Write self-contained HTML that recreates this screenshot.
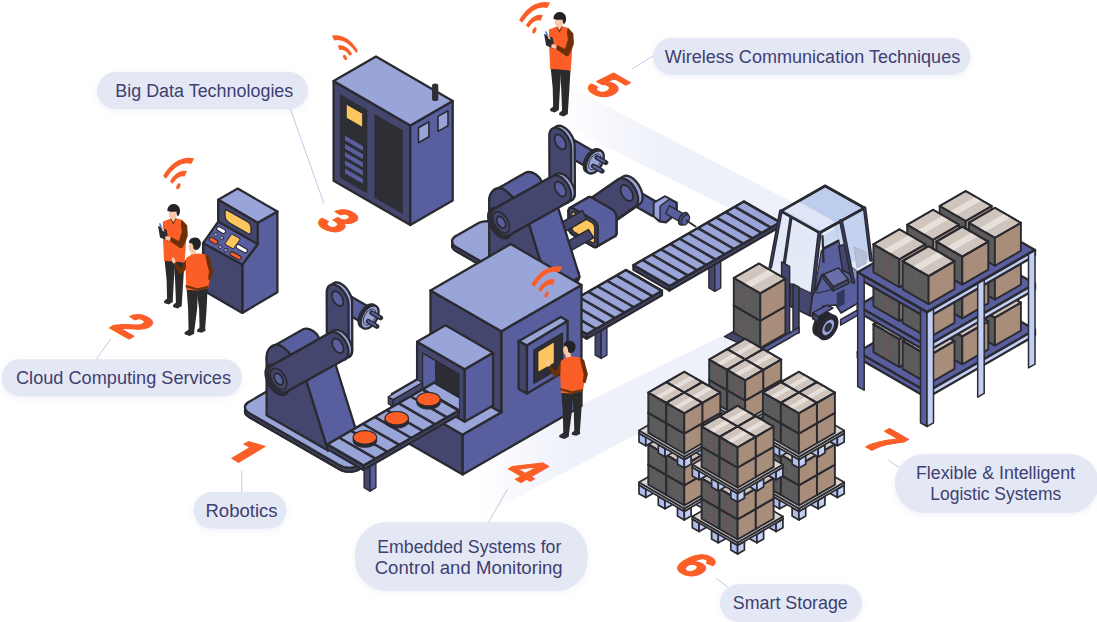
<!DOCTYPE html>
<html><head><meta charset="utf-8"><title>Industry 4.0</title>
<style>html,body{margin:0;padding:0;background:#fff;overflow:hidden}svg{display:block}</style></head>
<body><svg width="1097" height="622" viewBox="0 0 1097 622">
<defs><filter id="sh" x="-10%" y="-30%" width="120%" height="170%"><feDropShadow dx="0" dy="2" stdDeviation="3" flood-color="#8c96c8" flood-opacity="0.12"/></filter></defs>
<rect width="1097" height="622" fill="#fff"/>
<defs><linearGradient id="g1" gradientUnits="userSpaceOnUse" x1="556" y1="0" x2="660" y2="0"><stop offset="0" stop-color="#eff1fa" stop-opacity="0"/><stop offset="1" stop-color="#eff1fa" stop-opacity="1"/></linearGradient><linearGradient id="g2" gradientUnits="userSpaceOnUse" x1="475" y1="0" x2="570" y2="0"><stop offset="0" stop-color="#eff1fa" stop-opacity="0"/><stop offset="1" stop-color="#eff1fa" stop-opacity="1"/></linearGradient></defs>
<polygon points="556,80 556,121.5 790,238.5 800,206.2" fill="url(#g1)"/>
<polygon points="470,459 745,324.8 745,377.5 470,521.9" fill="url(#g2)"/>
<polygon points="230.9,458.2 248.9,447.4 242.8,444.1 248.6,440.9 266.3,446.3 238.5,462.9" fill="#fc5e27"/>
<text transform="matrix(0.866 0.500 -0.866 0.500 133.9 325.1)" x="0" y="16.5" text-anchor="middle" font-family="Liberation Sans, sans-serif" font-weight="bold" font-size="46" fill="#fc5e27" stroke="#fc5e27" stroke-width="1.6" stroke-linejoin="round">2</text>
<text transform="matrix(0.866 0.500 -0.866 0.500 339 220.5)" x="0" y="16.5" text-anchor="middle" font-family="Liberation Sans, sans-serif" font-weight="bold" font-size="46" fill="#fc5e27" stroke="#fc5e27" stroke-width="1.6" stroke-linejoin="round">3</text>
<text transform="matrix(0.866 0.500 -0.866 0.500 528.2 469.8)" x="0" y="16.5" text-anchor="middle" font-family="Liberation Sans, sans-serif" font-weight="bold" font-size="46" fill="#fc5e27" stroke="#fc5e27" stroke-width="1.6" stroke-linejoin="round">4</text>
<text transform="matrix(0.866 0.500 -0.866 0.500 608.5 85.4)" x="0" y="16.5" text-anchor="middle" font-family="Liberation Sans, sans-serif" font-weight="bold" font-size="46" fill="#fc5e27" stroke="#fc5e27" stroke-width="1.6" stroke-linejoin="round">5</text>
<text transform="matrix(0.866 0.500 -0.866 0.500 696.7 564.7)" x="0" y="16.5" text-anchor="middle" font-family="Liberation Sans, sans-serif" font-weight="bold" font-size="46" fill="#fc5e27" stroke="#fc5e27" stroke-width="1.6" stroke-linejoin="round">6</text>
<text transform="matrix(0.866 0.500 -0.866 0.500 885.9 441.6)" x="0" y="16.5" text-anchor="middle" font-family="Liberation Sans, sans-serif" font-weight="bold" font-size="46" fill="#fc5e27" stroke="#fc5e27" stroke-width="1.6" stroke-linejoin="round">7</text>
<polygon points="410.3,225 333.6,180.7 333.6,81.1 410.3,125.4" fill="#45466d" stroke="#2a2a31" stroke-width="2.3" stroke-linejoin="round" />
<polygon points="410.3,225 452.7,200.5 452.7,100.9 410.3,125.4" fill="#595e9f" stroke="#2a2a31" stroke-width="2.3" stroke-linejoin="round" />
<polygon points="410.3,125.4 333.6,81.1 376,56.6 452.7,100.9" fill="#99a5d9" stroke="#2a2a31" stroke-width="2.3" stroke-linejoin="round" />
<polygon points="340.2,94.5 367,110 367,193 340.2,177.5" fill="#2e2e35" stroke="#2a2a31" stroke-width="1" stroke-linejoin="round" stroke-dasharray="1 1"/>
<polygon points="374.8,114.5 402.5,130.5 402.5,213.5 374.8,197.5" fill="#2e2e35" stroke="#2a2a31" stroke-width="1" stroke-linejoin="round" stroke-dasharray="1 1"/>
<polygon points="346.2,104 362.7,113.5 362.7,127.5 346.2,118" fill="#fcc55d" stroke="#2a2a31" stroke-width="1" stroke-linejoin="round" />
<polygon points="344.5,135 363.5,146 363.5,151.6 344.5,140.6" fill="#595e9f" stroke="#2a2a31" stroke-width="0.8" stroke-linejoin="round" />
<polygon points="344.5,143.2 363.5,154.2 363.5,159.8 344.5,148.8" fill="#595e9f" stroke="#2a2a31" stroke-width="0.8" stroke-linejoin="round" />
<polygon points="344.5,151.4 363.5,162.4 363.5,168 344.5,157" fill="#595e9f" stroke="#2a2a31" stroke-width="0.8" stroke-linejoin="round" />
<polygon points="344.5,159.6 363.5,170.6 363.5,176.2 344.5,165.2" fill="#595e9f" stroke="#2a2a31" stroke-width="0.8" stroke-linejoin="round" />
<polygon points="344.5,167.8 363.5,178.8 363.5,184.4 344.5,173.4" fill="#595e9f" stroke="#2a2a31" stroke-width="0.8" stroke-linejoin="round" />
<polygon points="418.5,127.7 428.9,121.7 428.9,136.7 418.5,142.7" fill="#99a5d9" stroke="#2a2a31" stroke-width="1.6" stroke-linejoin="round" />
<polygon points="438,116.4 448,110.7 448,125.7 438,131.4" fill="#99a5d9" stroke="#2a2a31" stroke-width="1.6" stroke-linejoin="round" />
<path d="M432.7 85.5 V99 a2.5 1.5 0 0 0 5 0 V85.5 a2.5 1.5 0 0 0 -5 0Z" fill="#2e2e35" stroke="#2a2a31" stroke-width="1.2"/>
<path d="M331.9 35.6 Q347.1 33 357.9 50.7 L356.4 53 Q345.8 37.9 334.2 40.4 Z M337.8 45.6 Q345.9 43.8 352.1 53.9 L349.9 56 Q344.9 48.5 339.4 50.1 Z" fill="#fc5e27"/>
<ellipse cx="345" cy="57.5" rx="1.7" ry="2.8" fill="#fc5e27" transform="rotate(-30 345 57.5)"/>
<polygon points="257.6,222.8 277.4,211.5 277.4,292.2 242.3,312.9 242.3,264.5 257.6,244.2" fill="#595e9f" stroke="#2a2a31" stroke-width="2.3" stroke-linejoin="round" />
<polygon points="218.2,199.8 237.7,188.6 277.4,211.5 257.6,222.8" fill="#99a5d9" stroke="#2a2a31" stroke-width="2.3" stroke-linejoin="round" />
<polygon points="218.2,199.8 257.6,222.8 257.6,244.2 218.2,221.7" fill="#45466d" stroke="#2a2a31" stroke-width="2.3" stroke-linejoin="round" />
<polygon points="203.1,243.1 242.3,264.5 242.3,312.9 203.1,290.2" fill="#45466d" stroke="#2a2a31" stroke-width="2.3" stroke-linejoin="round" />
<polygon points="218.2,221.7 257.6,244.2 242.3,264.5 203.1,243.1" fill="#595e9f" stroke="#2a2a31" stroke-width="2.3" stroke-linejoin="round" />
<path d="M225 212.3 Q224.6 208.8 228 210.6 L247.5 221.8 Q251 224 251 228 L251 232 Q251 235.2 247.5 233.3 L230 223.2 Q225.3 220.5 225 216 Z" fill="#fcc55d" stroke="#2a2a31" stroke-width="1.3" stroke-linejoin="round" stroke-linecap="round" />
<line x1="218.8" y1="228.7" x2="223.5" y2="231.4" stroke="#2a2a31" stroke-width="5.2" stroke-linecap="round" />
<line x1="218.8" y1="228.7" x2="223.5" y2="231.4" stroke="#ffffff" stroke-width="3" stroke-linecap="round" />
<line x1="238.2" y1="246.6" x2="245.3" y2="250.7" stroke="#2a2a31" stroke-width="5.2" stroke-linecap="round" />
<line x1="238.2" y1="246.6" x2="245.3" y2="250.7" stroke="#ffffff" stroke-width="3" stroke-linecap="round" />
<line x1="211.3" y1="239.4" x2="216" y2="242.1" stroke="#2a2a31" stroke-width="5.2" stroke-linecap="round" />
<line x1="211.3" y1="239.4" x2="216" y2="242.1" stroke="#fc5e27" stroke-width="3" stroke-linecap="round" />
<line x1="232.1" y1="253.7" x2="239.2" y2="257.7" stroke="#2a2a31" stroke-width="5.2" stroke-linecap="round" />
<line x1="232.1" y1="253.7" x2="239.2" y2="257.7" stroke="#fc5e27" stroke-width="3" stroke-linecap="round" />
<polygon points="231.7,233.9 240.4,238.9 233.3,248.9 224.6,244" fill="#fcc55d" stroke="#2a2a31" stroke-width="1" stroke-linejoin="round" />
<ellipse cx="215.8" cy="234.5" rx="1.9" ry="1.7" fill="#99a5d9" stroke="#2a2a31" stroke-width="1" transform="rotate(0 215.8 234.5)"/>
<ellipse cx="221.7" cy="237.8" rx="1.9" ry="1.7" fill="#99a5d9" stroke="#2a2a31" stroke-width="1" transform="rotate(0 221.7 237.8)"/>
<ellipse cx="220.3" cy="246.9" rx="1.9" ry="1.7" fill="#99a5d9" stroke="#2a2a31" stroke-width="1" transform="rotate(0 220.3 246.9)"/>
<ellipse cx="225.8" cy="250.1" rx="1.9" ry="1.7" fill="#99a5d9" stroke="#2a2a31" stroke-width="1" transform="rotate(0 225.8 250.1)"/>
<path d="M163.1 175.9 Q175.6 155 194.2 158.3 L191.3 164 Q178.3 160 165.9 178.7 Z M169.9 181.2 Q177.4 168.5 186.9 171.1 L184.6 176.6 Q178.7 174.6 172.5 183.7 Z" fill="#fc5e27"/>
<ellipse cx="178.4" cy="186.3" rx="1.8" ry="3.2" fill="#fc5e27" transform="rotate(25 178.4 186.3)"/>
<polygon points="164.6,260 174.6,261 174.1,276 172.8,300 167.1,300 166.6,280" fill="#2b2b2e"/>
<polygon points="173.6,261 184.4,262 183.2,282 181.8,304 176,304 175.1,280" fill="#2b2b2e"/>
<polygon points="164.1,301 167.1,298.5 172.8,299.5 172.8,302 168.6,304.5 164.1,303" fill="#2d2c33"/>
<polygon points="173.1,305 176,302.5 181.8,303.5 181.8,306 177.6,308.5 173.1,307" fill="#2d2c33"/>
<polygon points="171.1,216 176.1,216 176.1,223 171.1,223" fill="#fbc8a7"/>
<ellipse cx="172.8" cy="214.2" rx="4" ry="5.2" fill="#fbc8a7"/>
<path d="M167.3 210.5 a6.3 6 0 0 1 12.6 -0.8 q0.6 4 -2.2 6.8 q-1.2 -2.5 -1.4 -5 q-4 0.8 -8 -0.3 q-0.8 -0.2 -1 -0.7z" fill="#232326"/>
<polygon points="162.8,221.5 170.2,218.8 173.3,223 176.8,218.6 181.8,219.8 187,225.5 186.1,242 184.6,262.8 175.6,261.5 164.1,261 163.1,240" fill="#fc5e27"/>
<polygon points="170.2,218.8 173.3,224.5 176.8,218.6 175.8,218.3 173.3,222.3 171,218.5" fill="#6d3008"/>
<polygon points="181.8,219.8 187.2,225.5 187.8,236 182.8,247.5 180.6,248.5 169,240.5 170.4,236.8 178.8,241 181.8,232 180.8,224" fill="#6d3008"/>
<polygon points="158,225.8 166.6,229.8 168.6,241 160,237.6" fill="#2b2b32"/>
<polygon points="158.8,223.5 160.4,223.2 162.4,228 161.2,228.6" fill="#3c7be0"/>
<polygon points="165.6,236 170.6,237 170,241 165.1,239.5" fill="#fbc8a7"/>
<polygon points="161.1,227 163.1,227.5 164.6,231.5 162.6,231" fill="#fbc8a7"/>
<polygon points="186.6,288.2 198.1,289.2 197.1,309.2 194.1,332.2 188.6,331.2 188.1,309.2" fill="#2b2b2e"/>
<polygon points="196.6,289.2 207.6,287.2 206.6,309.2 205.1,329.2 199.6,329.7 199.1,309.2" fill="#2b2b2e"/>
<polygon points="184.6,332.2 188.6,329.7 194.1,331.2 194.1,333.7 189.6,336 184.6,334.2" fill="#2d2c33"/>
<polygon points="197.1,329.7 199.6,327.7 205.1,328.2 205.6,330.7 201.6,332.7 197.1,331.7" fill="#2d2c33"/>
<ellipse cx="192.4" cy="247" rx="4" ry="5.2" fill="#fbc8a7"/>
<polygon points="190.6,249.2 195.6,249.2 196.6,255.7 191.1,255.7" fill="#fbc8a7"/>
<path d="M188.8 242.4 a6.2 6 0 0 1 12 -0.6 q0.6 4.8 -2.6 7.6 q-3 1.2 -4.6 -0.6 q-0.2 -3.2 -1.4 -5.4 q-1.8 -0.2 -3.4 -1z" fill="#232326"/>
<polygon points="188.1,256.7 191.1,263.2 182.1,273.7 179.1,273.7 173.6,263.7 175.8,262.2 180.6,268.2 185.6,259.7" fill="#6d3008"/>
<polygon points="172,257.4 174,257.2 175.8,262.2 173.6,263.7 171.6,260.7" fill="#fbc8a7"/>
<polygon points="186.1,258 191.6,254.4 198.6,253.4 205.1,254.2 209.2,257.2 210.6,274.2 208.2,288 197.6,290.5 186.4,289.8 185.6,273.2" fill="#fc5e27"/>
<polygon points="185.6,287.2 197.6,290.5 208.2,288 208.4,285.8 197.6,288.2 185.6,285" fill="#6d3008"/>
<polygon points="205.1,254.2 209.4,256.8 213.2,271.2 210.8,280.2 208,279.2 209,271.2 206.6,262.2" fill="#6d3008"/>
<polygon points="550.7,68 560.7,69 560.2,84 558.9,108 553.2,108 552.7,88" fill="#2b2b2e"/>
<polygon points="559.7,69 570.5,70 569.3,90 567.9,112 562.1,112 561.2,88" fill="#2b2b2e"/>
<polygon points="550.2,109 553.2,106.5 558.9,107.5 558.9,110 554.7,112.5 550.2,111" fill="#2d2c33"/>
<polygon points="559.2,113 562.1,110.5 567.9,111.5 567.9,114 563.7,116.5 559.2,115" fill="#2d2c33"/>
<polygon points="557.2,24 562.2,24 562.2,31 557.2,31" fill="#fbc8a7"/>
<ellipse cx="558.9" cy="22.2" rx="4" ry="5.2" fill="#fbc8a7"/>
<path d="M553.4 18.5 a6.3 6 0 0 1 12.6 -0.8 q0.6 4 -2.2 6.8 q-1.2 -2.5 -1.4 -5 q-4 0.8 -8 -0.3 q-0.8 -0.2 -1 -0.7z" fill="#232326"/>
<polygon points="548.9,29.5 556.3,26.8 559.4,31 562.9,26.6 567.9,27.8 573.1,33.5 572.2,50 570.7,70.8 561.7,69.5 550.2,69 549.2,48" fill="#fc5e27"/>
<polygon points="556.3,26.8 559.4,32.5 562.9,26.6 561.9,26.3 559.4,30.3 557.1,26.5" fill="#6d3008"/>
<polygon points="567.9,27.8 573.3,33.5 573.9,44 568.9,55.5 566.7,56.5 555.1,48.5 556.5,44.8 564.9,49 567.9,40 566.9,32" fill="#6d3008"/>
<polygon points="544.1,33.8 552.7,37.8 554.7,49 546.1,45.6" fill="#2b2b32"/>
<polygon points="544.9,31.5 546.5,31.2 548.5,36 547.3,36.6" fill="#3c7be0"/>
<polygon points="551.7,44 556.7,45 556.1,49 551.2,47.5" fill="#fbc8a7"/>
<polygon points="547.2,35 549.2,35.5 550.7,39.5 548.7,39" fill="#fbc8a7"/>
<path d="M519.1 20 Q531.6 -0.9 550.2 2.4 L547.3 8.1 Q534.3 4.1 521.9 22.8 Z M525.9 25.3 Q533.4 12.6 542.9 15.2 L540.6 20.7 Q534.7 18.7 528.5 27.8 Z" fill="#fc5e27"/>
<ellipse cx="534.4" cy="30.4" rx="1.8" ry="3.2" fill="#fc5e27" transform="rotate(25 534.4 30.4)"/>
<polygon points="456,240 454.4,241.2 453.1,242.5 452.3,244 452.1,245.5 452.3,247 453.1,248.5 454.4,249.8 456,251 534,296 536,297 538.3,297.7 540.9,298.1 543.5,298.3 546.1,298.1 548.7,297.7 551,297 553,296 574.7,283.5 576.3,282.3 577.6,281 578.4,279.5 578.6,278 578.4,276.5 577.6,275 576.3,273.7 574.7,272.5 496.7,227.5 494.7,226.5 492.4,225.8 489.8,225.4 487.2,225.2 484.6,225.4 482,225.8 479.7,226.5 477.7,227.5" fill="#45466d" stroke="#2a2a31" stroke-width="2.3" stroke-linejoin="round" />
<polygon points="456,236 454.4,237.2 453.1,238.5 452.3,240 452.1,241.5 452.3,243 453.1,244.5 454.4,245.8 456,247 534,292 536,293 538.3,293.7 540.9,294.1 543.5,294.3 546.1,294.1 548.7,293.7 551,293 553,292 574.7,279.5 576.3,278.3 577.6,277 578.4,275.5 578.6,274 578.4,272.5 577.6,271 576.3,269.7 574.7,268.5 574.7,272.5 576.3,273.7 577.6,275 578.4,276.5 578.6,278 578.4,279.5 577.6,281 576.3,282.3 574.7,283.5 553,296 551,297 548.7,297.7 546.1,298.1 543.5,298.3 540.9,298.1 538.3,297.7 536,297 534,296 456,251 454.4,249.8 453.1,248.5 452.3,247 452.1,245.5 452.3,244 453.1,242.5 454.4,241.2 456,240" fill="#45466d" stroke="#2a2a31" stroke-width="2.3" stroke-linejoin="round" />
<polygon points="456,236 454.4,237.2 453.1,238.5 452.3,240 452.1,241.5 452.3,243 453.1,244.5 454.4,245.8 456,247 534,292 536,293 538.3,293.7 540.9,294.1 543.5,294.3 546.1,294.1 548.7,293.7 551,293 553,292 574.7,279.5 576.3,278.3 577.6,277 578.4,275.5 578.6,274 578.4,272.5 577.6,271 576.3,269.7 574.7,268.5 496.7,223.5 494.7,222.5 492.4,221.8 489.8,221.4 487.2,221.2 484.6,221.4 482,221.8 479.7,222.5 477.7,223.5" fill="#99a5d9" stroke="#2a2a31" stroke-width="2.3" stroke-linejoin="round" />
<polygon points="639.4,192.1 660.2,204.1 652.3,215.9 631.5,203.9" fill="#595e9f" stroke="#2a2a31" stroke-width="2.3" stroke-linejoin="round" />
<polygon points="653.9,202.8 665.1,196.4 676.7,202.8 676.7,213.4 665.9,222.4 659.5,221.3 653.9,216.4" fill="#595e9f" stroke="#2a2a31" stroke-width="2.3" stroke-linejoin="round" />
<polygon points="653.9,202.8 665.1,196.4 669.5,199 660,206.2 660,221.3 653.9,216.4" fill="#99a5d9" stroke="#2a2a31" stroke-width="1.4" stroke-linejoin="round" />
<polygon points="669.4,205.7 683.9,214.1 680.1,221.9 665.6,213.5" fill="#595e9f" stroke="#2a2a31" stroke-width="1.4" stroke-linejoin="round" />
<polygon points="688.2,216 688.1,214.8 687.8,213.8 687.2,213.1 686.4,212.7 685.5,212.5 684.5,212.7 683.4,213.2 682.3,214 681.3,215 680.4,216.2 679.6,217.5 679,218.9 678.7,220.3 678.6,221.6 678.7,222.8 679,223.8 679.6,224.5 680.4,224.9 681.3,225.1 682.3,224.9 683.4,224.4 684.5,223.6 685.5,222.6 686.4,221.4 687.2,220.1 687.8,218.7 688.1,217.3" fill="#45466d" stroke="#2a2a31" stroke-width="1.4" stroke-linejoin="round" />
<polygon points="689.6,217.7 689.5,216.7 689.2,215.9 688.7,215.3 688.1,215 687.3,214.9 686.5,215 685.6,215.4 684.7,216 683.9,216.9 683.1,217.8 682.5,218.9 682,220.1 681.7,221.2 681.6,222.3 681.7,223.3 682,224.1 682.5,224.7 683.1,225 683.9,225.1 684.7,225 685.6,224.6 686.5,224 687.3,223.1 688.1,222.2 688.7,221.1 689.2,219.9 689.5,218.8" fill="#595e9f" stroke="#2a2a31" stroke-width="1.2" stroke-linejoin="round" />
<line x1="686.5" y1="220.6" x2="695.5" y2="226.6" stroke="#2a2a31" stroke-width="1.8" stroke-linecap="round" />
<polygon points="616.4,216.9 616.2,215.5 615.8,214 615.1,212.6 614.2,211.3 613.2,210.2 612,209.4 591.6,197.6 590.5,197.1 589.4,197 588.5,197.2 587.9,197.9 587.4,198.8 587.3,200.1 587.3,216.4 587.4,217.8 587.9,219.3 588.5,220.7 589.4,222 590.5,223.1 591.6,223.9 612,235.8 613.2,236.2 614.2,236.3 615.1,236.1 615.8,235.4 616.2,234.5 616.4,233.2" fill="#595e9f" stroke="#2a2a31" stroke-width="2.3" stroke-linejoin="round" />
<polygon points="597.7,227.6 597.6,226.2 616.2,215.5 616.4,216.9" fill="#595e9f" stroke="#595e9f" stroke-width="0.6"/>
<polygon points="597.6,226.2 597.2,224.8 615.8,214 616.2,215.5" fill="#595e9f" stroke="#595e9f" stroke-width="0.6"/>
<polygon points="597.2,224.8 596.5,223.3 615.1,212.6 615.8,214" fill="#595e9f" stroke="#595e9f" stroke-width="0.6"/>
<polygon points="596.5,223.3 595.6,222 614.2,211.3 615.1,212.6" fill="#595e9f" stroke="#595e9f" stroke-width="0.6"/>
<polygon points="595.6,222 594.5,220.9 613.2,210.2 614.2,211.3" fill="#595e9f" stroke="#595e9f" stroke-width="0.6"/>
<polygon points="594.5,220.9 593.4,220.1 612,209.4 613.2,210.2" fill="#595e9f" stroke="#595e9f" stroke-width="0.6"/>
<polygon points="593.4,220.1 573,208.3 591.6,197.6 612,209.4" fill="#595e9f" stroke="#595e9f" stroke-width="0.6"/>
<polygon points="573,208.3 571.9,207.8 590.5,197.1 591.6,197.6" fill="#595e9f" stroke="#595e9f" stroke-width="0.6"/>
<polygon points="571.9,207.8 570.8,207.7 589.4,197 590.5,197.1" fill="#595e9f" stroke="#595e9f" stroke-width="0.6"/>
<polygon points="570.8,207.7 569.9,208 588.5,197.2 589.4,197" fill="#595e9f" stroke="#595e9f" stroke-width="0.6"/>
<polygon points="569.9,208 569.2,208.6 587.9,197.9 588.5,197.2" fill="#595e9f" stroke="#595e9f" stroke-width="0.6"/>
<polygon points="569.2,208.6 568.8,209.6 587.4,198.8 587.9,197.9" fill="#595e9f" stroke="#595e9f" stroke-width="0.6"/>
<polygon points="568.8,209.6 568.7,210.8 587.3,200.1 587.4,198.8" fill="#595e9f" stroke="#595e9f" stroke-width="0.6"/>
<polygon points="568.7,210.8 568.7,227.2 587.3,216.4 587.3,200.1" fill="#595e9f" stroke="#595e9f" stroke-width="0.6"/>
<polygon points="568.7,227.2 568.8,228.6 587.4,217.8 587.3,216.4" fill="#595e9f" stroke="#595e9f" stroke-width="0.6"/>
<polygon points="568.8,228.6 569.2,230 587.9,219.3 587.4,217.8" fill="#595e9f" stroke="#595e9f" stroke-width="0.6"/>
<polygon points="569.2,230 569.9,231.5 588.5,220.7 587.9,219.3" fill="#595e9f" stroke="#595e9f" stroke-width="0.6"/>
<polygon points="569.9,231.5 570.8,232.8 589.4,222 588.5,220.7" fill="#595e9f" stroke="#595e9f" stroke-width="0.6"/>
<polygon points="570.8,232.8 571.9,233.9 590.5,223.1 589.4,222" fill="#595e9f" stroke="#595e9f" stroke-width="0.6"/>
<polygon points="571.9,233.9 573,234.7 591.6,223.9 590.5,223.1" fill="#595e9f" stroke="#595e9f" stroke-width="0.6"/>
<polygon points="573,234.7 593.4,246.5 612,235.8 591.6,223.9" fill="#595e9f" stroke="#595e9f" stroke-width="0.6"/>
<polygon points="593.4,246.5 594.5,247 613.2,236.2 612,235.8" fill="#595e9f" stroke="#595e9f" stroke-width="0.6"/>
<polygon points="594.5,247 595.6,247.1 614.2,236.3 613.2,236.2" fill="#595e9f" stroke="#595e9f" stroke-width="0.6"/>
<polygon points="595.6,247.1 596.5,246.8 615.1,236.1 614.2,236.3" fill="#595e9f" stroke="#595e9f" stroke-width="0.6"/>
<polygon points="596.5,246.8 597.2,246.2 615.8,235.4 615.1,236.1" fill="#595e9f" stroke="#595e9f" stroke-width="0.6"/>
<polygon points="597.2,246.2 597.6,245.2 616.2,234.5 615.8,235.4" fill="#595e9f" stroke="#595e9f" stroke-width="0.6"/>
<polygon points="597.6,245.2 597.7,244 616.4,233.2 616.2,234.5" fill="#595e9f" stroke="#595e9f" stroke-width="0.6"/>
<polygon points="597.7,244 597.7,227.6 616.4,216.9 616.4,233.2" fill="#595e9f" stroke="#595e9f" stroke-width="0.6"/>
<polygon points="568.6,210.8 568.8,209.6 569.2,208.6 569.9,208 588.5,197.2 589.4,197 590.5,197.1 591.6,197.6 612,209.3 613.2,210.2 614.2,211.3 615.1,212.6 615.8,214 616.2,215.5 616.4,216.8 616.4,233.2 616.2,234.5 615.8,235.4 615.1,236.1 596.5,246.8 595.6,247.1 594.5,247 593.4,246.5 573,234.7 571.9,233.9 570.8,232.8 569.9,231.5 569.2,230 568.8,228.6 568.6,227.2" fill="none" stroke="#2a2a31" stroke-width="2.3" stroke-linejoin="round" />
<polygon points="639.6,204.3 640.9,203 641.9,201.2 642.4,199 642.5,196.5 642.2,193.7 641.5,190.9 640.3,188 638.8,185.2 637,182.6 635,180.3 632.8,178.4 630.6,177 628.4,176.1 626.3,175.7 624.3,176 622.7,176.7 597.4,194.2 614.3,221.8" fill="#99a5d9" stroke="#2a2a31" stroke-width="2.3" stroke-linejoin="round" />
<polygon points="635.3,206.8 636.6,205.5 637.6,203.7 638.1,201.5 638.2,199 637.9,196.2 637.1,193.4 636,190.5 634.5,187.7 632.7,185.1 630.7,182.8 628.5,180.9 626.3,179.5 624,178.6 621.9,178.2 620,178.5 618.3,179.2 593,196.7 610,224.3" fill="#45466d" stroke="#2a2a31" stroke-width="2.3" stroke-linejoin="round" />
<polygon points="633,196.6 632.9,194.9 632.4,193.1 631.7,191.3 630.7,189.6 629.5,188.1 628.2,186.8 626.8,185.8 625.4,185.2 624.1,185 622.9,185.1 621.9,185.7 621.2,186.6 620.7,187.9 620.6,189.4 620.7,191.1 621.2,192.9 621.9,194.7 622.9,196.4 624.1,197.9 625.4,199.2 626.8,200.2 628.2,200.8 629.5,201 630.7,200.9 631.7,200.3 632.4,199.4 632.9,198.1" fill="#595e9f" stroke="#2a2a31" stroke-width="1.8" stroke-linejoin="round" />
<polygon points="597.7,227.6 597.6,226.2 616.2,215.5 616.4,216.9" fill="#595e9f" stroke="#595e9f" stroke-width="0.6"/>
<polygon points="597.6,226.2 597.2,224.8 615.8,214 616.2,215.5" fill="#595e9f" stroke="#595e9f" stroke-width="0.6"/>
<polygon points="597.2,224.8 596.5,223.3 615.1,212.6 615.8,214" fill="#595e9f" stroke="#595e9f" stroke-width="0.6"/>
<polygon points="596.5,223.3 595.6,222 614.2,211.3 615.1,212.6" fill="#595e9f" stroke="#595e9f" stroke-width="0.6"/>
<polygon points="595.6,222 594.5,220.9 613.2,210.2 614.2,211.3" fill="#595e9f" stroke="#595e9f" stroke-width="0.6"/>
<polygon points="594.5,220.9 593.4,220.1 612,209.4 613.2,210.2" fill="#595e9f" stroke="#595e9f" stroke-width="0.6"/>
<polygon points="593.4,220.1 573,208.3 591.6,197.6 612,209.4" fill="#595e9f" stroke="#595e9f" stroke-width="0.6"/>
<polygon points="573,208.3 571.9,207.8 590.5,197.1 591.6,197.6" fill="#595e9f" stroke="#595e9f" stroke-width="0.6"/>
<polygon points="571.9,207.8 570.8,207.7 589.4,197 590.5,197.1" fill="#595e9f" stroke="#595e9f" stroke-width="0.6"/>
<polygon points="570.8,207.7 569.9,208 588.5,197.2 589.4,197" fill="#595e9f" stroke="#595e9f" stroke-width="0.6"/>
<polygon points="569.9,208 569.2,208.6 587.9,197.9 588.5,197.2" fill="#595e9f" stroke="#595e9f" stroke-width="0.6"/>
<polygon points="569.2,208.6 568.8,209.6 587.4,198.8 587.9,197.9" fill="#595e9f" stroke="#595e9f" stroke-width="0.6"/>
<polygon points="568.8,209.6 568.7,210.8 587.3,200.1 587.4,198.8" fill="#595e9f" stroke="#595e9f" stroke-width="0.6"/>
<polygon points="568.7,210.8 568.7,227.2 587.3,216.4 587.3,200.1" fill="#595e9f" stroke="#595e9f" stroke-width="0.6"/>
<polygon points="568.7,227.2 568.8,228.6 587.4,217.8 587.3,216.4" fill="#595e9f" stroke="#595e9f" stroke-width="0.6"/>
<polygon points="568.8,228.6 569.2,230 587.9,219.3 587.4,217.8" fill="#595e9f" stroke="#595e9f" stroke-width="0.6"/>
<polygon points="569.2,230 569.9,231.5 588.5,220.7 587.9,219.3" fill="#595e9f" stroke="#595e9f" stroke-width="0.6"/>
<polygon points="569.9,231.5 570.8,232.8 589.4,222 588.5,220.7" fill="#595e9f" stroke="#595e9f" stroke-width="0.6"/>
<polygon points="570.8,232.8 571.9,233.9 590.5,223.1 589.4,222" fill="#595e9f" stroke="#595e9f" stroke-width="0.6"/>
<polygon points="571.9,233.9 573,234.7 591.6,223.9 590.5,223.1" fill="#595e9f" stroke="#595e9f" stroke-width="0.6"/>
<polygon points="573,234.7 593.4,246.5 612,235.8 591.6,223.9" fill="#595e9f" stroke="#595e9f" stroke-width="0.6"/>
<polygon points="593.4,246.5 594.5,247 613.2,236.2 612,235.8" fill="#595e9f" stroke="#595e9f" stroke-width="0.6"/>
<polygon points="594.5,247 595.6,247.1 614.2,236.3 613.2,236.2" fill="#595e9f" stroke="#595e9f" stroke-width="0.6"/>
<polygon points="595.6,247.1 596.5,246.8 615.1,236.1 614.2,236.3" fill="#595e9f" stroke="#595e9f" stroke-width="0.6"/>
<polygon points="596.5,246.8 597.2,246.2 615.8,235.4 615.1,236.1" fill="#595e9f" stroke="#595e9f" stroke-width="0.6"/>
<polygon points="597.2,246.2 597.6,245.2 616.2,234.5 615.8,235.4" fill="#595e9f" stroke="#595e9f" stroke-width="0.6"/>
<polygon points="597.6,245.2 597.7,244 616.4,233.2 616.2,234.5" fill="#595e9f" stroke="#595e9f" stroke-width="0.6"/>
<polygon points="597.7,244 597.7,227.6 616.4,216.9 616.4,233.2" fill="#595e9f" stroke="#595e9f" stroke-width="0.6"/>
<polygon points="568.6,210.8 568.8,209.6 569.2,208.6 569.9,208 588.5,197.2 589.4,197 590.5,197.1 591.6,197.6 612,209.3 613.2,210.2 614.2,211.3 615.1,212.6 615.8,214 616.2,215.5 616.4,216.8 616.4,233.2 616.2,234.5 615.8,235.4 615.1,236.1 596.5,246.8 595.6,247.1 594.5,247 593.4,246.5 573,234.7 571.9,233.9 570.8,232.8 569.9,231.5 569.2,230 568.8,228.6 568.6,227.2" fill="none" stroke="#2a2a31" stroke-width="2.3" stroke-linejoin="round" />
<polygon points="597.7,227.6 597.6,226.2 597.2,224.8 596.5,223.3 595.6,222 594.5,220.9 593.4,220.1 573,208.3 571.9,207.8 570.8,207.7 569.9,208 569.2,208.6 568.8,209.6 568.7,210.8 568.7,227.2 568.8,228.6 569.2,230 569.9,231.5 570.8,232.8 571.9,233.9 573,234.7 593.4,246.5 594.5,247 595.6,247.1 596.5,246.8 597.2,246.2 597.6,245.2 597.7,244" fill="#45466d" stroke="#2a2a31" stroke-width="2.3" stroke-linejoin="round" />
<polygon points="594.8,227.6 594.7,226.6 594.4,225.6 593.9,224.6 593.3,223.7 592.6,222.9 591.8,222.3 574.6,212.5 573.8,212.1 573.1,212 572.5,212.2 572,212.7 571.7,213.4 571.6,214.2 571.6,227.2 571.7,228.2 572,229.2 572.5,230.2 573.1,231.1 573.8,231.9 574.6,232.5 591.8,242.3 592.6,242.7 593.3,242.8 593.9,242.6 594.4,242.1 594.7,241.4 594.8,240.6" fill="#fcc55d" stroke="#2a2a31" stroke-width="1.5" stroke-linejoin="round" />
<polygon points="552.4,227.8 582.4,210.5 586.6,219.1 557.7,235.8" fill="#45466d" stroke="#2a2a31" stroke-width="1.6" stroke-linejoin="round" />
<polygon points="558.4,233.8 558.3,232.8 558.1,231.9 557.7,230.9 557.2,230 556.5,229.1 555.8,228.4 555.1,227.9 554.3,227.6 553.6,227.4 552.9,227.5 552.4,227.8 552,228.4 551.8,229 551.7,229.9 551.8,230.8 552,231.7 552.4,232.7 552.9,233.6 553.6,234.5 554.3,235.2 555.1,235.7 555.8,236 556.5,236.2 557.2,236.1 557.7,235.8 558.1,235.2 558.3,234.6" fill="#45466d" stroke="#2a2a31" stroke-width="1.6" stroke-linejoin="round" />
<polygon points="559.4,246.3 588.4,229.6 593.6,237.6 563.7,254.9" fill="#45466d" stroke="#2a2a31" stroke-width="1.6" stroke-linejoin="round" />
<polygon points="564.9,252.5 564.8,251.6 564.6,250.7 564.2,249.7 563.7,248.8 563,247.9 562.3,247.2 561.6,246.7 560.8,246.4 560.1,246.2 559.4,246.3 558.9,246.6 558.5,247.2 558.3,247.8 558.2,248.7 558.3,249.6 558.5,250.5 558.9,251.5 559.4,252.4 560.1,253.3 560.8,254 561.6,254.5 562.3,254.8 563,255 563.7,254.9 564.2,254.6 564.6,254 564.8,253.4" fill="#45466d" stroke="#2a2a31" stroke-width="1.6" stroke-linejoin="round" />
<path d="M489.2 203.5 C489.2 194.8 492.1 191.9 495 190 L524.9 173 C529.7 170.5 535.5 173.1 539.3 177.4 L558.6 209.3 L579.7 277 L550.5 293.9 L528.7 223.7 Z" fill="#595e9f" stroke="#2a2a31" stroke-width="2.3" stroke-linejoin="round" stroke-linecap="round" />
<path d="M489.2 258.5 L489.2 199.6 C489.6 191.9 495 188 499.8 188 C508.5 189 522 207.3 528.7 223.7 L550.5 293.9 Z" fill="#45466d" stroke="#2a2a31" stroke-width="2.3" stroke-linejoin="round" stroke-linecap="round" />
<polygon points="570.9,138.2 597.8,153.7 590.2,169.1 563.3,153.6" fill="#595e9f" stroke="#2a2a31" stroke-width="2.3" stroke-linejoin="round" />
<polygon points="601.8,155.5 601.5,153.3 600.9,151.5 599.8,150.2 598.4,149.3 596.7,149.1 594.8,149.4 592.8,150.3 590.8,151.7 588.9,153.6 587.1,155.8 585.7,158.3 584.6,160.9 584,163.5 583.8,165.9 584,168.1 584.6,169.9 585.7,171.2 587.1,172.1 588.9,172.3 590.8,172 592.8,171.1 594.8,169.7 596.7,167.8 598.4,165.6 599.8,163.1 600.9,160.5 601.5,157.9" fill="#45466d" stroke="#2a2a31" stroke-width="2.3" stroke-linejoin="round" />
<polygon points="603.8,156.7 603.6,154.5 603,152.7 601.9,151.4 600.5,150.5 598.7,150.3 596.8,150.6 594.8,151.5 592.8,152.9 590.9,154.8 589.2,157 587.8,159.5 586.7,162.1 586.1,164.7 585.8,167.1 586.1,169.3 586.7,171.1 587.8,172.4 589.2,173.3 590.9,173.5 592.8,173.2 594.8,172.3 596.8,170.9 598.7,169 600.5,166.8 601.9,164.3 603,161.7 603.6,159.1" fill="#99a5d9" stroke="#2a2a31" stroke-width="2.3" stroke-linejoin="round" />
<polygon points="601.1,158.3 600.9,156.8 600.5,155.5 599.7,154.6 598.7,154 597.5,153.9 596.2,154.1 594.8,154.7 593.5,155.7 592.1,157 591,158.5 590,160.2 589.2,162 588.8,163.8 588.6,165.5 588.8,167 589.2,168.3 590,169.2 591,169.8 592.1,169.9 593.5,169.7 594.8,169.1 596.2,168.1 597.5,166.8 598.7,165.3 599.7,163.6 600.5,161.8 600.9,160" fill="#99a5d9" stroke="#2a2a31" stroke-width="0.9" stroke-linejoin="round" />
<line x1="597.1" y1="157.6" x2="605.8" y2="162.6" stroke="#2a2a31" stroke-width="5" stroke-linecap="round" />
<line x1="597.4" y1="157.8" x2="604.2" y2="161.7" stroke="#595e9f" stroke-width="2.2" stroke-linecap="round" />
<line x1="593.5" y1="166.1" x2="602.1" y2="171.1" stroke="#2a2a31" stroke-width="5" stroke-linecap="round" />
<line x1="593.7" y1="166.3" x2="600.6" y2="170.2" stroke="#595e9f" stroke-width="2.2" stroke-linecap="round" />
<polygon points="574.7,146 574.5,143.5 573.9,140.7 572.9,138 571.5,135.3 569.9,132.8 568,130.5 565.9,128.6 563.8,127.2 561.7,126.2 559.6,125.7 557.7,125.8 556.1,126.5 554.7,127.6 553.7,129.2 553.1,131.2 552.9,133.6 553.1,180.8 553.3,183.3 554,186.1 555,188.8 556.4,191.5 558,194 559.9,196.3 562,198.2 564.1,199.6 566.2,200.6 568.3,201.1 570.1,201 571.8,200.3 573.1,199.2 574.1,197.6 574.7,195.6 574.9,193.2" fill="#99a5d9" stroke="#2a2a31" stroke-width="2.3" stroke-linejoin="round" />
<polygon points="571.1,148.1 570.9,145.6 570.3,142.8 569.2,140.1 567.9,137.4 566.2,134.9 564.3,132.6 562.3,130.7 560.1,129.3 558,128.3 556,127.8 554.1,127.9 552.4,128.6 551.1,129.7 550.1,131.3 549.5,133.3 549.3,135.7 549.5,182.9 549.7,185.4 550.3,188.2 551.4,190.9 552.7,193.6 554.4,196.1 556.3,198.4 558.3,200.3 560.5,201.7 562.6,202.7 564.6,203.2 566.5,203.1 568.2,202.4 569.5,201.3 570.5,199.7 571.1,197.7 571.3,195.3" fill="#45466d" stroke="#2a2a31" stroke-width="2.3" stroke-linejoin="round" />
<polygon points="565.9,145.2 565.8,143.6 565.3,142 564.7,140.4 563.8,138.8 562.7,137.4 561.5,136.2 560.2,135.3 558.9,134.7 557.7,134.5 556.6,134.7 555.7,135.2 555.1,136.1 554.6,137.2 554.5,138.6 554.6,140.2 555.1,141.8 555.7,143.4 556.6,145 557.7,146.4 558.9,147.6 560.2,148.5 561.5,149.1 562.7,149.3 563.8,149.1 564.7,148.6 565.3,147.7 565.8,146.6" fill="#595e9f" stroke="#2a2a31" stroke-width="1.8" stroke-linejoin="round" />
<polygon points="571.5,200.1 572.9,199 573.8,197.5 574.5,195.5 574.7,193.2 574.5,190.7 573.9,188.1 572.9,185.4 571.6,182.7 570,180.3 568.2,178.1 566.2,176.2 564.1,174.7 562,173.8 560,173.3 558.2,173.3 556.6,173.9 497.4,207.1 496,208.2 495,209.7 494.4,211.7 494.2,214 494.4,216.5 495,219.1 495.9,221.8 497.3,224.5 498.9,226.9 500.7,229.1 502.7,231 504.8,232.5 506.8,233.4 508.8,233.9 510.7,233.9 512.3,233.3" fill="#99a5d9" stroke="#2a2a31" stroke-width="2.3" stroke-linejoin="round" />
<polygon points="511.7,229.9 511.4,226.7 510.5,223.3 509.1,219.9 507.2,216.7 505,213.7 502.5,211.3 499.9,209.5 497.3,208.3 494.8,207.8 492.6,208.2 490.7,209.3 489.3,211 488.4,213.4 488.1,216.2 488.4,219.4 489.3,222.8 490.7,226.2 492.6,229.4 494.8,232.4 497.3,234.8 499.9,236.7 502.5,237.8 505,238.3 507.2,237.9 509.1,236.8 510.5,235.1 511.4,232.7" fill="#45466d" stroke="#2a2a31" stroke-width="2.3" stroke-linejoin="round" />
<polygon points="567.9,202.2 569.2,201.1 570.2,199.6 570.8,197.6 571.1,195.3 570.9,192.8 570.3,190.2 569.3,187.5 568,184.8 566.4,182.4 564.5,180.2 562.6,178.3 560.5,176.8 558.4,175.9 556.4,175.4 554.5,175.4 552.9,176 493.7,209.2 492.4,210.3 491.4,211.8 490.8,213.8 490.5,216.1 490.7,218.6 491.3,221.2 492.3,223.9 493.6,226.6 495.2,229 497.1,231.2 499,233.1 501.1,234.6 503.2,235.5 505.2,236 507.1,236 508.7,235.4" fill="#45466d" stroke="#2a2a31" stroke-width="2.3" stroke-linejoin="round" />
<polygon points="566.1,192.4 566,190.8 565.5,189.2 564.9,187.6 564,186 562.9,184.6 561.7,183.4 560.4,182.5 559.1,181.9 557.9,181.7 556.8,181.9 555.9,182.4 555.3,183.3 554.8,184.4 554.7,185.8 554.8,187.4 555.3,189 555.9,190.6 556.8,192.2 557.9,193.6 559.1,194.8 560.4,195.7 561.7,196.3 562.9,196.5 564,196.3 564.9,195.8 565.5,194.9 566,193.8" fill="#595e9f" stroke="#2a2a31" stroke-width="1.8" stroke-linejoin="round" />
<polygon points="509.5,227.1 509.3,224.8 508.7,222.5 507.7,220.1 506.4,217.8 504.8,215.7 503.1,214 501.2,212.7 499.3,211.9 497.6,211.6 496,211.8 494.7,212.6 493.7,213.8 493.1,215.5 492.9,217.5 493.1,219.8 493.7,222.1 494.7,224.5 496,226.8 497.6,228.9 499.3,230.6 501.2,231.9 503.1,232.7 504.8,233 506.4,232.8 507.7,232 508.7,230.8 509.3,229.1" fill="#45466d" stroke="#2a2a31" stroke-width="1.6" stroke-linejoin="round" />
<polygon points="505.7,224.9 505.6,223.7 505.3,222.4 504.7,221.1 504,219.9 503.2,218.7 502.2,217.8 501.2,217.1 500.2,216.7 499.2,216.5 498.4,216.6 497.7,217 497.1,217.7 496.8,218.6 496.7,219.7 496.8,220.9 497.1,222.2 497.7,223.5 498.4,224.7 499.2,225.9 500.2,226.8 501.2,227.5 502.2,227.9 503.2,228.1 504,228 504.7,227.6 505.3,226.9 505.6,226" fill="#595e9f" stroke="#2a2a31" stroke-width="1.8" stroke-linejoin="round" />
<polygon points="595.2,327.1 601.1,330.5 601.1,358.5 595.2,355.1" fill="#45466d" stroke="#2a2a31" stroke-width="1.4" stroke-linejoin="round" />
<polygon points="601.1,330.5 606.9,327.1 606.9,355.1 601.1,358.5" fill="#595e9f" stroke="#2a2a31" stroke-width="1.4" stroke-linejoin="round" />
<polygon points="586.7,334.3 662,290.8 662,295.3 586.7,338.8" fill="#45466d" stroke="#2a2a31" stroke-width="2.3" stroke-linejoin="round" />
<polygon points="550.6,313.5 586.7,334.3 586.7,338.8 550.6,318" fill="#45466d" stroke="#2a2a31" stroke-width="2.3" stroke-linejoin="round" />
<polygon points="550.6,313.5 626,270 662,290.8 586.7,334.3" fill="#595e9f" stroke="#2a2a31" stroke-width="2.3" stroke-linejoin="round" />
<polygon points="551.3,313.1 559.5,308.4 595.5,329.2 587.3,333.9" fill="#99a5d9" stroke="#2a2a31" stroke-width="1.4" stroke-linejoin="round" />
<polygon points="560.7,307.7 568.9,303 604.9,323.8 596.7,328.5" fill="#99a5d9" stroke="#2a2a31" stroke-width="1.4" stroke-linejoin="round" />
<polygon points="570.1,302.3 578.3,297.5 614.3,318.3 606.1,323.1" fill="#99a5d9" stroke="#2a2a31" stroke-width="1.4" stroke-linejoin="round" />
<polygon points="579.5,296.8 587.7,292.1 623.7,312.9 615.5,317.6" fill="#99a5d9" stroke="#2a2a31" stroke-width="1.4" stroke-linejoin="round" />
<polygon points="588.9,291.4 597.1,286.7 633.2,307.5 625,312.2" fill="#99a5d9" stroke="#2a2a31" stroke-width="1.4" stroke-linejoin="round" />
<polygon points="598.3,286 606.6,281.2 642.6,302 634.4,306.8" fill="#99a5d9" stroke="#2a2a31" stroke-width="1.4" stroke-linejoin="round" />
<polygon points="607.8,280.5 616,275.8 652,296.6 643.8,301.3" fill="#99a5d9" stroke="#2a2a31" stroke-width="1.4" stroke-linejoin="round" />
<polygon points="617.2,275.1 625.4,270.4 661.4,291.2 653.2,295.9" fill="#99a5d9" stroke="#2a2a31" stroke-width="1.4" stroke-linejoin="round" />
<polygon points="550.6,313.5 626,270 662,290.8 586.7,334.3" fill="none" stroke="#2a2a31" stroke-width="2.3" stroke-linejoin="round" />
<polygon points="708.9,261 714.8,264.4 714.8,291.4 708.9,288" fill="#45466d" stroke="#2a2a31" stroke-width="1.4" stroke-linejoin="round" />
<polygon points="714.8,264.4 720.7,261 720.7,288 714.8,291.4" fill="#595e9f" stroke="#2a2a31" stroke-width="1.4" stroke-linejoin="round" />
<polygon points="669.4,286.1 780,222.3 780,226.8 669.4,290.6" fill="#45466d" stroke="#2a2a31" stroke-width="2.3" stroke-linejoin="round" />
<polygon points="633.4,265.3 669.4,286.1 669.4,290.6 633.4,269.8" fill="#45466d" stroke="#2a2a31" stroke-width="2.3" stroke-linejoin="round" />
<polygon points="633.4,265.3 744,201.5 780,222.3 669.4,286.1" fill="#595e9f" stroke="#2a2a31" stroke-width="2.3" stroke-linejoin="round" />
<polygon points="634,264.9 642,260.3 678,281.1 670,285.8" fill="#99a5d9" stroke="#2a2a31" stroke-width="1.4" stroke-linejoin="round" />
<polygon points="643.2,259.6 651.2,255 687.3,275.8 679.2,280.4" fill="#99a5d9" stroke="#2a2a31" stroke-width="1.4" stroke-linejoin="round" />
<polygon points="652.4,254.3 660.4,249.7 696.5,270.5 688.5,275.1" fill="#99a5d9" stroke="#2a2a31" stroke-width="1.4" stroke-linejoin="round" />
<polygon points="661.7,249 669.7,244.4 705.7,265.2 697.7,269.8" fill="#99a5d9" stroke="#2a2a31" stroke-width="1.4" stroke-linejoin="round" />
<polygon points="670.9,243.7 678.9,239 714.9,259.8 706.9,264.5" fill="#99a5d9" stroke="#2a2a31" stroke-width="1.4" stroke-linejoin="round" />
<polygon points="680.1,238.3 688.1,233.7 724.1,254.5 716.1,259.1" fill="#99a5d9" stroke="#2a2a31" stroke-width="1.4" stroke-linejoin="round" />
<polygon points="689.3,233 697.3,228.4 733.3,249.2 725.3,253.8" fill="#99a5d9" stroke="#2a2a31" stroke-width="1.4" stroke-linejoin="round" />
<polygon points="698.5,227.7 706.5,223.1 742.5,243.9 734.5,248.5" fill="#99a5d9" stroke="#2a2a31" stroke-width="1.4" stroke-linejoin="round" />
<polygon points="707.7,222.4 715.7,217.8 751.8,238.6 743.8,243.2" fill="#99a5d9" stroke="#2a2a31" stroke-width="1.4" stroke-linejoin="round" />
<polygon points="716.9,217.1 725,212.4 761,233.2 753,237.9" fill="#99a5d9" stroke="#2a2a31" stroke-width="1.4" stroke-linejoin="round" />
<polygon points="726.2,211.7 734.2,207.1 770.2,227.9 762.2,232.5" fill="#99a5d9" stroke="#2a2a31" stroke-width="1.4" stroke-linejoin="round" />
<polygon points="735.4,206.4 743.4,201.8 779.4,222.6 771.4,227.2" fill="#99a5d9" stroke="#2a2a31" stroke-width="1.4" stroke-linejoin="round" />
<polygon points="633.4,265.3 744,201.5 780,222.3 669.4,286.1" fill="none" stroke="#2a2a31" stroke-width="2.3" stroke-linejoin="round" />
<polygon points="462.7,474.6 391.9,433.7 391.9,393.9 462.7,434.8" fill="#45466d" stroke="#2a2a31" stroke-width="2.3" stroke-linejoin="round" />
<polygon points="462.7,434.8 391.9,393.9 430.5,371.6 501.3,412.5" fill="#99a5d9" stroke="#2a2a31" stroke-width="2.3" stroke-linejoin="round" />
<polygon points="501.3,412.5 430.5,371.6 430.5,290.4 501.3,331.3" fill="#45466d" stroke="#2a2a31" stroke-width="2.3" stroke-linejoin="round" />
<polygon points="462.7,474.6 581.5,406 581.5,285 501.3,331.3 501.3,412.5 462.7,434.8" fill="#595e9f" stroke="#2a2a31" stroke-width="2.3" stroke-linejoin="round" />
<line x1="501.3" y1="412.5" x2="501.3" y2="331.3" stroke="#2a2a31" stroke-width="2.3" stroke-linecap="round" />
<polygon points="501.3,331.3 430.5,290.4 510.7,244.1 581.5,285" fill="#99a5d9" stroke="#2a2a31" stroke-width="2.3" stroke-linejoin="round" />
<polygon points="518.6,341.2 560.8,317 567.6,321 527,345.6" fill="#99a5d9" stroke="#2a2a31" stroke-width="2.3" stroke-linejoin="round" />
<polygon points="518.6,341.2 527,345.6 527,393.6 518.6,389" fill="#45466d" stroke="#2a2a31" stroke-width="2.3" stroke-linejoin="round" />
<polygon points="527,345.6 567.6,321 567.6,369.5 527,393.6" fill="#595e9f" stroke="#2a2a31" stroke-width="2.3" stroke-linejoin="round" />
<polygon points="533.8,349.9 562.5,333 562.5,366.5 533.8,383.4" fill="#2d2d33" stroke="#2a2a31" stroke-width="1.2" stroke-linejoin="round" />
<polygon points="537.8,351.4 554.4,341.4 554.4,363.2 537.8,372.6" fill="#fcc55d" stroke="#2a2a31" stroke-width="1.2" stroke-linejoin="round" />
<path d="M531.3 284.2 Q543.8 263.3 562.4 266.6 L559.5 272.3 Q546.5 268.3 534.1 287 Z M538.1 289.5 Q545.6 276.8 555.1 279.4 L552.8 284.9 Q546.9 282.9 540.7 292 Z" fill="#fc5e27"/>
<ellipse cx="546.6" cy="294.6" rx="1.8" ry="3.2" fill="#fc5e27" transform="rotate(25 546.6 294.6)"/>
<polygon points="561.3,391.3 572.8,392.3 571.8,412.3 568.8,435.3 563.3,434.3 562.8,412.3" fill="#2b2b2e"/>
<polygon points="571.3,392.3 582.3,390.3 581.3,412.3 579.8,432.3 574.3,432.8 573.8,412.3" fill="#2b2b2e"/>
<polygon points="559.3,435.3 563.3,432.8 568.8,434.3 568.8,436.8 564.3,439.1 559.3,437.3" fill="#2d2c33"/>
<polygon points="571.8,432.8 574.3,430.8 579.8,431.3 580.3,433.8 576.3,435.8 571.8,434.8" fill="#2d2c33"/>
<ellipse cx="567.1" cy="350.1" rx="4" ry="5.2" fill="#fbc8a7"/>
<polygon points="565.3,352.3 570.3,352.3 571.3,358.8 565.8,358.8" fill="#fbc8a7"/>
<path d="M563.5 345.5 a6.2 6 0 0 1 12 -0.6 q0.6 4.8 -2.6 7.6 q-3 1.2 -4.6 -0.6 q-0.2 -3.2 -1.4 -5.4 q-1.8 -0.2 -3.4 -1z" fill="#232326"/>
<polygon points="562.8,359.8 565.8,366.3 556.8,376.8 553.8,376.8 548.3,366.8 550.5,365.3 555.3,371.3 560.3,362.8" fill="#6d3008"/>
<polygon points="546.7,360.5 548.7,360.3 550.5,365.3 548.3,366.8 546.3,363.8" fill="#fbc8a7"/>
<polygon points="560.8,361.1 566.3,357.5 573.3,356.5 579.8,357.3 583.9,360.3 585.3,377.3 582.9,391.1 572.3,393.6 561.1,392.9 560.3,376.3" fill="#fc5e27"/>
<polygon points="560.3,390.3 572.3,393.6 582.9,391.1 583.1,388.9 572.3,391.3 560.3,388.1" fill="#6d3008"/>
<polygon points="579.8,357.3 584.1,359.9 587.9,374.3 585.5,383.3 582.7,382.3 583.7,374.3 581.3,365.3" fill="#6d3008"/>
<polygon points="248.9,405.9 247.3,407.1 246,408.4 245.2,409.9 245,411.4 245.2,412.9 246,414.4 247.3,415.7 248.9,416.9 339.9,469.4 341.9,470.4 344.2,471.1 346.8,471.5 349.4,471.7 352,471.5 354.5,471.1 356.9,470.4 358.9,469.4 381,456.6 382.7,455.5 383.9,454.1 384.7,452.7 384.9,451.1 384.7,449.6 383.9,448.2 382.7,446.8 381,445.6 290.1,393.1 288,392.2 285.7,391.5 283.2,391 280.5,390.9 277.9,391 275.4,391.5 273.1,392.2 271,393.1" fill="#45466d" stroke="#2a2a31" stroke-width="2.3" stroke-linejoin="round" />
<polygon points="248.9,401.9 247.3,403.1 246,404.4 245.2,405.9 245,407.4 245.2,408.9 246,410.4 247.3,411.7 248.9,412.9 339.9,465.4 341.9,466.4 344.2,467.1 346.8,467.5 349.4,467.7 352,467.5 354.5,467.1 356.9,466.4 358.9,465.4 381,452.6 382.7,451.5 383.9,450.1 384.7,448.7 384.9,447.1 384.7,445.6 383.9,444.2 382.7,442.8 381,441.6 381,445.6 382.7,446.8 383.9,448.2 384.7,449.6 384.9,451.1 384.7,452.7 383.9,454.1 382.7,455.5 381,456.6 358.9,469.4 356.9,470.4 354.5,471.1 352,471.5 349.4,471.7 346.8,471.5 344.2,471.1 341.9,470.4 339.9,469.4 248.9,416.9 247.3,415.7 246,414.4 245.2,412.9 245,411.4 245.2,409.9 246,408.4 247.3,407.1 248.9,405.9" fill="#45466d" stroke="#2a2a31" stroke-width="2.3" stroke-linejoin="round" />
<polygon points="248.9,401.9 247.3,403.1 246,404.4 245.2,405.9 245,407.4 245.2,408.9 246,410.4 247.3,411.7 248.9,412.9 339.9,465.4 341.9,466.4 344.2,467.1 346.8,467.5 349.4,467.7 352,467.5 354.5,467.1 356.9,466.4 358.9,465.4 381,452.6 382.7,451.5 383.9,450.1 384.7,448.7 384.9,447.1 384.7,445.6 383.9,444.2 382.7,442.8 381,441.6 290.1,389.1 288,388.2 285.7,387.5 283.2,387 280.5,386.9 277.9,387 275.4,387.5 273.1,388.2 271,389.1" fill="#99a5d9" stroke="#2a2a31" stroke-width="2.3" stroke-linejoin="round" />
<path d="M266.6 360.2 C266.6 351.5 269.5 348.6 272.4 346.7 L302.3 329.7 C307.1 327.2 312.9 329.8 316.7 334.1 L336 366 L357.1 433.7 L327.9 450.6 L306.1 380.4 Z" fill="#595e9f" stroke="#2a2a31" stroke-width="2.3" stroke-linejoin="round" stroke-linecap="round" />
<path d="M266.6 415.2 L266.6 356.3 C267 348.6 272.4 344.7 277.2 344.7 C285.9 345.7 299.4 364 306.1 380.4 L327.9 450.6 Z" fill="#45466d" stroke="#2a2a31" stroke-width="2.3" stroke-linejoin="round" stroke-linecap="round" />
<polygon points="348.3,294.9 373.5,309.5 364,323.7 340.7,310.3" fill="#595e9f" stroke="#2a2a31" stroke-width="2.3" stroke-linejoin="round" />
<polygon points="376.6,310.7 376.3,308.5 375.7,306.7 374.6,305.4 373.2,304.5 371.5,304.3 369.6,304.6 367.6,305.5 365.6,306.9 363.7,308.8 361.9,311 360.5,313.5 359.4,316.1 358.8,318.7 358.6,321.1 358.8,323.3 359.4,325.1 360.5,326.4 361.9,327.3 363.7,327.5 365.6,327.2 367.6,326.3 369.6,324.9 371.5,323 373.2,320.8 374.6,318.3 375.7,315.7 376.3,313.1" fill="#45466d" stroke="#2a2a31" stroke-width="2.3" stroke-linejoin="round" />
<polygon points="378.6,311.9 378.4,309.7 377.8,307.9 376.7,306.6 375.3,305.7 373.6,305.5 371.6,305.8 369.6,306.7 367.6,308.1 365.7,310 364,312.2 362.6,314.7 361.5,317.3 360.9,319.9 360.6,322.3 360.9,324.5 361.5,326.3 362.6,327.6 364,328.5 365.7,328.7 367.6,328.4 369.6,327.5 371.6,326.1 373.6,324.2 375.3,322 376.7,319.5 377.8,316.9 378.4,314.3" fill="#99a5d9" stroke="#2a2a31" stroke-width="2.3" stroke-linejoin="round" />
<polygon points="375.9,313.5 375.7,312 375.3,310.7 374.5,309.8 373.5,309.2 372.3,309.1 371,309.3 369.6,309.9 368.3,310.9 366.9,312.2 365.8,313.7 364.8,315.4 364,317.2 363.6,319 363.4,320.7 363.6,322.2 364,323.5 364.8,324.4 365.8,325 366.9,325.1 368.3,324.9 369.6,324.3 371,323.3 372.3,322 373.5,320.5 374.5,318.8 375.3,317 375.7,315.2" fill="#99a5d9" stroke="#2a2a31" stroke-width="0.9" stroke-linejoin="round" />
<line x1="371.9" y1="312.8" x2="380.6" y2="317.8" stroke="#2a2a31" stroke-width="5" stroke-linecap="round" />
<line x1="372.2" y1="312.9" x2="379" y2="316.9" stroke="#595e9f" stroke-width="2.2" stroke-linecap="round" />
<line x1="368.3" y1="321.3" x2="376.9" y2="326.3" stroke="#2a2a31" stroke-width="5" stroke-linecap="round" />
<line x1="368.5" y1="321.4" x2="375.4" y2="325.4" stroke="#595e9f" stroke-width="2.2" stroke-linecap="round" />
<polygon points="352.1,302.7 351.9,300.2 351.3,297.4 350.3,294.7 348.9,292 347.3,289.5 345.4,287.2 343.3,285.3 341.2,283.9 339.1,282.9 337,282.4 335.1,282.5 333.5,283.2 332.1,284.3 331.1,285.9 330.5,287.9 330.3,290.3 330.5,337.5 330.7,340 331.4,342.8 332.4,345.5 333.8,348.2 335.4,350.7 337.3,353 339.4,354.9 341.5,356.3 343.6,357.3 345.7,357.8 347.5,357.7 349.2,357 350.5,355.9 351.5,354.3 352.1,352.3 352.3,349.9" fill="#99a5d9" stroke="#2a2a31" stroke-width="2.3" stroke-linejoin="round" />
<polygon points="348.5,304.8 348.3,302.3 347.7,299.5 346.6,296.8 345.3,294.1 343.6,291.6 341.7,289.3 339.7,287.4 337.5,286 335.4,285 333.4,284.5 331.5,284.6 329.8,285.3 328.5,286.4 327.5,288 326.9,290 326.7,292.4 326.9,339.6 327.1,342.1 327.7,344.9 328.8,347.6 330.1,350.3 331.8,352.8 333.7,355.1 335.7,357 337.9,358.4 340,359.4 342,359.9 343.9,359.8 345.6,359.1 346.9,358 347.9,356.4 348.5,354.4 348.7,352" fill="#45466d" stroke="#2a2a31" stroke-width="2.3" stroke-linejoin="round" />
<polygon points="343.3,301.9 343.2,300.3 342.7,298.7 342.1,297.1 341.2,295.5 340.1,294.1 338.9,292.9 337.6,292 336.3,291.4 335.1,291.2 334,291.4 333.1,291.9 332.5,292.8 332,293.9 331.9,295.3 332,296.9 332.5,298.5 333.1,300.1 334,301.7 335.1,303.1 336.3,304.3 337.6,305.2 338.9,305.8 340.1,306 341.2,305.8 342.1,305.3 342.7,304.4 343.2,303.3" fill="#595e9f" stroke="#2a2a31" stroke-width="1.8" stroke-linejoin="round" />
<polygon points="348.9,356.8 350.3,355.7 351.2,354.2 351.9,352.2 352.1,349.9 351.9,347.4 351.3,344.8 350.3,342.1 349,339.4 347.4,337 345.6,334.8 343.6,332.9 341.5,331.4 339.4,330.5 337.4,330 335.6,330 334,330.6 274.8,363.8 273.4,364.9 272.4,366.4 271.8,368.4 271.6,370.7 271.8,373.2 272.4,375.8 273.3,378.5 274.7,381.2 276.3,383.6 278.1,385.8 280.1,387.7 282.2,389.2 284.2,390.1 286.2,390.6 288.1,390.6 289.7,390" fill="#99a5d9" stroke="#2a2a31" stroke-width="2.3" stroke-linejoin="round" />
<polygon points="289.1,386.6 288.8,383.4 287.9,380 286.5,376.6 284.6,373.4 282.4,370.4 279.9,368 277.3,366.1 274.7,365 272.2,364.5 270,364.9 268.1,366 266.7,367.7 265.8,370.1 265.5,372.9 265.8,376.1 266.7,379.5 268.1,382.9 270,386.1 272.2,389.1 274.7,391.5 277.3,393.4 279.9,394.5 282.4,395 284.6,394.6 286.5,393.5 287.9,391.8 288.8,389.4" fill="#45466d" stroke="#2a2a31" stroke-width="2.3" stroke-linejoin="round" />
<polygon points="345.3,358.9 346.6,357.8 347.6,356.3 348.2,354.3 348.5,352 348.3,349.5 347.7,346.9 346.7,344.2 345.4,341.5 343.8,339.1 341.9,336.9 340,335 337.9,333.5 335.8,332.6 333.8,332.1 331.9,332.1 330.3,332.7 271.1,365.9 269.8,367 268.8,368.5 268.2,370.5 267.9,372.8 268.1,375.3 268.7,377.9 269.7,380.6 271,383.3 272.6,385.7 274.5,387.9 276.4,389.8 278.5,391.3 280.6,392.2 282.6,392.7 284.5,392.7 286.1,392.1" fill="#45466d" stroke="#2a2a31" stroke-width="2.3" stroke-linejoin="round" />
<polygon points="343.5,349.1 343.4,347.5 342.9,345.9 342.3,344.3 341.4,342.7 340.3,341.3 339.1,340.1 337.8,339.2 336.5,338.6 335.3,338.4 334.2,338.6 333.3,339.1 332.7,340 332.2,341.1 332.1,342.5 332.2,344.1 332.7,345.7 333.3,347.3 334.2,348.9 335.3,350.3 336.5,351.5 337.8,352.4 339.1,353 340.3,353.2 341.4,353 342.3,352.5 342.9,351.6 343.4,350.5" fill="#595e9f" stroke="#2a2a31" stroke-width="1.8" stroke-linejoin="round" />
<polygon points="286.9,383.8 286.7,381.5 286.1,379.2 285.1,376.8 283.8,374.5 282.2,372.4 280.5,370.7 278.6,369.4 276.7,368.6 275,368.3 273.4,368.5 272.1,369.3 271.1,370.5 270.5,372.2 270.3,374.2 270.5,376.5 271.1,378.8 272.1,381.2 273.4,383.5 275,385.6 276.7,387.3 278.6,388.6 280.5,389.4 282.2,389.7 283.8,389.5 285.1,388.7 286.1,387.5 286.7,385.8" fill="#45466d" stroke="#2a2a31" stroke-width="1.6" stroke-linejoin="round" />
<polygon points="283.1,381.6 283,380.4 282.7,379.1 282.1,377.8 281.4,376.6 280.6,375.4 279.6,374.5 278.6,373.8 277.6,373.4 276.6,373.2 275.8,373.3 275.1,373.7 274.5,374.4 274.2,375.3 274.1,376.4 274.2,377.6 274.5,378.9 275.1,380.2 275.8,381.4 276.6,382.6 277.6,383.5 278.6,384.2 279.6,384.6 280.6,384.8 281.4,384.7 282.1,384.3 282.7,383.6 283,382.7" fill="#595e9f" stroke="#2a2a31" stroke-width="1.8" stroke-linejoin="round" />
<polygon points="464.7,421.8 417.1,394.3 417.1,341.7 464.7,369.2" fill="#45466d" stroke="#2a2a31" stroke-width="2.3" stroke-linejoin="round" />
<polygon points="464.7,421.8 493.1,405.4 493.1,352.8 464.7,369.2" fill="#595e9f" stroke="#2a2a31" stroke-width="2.3" stroke-linejoin="round" />
<polygon points="464.7,369.2 417.1,341.7 445.5,325.3 493.1,352.8" fill="#99a5d9" stroke="#2a2a31" stroke-width="2.3" stroke-linejoin="round" />
<polygon points="422.6,353.2 458.9,374.1 458.9,418.4 422.6,397.5" fill="#2d2d33" stroke="#2a2a31" stroke-width="1.4" stroke-linejoin="round" />
<polygon points="422.6,353.2 435.6,360.7 435.6,405 422.6,397.5" fill="#595e9f" stroke="#2a2a31" stroke-width="1.2" stroke-linejoin="round" />
<clipPath id="tun"><polygon points="422.6,353.2 458.9,374.1 458.9,420.4 422.6,399.5"/></clipPath>
<polygon points="393.1,406.6 388.3,403.8 388.3,396.8 393.1,399.6" fill="#45466d" stroke="#2a2a31" stroke-width="1.3" stroke-linejoin="round" />
<polygon points="393.1,406.6 422.5,389.6 422.5,382.6 393.1,399.6" fill="#45466d" stroke="#2a2a31" stroke-width="1.3" stroke-linejoin="round" />
<polygon points="393.1,399.6 388.3,396.8 417.7,379.8 422.5,382.6" fill="#99a5d9" stroke="#2a2a31" stroke-width="1.3" stroke-linejoin="round" />
<g clip-path="url(#tun)">
<polygon points="458.7,410.4 470.6,403.5 470.6,408 458.7,414.9" fill="#45466d" stroke="#2a2a31" stroke-width="2.3" stroke-linejoin="round" />
<polygon points="422.5,389.5 434.4,382.6 470.6,403.5 458.7,410.4" fill="#595e9f" stroke="#2a2a31" stroke-width="2.3" stroke-linejoin="round" />
<polygon points="423.1,389.1 433.8,383 470,403.9 459.3,410" fill="#99a5d9" stroke="#2a2a31" stroke-width="1.4" stroke-linejoin="round" />
<polygon points="422.5,389.5 434.4,382.6 470.6,403.5 458.7,410.4" fill="none" stroke="#2a2a31" stroke-width="2.3" stroke-linejoin="round" />
</g>
<polygon points="364.1,462.7 370,466.1 370,491.1 364.1,487.7" fill="#45466d" stroke="#2a2a31" stroke-width="1.4" stroke-linejoin="round" />
<polygon points="370,466.1 375.9,462.7 375.9,487.7 370,491.1" fill="#595e9f" stroke="#2a2a31" stroke-width="1.4" stroke-linejoin="round" />
<polygon points="363.4,465.4 458.7,410.4 458.7,414.9 363.4,469.9" fill="#45466d" stroke="#2a2a31" stroke-width="2.3" stroke-linejoin="round" />
<polygon points="327.2,444.5 363.4,465.4 363.4,469.9 327.2,449" fill="#45466d" stroke="#2a2a31" stroke-width="2.3" stroke-linejoin="round" />
<polygon points="327.2,444.5 422.5,389.5 458.7,410.4 363.4,465.4" fill="#595e9f" stroke="#2a2a31" stroke-width="2.3" stroke-linejoin="round" />
<polygon points="327.8,444.1 338.5,438 374.7,458.9 364,465" fill="#99a5d9" stroke="#2a2a31" stroke-width="1.4" stroke-linejoin="round" />
<polygon points="339.7,437.3 350.4,431.1 386.6,452 375.9,458.2" fill="#99a5d9" stroke="#2a2a31" stroke-width="1.4" stroke-linejoin="round" />
<polygon points="351.6,430.4 362.3,424.2 398.5,445.1 387.8,451.3" fill="#99a5d9" stroke="#2a2a31" stroke-width="1.4" stroke-linejoin="round" />
<polygon points="363.5,423.5 374.2,417.4 410.4,438.2 399.7,444.4" fill="#99a5d9" stroke="#2a2a31" stroke-width="1.4" stroke-linejoin="round" />
<polygon points="375.4,416.6 386.1,410.5 422.3,431.4 411.6,437.5" fill="#99a5d9" stroke="#2a2a31" stroke-width="1.4" stroke-linejoin="round" />
<polygon points="387.3,409.8 398,403.6 434.2,424.5 423.5,430.7" fill="#99a5d9" stroke="#2a2a31" stroke-width="1.4" stroke-linejoin="round" />
<polygon points="399.3,402.9 409.9,396.7 446.1,417.6 435.5,423.8" fill="#99a5d9" stroke="#2a2a31" stroke-width="1.4" stroke-linejoin="round" />
<polygon points="411.2,396 421.9,389.9 458.1,410.8 447.4,416.9" fill="#99a5d9" stroke="#2a2a31" stroke-width="1.4" stroke-linejoin="round" />
<polygon points="327.2,444.5 422.5,389.5 458.7,410.4 363.4,465.4" fill="none" stroke="#2a2a31" stroke-width="2.3" stroke-linejoin="round" />
<polygon points="373.2,445.2 374.9,444 376,442.6 376.6,441.2 376.6,439.6 376,438.2 374.9,436.8 373.2,435.6 371.2,434.7 368.8,434 366.2,433.7 363.6,433.7 361,434 358.6,434.7 356.6,435.6 354.9,436.8 353.8,438.2 353.2,439.6 353.2,441.2 353.8,442.6 354.9,444 356.6,445.2 358.6,446.1 361,446.8 363.6,447.1 366.2,447.1 368.8,446.8 371.2,446.1" fill="#2a2a31" stroke="#2a2a31" stroke-width="1.2" stroke-linejoin="round" />
<polygon points="373.2,442.2 374.9,441 376,439.6 376.6,438.2 376.6,436.6 376,435.2 374.9,433.8 373.2,432.6 371.2,431.7 368.8,431 366.2,430.7 363.6,430.7 361,431 358.6,431.7 356.6,432.6 354.9,433.8 353.8,435.2 353.2,436.6 353.2,438.2 353.8,439.6 354.9,441 356.6,442.2 358.6,443.1 361,443.8 363.6,444.1 366.2,444.1 368.8,443.8 371.2,443.1" fill="#fc5e27" stroke="#2a2a31" stroke-width="1.2" stroke-linejoin="round" />
<polygon points="405,426 406.7,424.8 407.8,423.4 408.4,422 408.4,420.4 407.8,419 406.7,417.6 405,416.4 403,415.5 400.6,414.8 398,414.5 395.4,414.5 392.8,414.8 390.4,415.5 388.4,416.4 386.7,417.6 385.6,419 385,420.4 385,422 385.6,423.4 386.7,424.8 388.4,426 390.4,426.9 392.8,427.6 395.4,427.9 398,427.9 400.6,427.6 403,426.9" fill="#2a2a31" stroke="#2a2a31" stroke-width="1.2" stroke-linejoin="round" />
<polygon points="405,423 406.7,421.8 407.8,420.4 408.4,419 408.4,417.4 407.8,416 406.7,414.6 405,413.4 403,412.5 400.6,411.8 398,411.5 395.4,411.5 392.8,411.8 390.4,412.5 388.4,413.4 386.7,414.6 385.6,416 385,417.4 385,419 385.6,420.4 386.7,421.8 388.4,423 390.4,423.9 392.8,424.6 395.4,424.9 398,424.9 400.6,424.6 403,423.9" fill="#fc5e27" stroke="#2a2a31" stroke-width="1.2" stroke-linejoin="round" />
<polygon points="436.8,407 438.5,405.8 439.6,404.4 440.2,403 440.2,401.4 439.6,400 438.5,398.6 436.8,397.4 434.8,396.5 432.4,395.8 429.8,395.5 427.2,395.5 424.6,395.8 422.2,396.5 420.2,397.4 418.5,398.6 417.4,400 416.8,401.4 416.8,403 417.4,404.4 418.5,405.8 420.2,407 422.2,407.9 424.6,408.6 427.2,408.9 429.8,408.9 432.4,408.6 434.8,407.9" fill="#2a2a31" stroke="#2a2a31" stroke-width="1.2" stroke-linejoin="round" />
<polygon points="436.8,404 438.5,402.8 439.6,401.4 440.2,400 440.2,398.4 439.6,397 438.5,395.6 436.8,394.4 434.8,393.5 432.4,392.8 429.8,392.5 427.2,392.5 424.6,392.8 422.2,393.5 420.2,394.4 418.5,395.6 417.4,397 416.8,398.4 416.8,400 417.4,401.4 418.5,402.8 420.2,404 422.2,404.9 424.6,405.6 427.2,405.9 429.8,405.9 432.4,405.6 434.8,404.9" fill="#fc5e27" stroke="#2a2a31" stroke-width="1.2" stroke-linejoin="round" />
<polygon points="825.1,185.9 864.6,208 871,260 845,262 836,236" fill="#bccdee" opacity="0.8"/>
<polygon points="780.9,211.2 825.1,185.9 836,236 800,262 770.4,267" fill="#e2e8f7" opacity="0.8"/>
<line x1="825.1" y1="185.9" x2="833" y2="226" stroke="#9aa0bb" stroke-width="2.2" stroke-linecap="round" />
<polygon points="854,247 866,252 866,263 857,268" fill="#b4b7c9" stroke="#9a9db3" stroke-width="1" stroke-linejoin="round" />
<polygon points="812.6,293.5 824,280 853,268 858,272 858,303 841,313 836,305 823,306 817,318 809.7,315.7" fill="#595e9f" stroke="#2a2a31" stroke-width="1.6" stroke-linejoin="round" />
<polygon points="821.3,250.5 838.7,241.4 852.2,281 832.9,289.5 818,293 814.5,292" fill="#595e9f" stroke="#2a2a31" stroke-width="1.2" stroke-linejoin="round" />
<polygon points="838.7,246.2 846.4,243.8 850.3,274.2 842.6,270.4" fill="#45466d" stroke="#2a2a31" stroke-width="1.5" stroke-linejoin="round" />
<polygon points="823.6,274.3 838.7,267.9 848.4,279.5 833.3,286.8" fill="#6a6ea9" stroke="#2a2a31" stroke-width="1.5" stroke-linejoin="round" />
<polygon points="823.6,274.3 833.3,286.8 833.3,291 823.6,279" fill="#45466d" stroke="#2a2a31" stroke-width="1.3" stroke-linejoin="round" />
<polygon points="833.3,286.8 848.4,279.5 848.4,283.6 833.3,291" fill="#45466d" stroke="#2a2a31" stroke-width="1.3" stroke-linejoin="round" />
<polygon points="836.8,293 844.6,289 844.6,304 836.8,308" fill="#34355a"/>
<line x1="816" y1="290" x2="822" y2="275" stroke="#2a2a31" stroke-width="2.4" stroke-linecap="round" />
<polygon points="790.4,282.9 812.6,293.5 809.7,315.7 789.5,306" fill="#45466d" stroke="#2a2a31" stroke-width="1.6" stroke-linejoin="round" />
<polygon points="780.9,211.2 825.1,185.9 864.6,208 819.5,232.9" fill="#bccdee" stroke="#2a2a31" stroke-width="2.4" stroke-linejoin="round" />
<polygon points="783.5,209.7 798.2,201.2 835.1,221.9 820.4,230.4" fill="#e2e8f7" opacity="0.9"/>
<polygon points="780.9,211.2 819.5,232.9 812.6,293.2 790.4,282.9 770.4,267" fill="#e2e8f7" opacity="0.88"/>
<polygon points="822.5,236 837,227.5 838.6,240.5 823.3,248.2" fill="#bccdee" opacity="0.7"/>
<polygon points="841,221 864.6,208 871,260 853.2,282" fill="#bccdee" opacity="0.45"/>
<polygon points="780.9,211.2 825.1,185.9 864.6,208 819.5,232.9" fill="none" stroke="#2a2a31" stroke-width="2.6" stroke-linejoin="round" />
<line x1="780.9" y1="211.2" x2="770.4" y2="267" stroke="#2a2a31" stroke-width="3.8000000000000003" stroke-linecap="round" />
<line x1="780.9" y1="211.2" x2="770.4" y2="267" stroke="#3b3c66" stroke-width="1.2000000000000002" stroke-linecap="round" />
<line x1="819.5" y1="232.9" x2="812.6" y2="293.2" stroke="#2a2a31" stroke-width="4.199999999999999" stroke-linecap="round" />
<line x1="819.5" y1="232.9" x2="812.6" y2="293.2" stroke="#3b3c66" stroke-width="1.5999999999999996" stroke-linecap="round" />
<line x1="864.6" y1="208" x2="871" y2="260" stroke="#2a2a31" stroke-width="3.6" stroke-linecap="round" />
<line x1="864.6" y1="208" x2="871" y2="260" stroke="#3b3c66" stroke-width="1.0" stroke-linecap="round" />
<line x1="841" y1="221" x2="853.2" y2="282" stroke="#2a2a31" stroke-width="4.0" stroke-linecap="round" />
<line x1="841" y1="221" x2="853.2" y2="282" stroke="#3b3c66" stroke-width="1.4000000000000004" stroke-linecap="round" />
<line x1="791" y1="217.5" x2="783" y2="272" stroke="#2a2a31" stroke-width="3.2" stroke-linecap="round" />
<line x1="791" y1="217.5" x2="783" y2="272" stroke="#3b3c66" stroke-width="0.6000000000000001" stroke-linecap="round" />
<line x1="822.5" y1="236" x2="823.5" y2="262" stroke="#2a2a31" stroke-width="2.2" stroke-linecap="round" />
<line x1="823.3" y1="248.5" x2="838.6" y2="240.5" stroke="#2a2a31" stroke-width="2" stroke-linecap="round" />
<polygon points="781.6,262 789.6,266.4 789.6,338 781.6,333.6" fill="#45466d" stroke="#2a2a31" stroke-width="1.5" stroke-linejoin="round" />
<polygon points="793,284 799,287.2 799,333 793,329.8" fill="#45466d" stroke="#2a2a31" stroke-width="1.5" stroke-linejoin="round" />
<polygon points="813,329.2 813.2,326.7 813.9,324.1 815,321.4 816.4,318.9 818.1,316.6 820.1,314.8 822.1,313.3 824.2,312.4 826.1,312.1 827.9,312.3 835.4,316.6 836.5,318 837.1,319.9 837.4,322.1 837.1,324.6 836.5,327.2 835.4,329.9 833.9,332.4 832.2,334.6 830.2,336.6 828.2,338 826.2,338.9 824.2,339.2 822.5,339 821,338.1 816.4,335.5 815,334.6 813.9,333.3 813.2,331.4" fill="#26252f" stroke="#2a2a31" stroke-width="1.4" stroke-linejoin="round" />
<polygon points="837.4,322.1 837.1,319.9 836.5,318 835.4,316.6 833.9,315.8 832.2,315.6 830.2,315.9 828.2,316.8 826.2,318.2 824.2,320.1 822.5,322.4 821,324.9 819.9,327.6 819.3,330.2 819,332.7 819.3,334.9 819.9,336.8 821,338.2 822.5,339 824.2,339.2 826.2,338.9 828.2,338 830.2,336.6 832.2,334.7 833.9,332.4 835.4,329.9 836.5,327.2 837.1,324.6" fill="#26252f" stroke="#2a2a31" stroke-width="2.3" stroke-linejoin="round" />
<polygon points="834.8,323.6 834.6,322 834.1,320.7 833.3,319.7 832.3,319.1 831.1,318.9 829.7,319.1 828.2,319.8 826.7,320.8 825.3,322.2 824.1,323.8 823.1,325.6 822.3,327.5 821.8,329.4 821.6,331.2 821.8,332.8 822.3,334.1 823.1,335.1 824.1,335.7 825.3,335.9 826.7,335.7 828.2,335 829.7,334 831.1,332.6 832.3,331 833.3,329.2 834.1,327.3 834.6,325.4" fill="#99a5d9" stroke="#2a2a31" stroke-width="1.4" stroke-linejoin="round" />
<polygon points="831.3,325.6 831.2,324.8 831,324.2 830.6,323.7 830.1,323.5 829.6,323.4 828.9,323.5 828.2,323.8 827.5,324.3 826.8,324.9 826.3,325.7 825.8,326.6 825.4,327.5 825.2,328.4 825.1,329.2 825.2,330 825.4,330.6 825.8,331.1 826.3,331.3 826.8,331.4 827.5,331.3 828.2,331 828.9,330.5 829.6,329.9 830.1,329.1 830.6,328.2 831,327.3 831.2,326.4" fill="#33333f" stroke="#2a2a31" stroke-width="1.2" stroke-linejoin="round" />
<polygon points="812.6,312.8 827.1,305.1 832.9,308 818.4,316.7" fill="#595e9f" stroke="#2a2a31" stroke-width="1.5" stroke-linejoin="round" />
<polygon points="812.6,312.8 818.4,316.7 818.4,322.5 812.6,318.6" fill="#45466d" stroke="#2a2a31" stroke-width="1.5" stroke-linejoin="round" />
<polygon points="840.6,319.6 858,309.6 858,315.2 840.6,325.2" fill="#595e9f" stroke="#2a2a31" stroke-width="1.4" stroke-linejoin="round" />
<polygon points="724.5,336.6 733.5,331.4 789.6,338 762,353.6" fill="#45466d" stroke="#2a2a31" stroke-width="1.4" stroke-linejoin="round" />
<polygon points="762,353.6 799,332.4 799,327.4 762,348.6" fill="#595e9f" stroke="#2a2a31" stroke-width="1.4" stroke-linejoin="round" />
<polygon points="760.3,348.1 733.8,332.8 733.8,305.4 760.3,320.7" fill="#5b5b5c" stroke="#2a2a31" stroke-width="1.9" stroke-linejoin="round" />
<polygon points="760.3,348.1 785.4,333.6 785.4,306.2 760.3,320.7" fill="#a78d7a" stroke="#2a2a31" stroke-width="1.9" stroke-linejoin="round" />
<polygon points="760.3,320.7 733.8,305.4 758.9,290.9 785.4,306.2" fill="#cfc5bd" stroke="#2a2a31" stroke-width="1.9" stroke-linejoin="round" />
<polygon points="751.1,314.4 744.7,310.7 768.1,297.2 774.5,300.9" fill="#e6dfda"/>
<polygon points="760.3,320.7 733.8,305.4 758.9,290.9 785.4,306.2" fill="none" stroke="#2a2a31" stroke-width="1.9" stroke-linejoin="round" />
<line x1="747" y1="338.5" x2="747" y2="315.1" stroke="#c9404a" stroke-width="0.9" stroke-linecap="round" stroke-dasharray="0.8 3.4" opacity="0.8"/>
<polygon points="760.3,320.7 733.8,305.4 733.8,278 760.3,293.3" fill="#5b5b5c" stroke="#2a2a31" stroke-width="1.9" stroke-linejoin="round" />
<polygon points="760.3,320.7 785.4,306.2 785.4,278.8 760.3,293.3" fill="#a78d7a" stroke="#2a2a31" stroke-width="1.9" stroke-linejoin="round" />
<polygon points="760.3,293.3 733.8,278 758.9,263.5 785.4,278.8" fill="#cfc5bd" stroke="#2a2a31" stroke-width="1.9" stroke-linejoin="round" />
<polygon points="751.1,287 744.7,283.3 768.1,269.8 774.5,273.5" fill="#e6dfda"/>
<polygon points="760.3,293.3 733.8,278 758.9,263.5 785.4,278.8" fill="none" stroke="#2a2a31" stroke-width="1.9" stroke-linejoin="round" />
<line x1="747" y1="311.1" x2="747" y2="287.7" stroke="#c9404a" stroke-width="0.9" stroke-linecap="round" stroke-dasharray="0.8 3.4" opacity="0.8"/>
<polygon points="927,392.1 857.7,352.1 965.7,289.8 1035,329.8" fill="#595e9f" stroke="#2a2a31" stroke-width="2.3" stroke-linejoin="round" />
<polygon points="927,392.1 857.7,352.1 857.7,357.7 927,397.7" fill="#595e9f" stroke="#2a2a31" stroke-width="2.3" stroke-linejoin="round" />
<polygon points="927,392.1 1035,329.8 1035,335.4 927,397.7" fill="#c2cef3" stroke="#2a2a31" stroke-width="2.3" stroke-linejoin="round" />
<polygon points="965.7,328.8 939.7,313.8 939.7,285.8 965.7,300.8" fill="#5b5b5c" stroke="#2a2a31" stroke-width="1.9" stroke-linejoin="round" />
<polygon points="965.7,328.8 991.7,313.8 991.7,285.8 965.7,300.8" fill="#a78d7a" stroke="#2a2a31" stroke-width="1.9" stroke-linejoin="round" />
<polygon points="965.7,300.8 939.7,285.8 965.7,270.8 991.7,285.8" fill="#cfc5bd" stroke="#2a2a31" stroke-width="1.9" stroke-linejoin="round" />
<polygon points="956.7,294.6 950.5,290.9 974.7,276.9 981,280.6" fill="#e6dfda"/>
<polygon points="965.7,300.8 939.7,285.8 965.7,270.8 991.7,285.8" fill="none" stroke="#2a2a31" stroke-width="1.9" stroke-linejoin="round" />
<line x1="952.7" y1="319.2" x2="952.7" y2="295.2" stroke="#c9404a" stroke-width="0.9" stroke-linecap="round" stroke-dasharray="0.8 3.4" opacity="0.8"/>
<polygon points="994.9,345.6 968.9,330.6 968.9,302.6 994.9,317.6" fill="#5b5b5c" stroke="#2a2a31" stroke-width="1.9" stroke-linejoin="round" />
<polygon points="994.9,345.6 1020.9,330.6 1020.9,302.6 994.9,317.6" fill="#a78d7a" stroke="#2a2a31" stroke-width="1.9" stroke-linejoin="round" />
<polygon points="994.9,317.6 968.9,302.6 994.9,287.6 1020.9,302.6" fill="#cfc5bd" stroke="#2a2a31" stroke-width="1.9" stroke-linejoin="round" />
<polygon points="985.9,311.4 979.7,307.8 1003.9,293.8 1010.1,297.4" fill="#e6dfda"/>
<polygon points="994.9,317.6 968.9,302.6 994.9,287.6 1020.9,302.6" fill="none" stroke="#2a2a31" stroke-width="1.9" stroke-linejoin="round" />
<line x1="981.9" y1="336.1" x2="981.9" y2="312.1" stroke="#c9404a" stroke-width="0.9" stroke-linecap="round" stroke-dasharray="0.8 3.4" opacity="0.8"/>
<polygon points="933.1,347.6 907.2,332.6 907.2,304.6 933.1,319.6" fill="#5b5b5c" stroke="#2a2a31" stroke-width="1.9" stroke-linejoin="round" />
<polygon points="933.1,347.6 959.1,332.6 959.1,304.6 933.1,319.6" fill="#a78d7a" stroke="#2a2a31" stroke-width="1.9" stroke-linejoin="round" />
<polygon points="933.1,319.6 907.2,304.6 933.1,289.6 959.1,304.6" fill="#cfc5bd" stroke="#2a2a31" stroke-width="1.9" stroke-linejoin="round" />
<polygon points="924.1,313.4 917.9,309.8 942.2,295.8 948.4,299.4" fill="#e6dfda"/>
<polygon points="933.1,319.6 907.2,304.6 933.1,289.6 959.1,304.6" fill="none" stroke="#2a2a31" stroke-width="1.9" stroke-linejoin="round" />
<line x1="920.2" y1="338.1" x2="920.2" y2="314.1" stroke="#c9404a" stroke-width="0.9" stroke-linecap="round" stroke-dasharray="0.8 3.4" opacity="0.8"/>
<polygon points="962.3,364.4 936.4,349.4 936.4,321.4 962.3,336.4" fill="#5b5b5c" stroke="#2a2a31" stroke-width="1.9" stroke-linejoin="round" />
<polygon points="962.3,364.4 988.3,349.4 988.3,321.4 962.3,336.4" fill="#a78d7a" stroke="#2a2a31" stroke-width="1.9" stroke-linejoin="round" />
<polygon points="962.3,336.4 936.4,321.4 962.3,306.4 988.3,321.4" fill="#cfc5bd" stroke="#2a2a31" stroke-width="1.9" stroke-linejoin="round" />
<polygon points="953.3,330.2 947.1,326.6 971.3,312.6 977.6,316.2" fill="#e6dfda"/>
<polygon points="962.3,336.4 936.4,321.4 962.3,306.4 988.3,321.4" fill="none" stroke="#2a2a31" stroke-width="1.9" stroke-linejoin="round" />
<line x1="949.3" y1="354.9" x2="949.3" y2="330.9" stroke="#c9404a" stroke-width="0.9" stroke-linecap="round" stroke-dasharray="0.8 3.4" opacity="0.8"/>
<polygon points="899.4,367.1 873.4,352.1 873.4,324.1 899.4,339.1" fill="#5b5b5c" stroke="#2a2a31" stroke-width="1.9" stroke-linejoin="round" />
<polygon points="899.4,367.1 925.4,352.1 925.4,324.1 899.4,339.1" fill="#a78d7a" stroke="#2a2a31" stroke-width="1.9" stroke-linejoin="round" />
<polygon points="899.4,339.1 873.4,324.1 899.4,309.1 925.4,324.1" fill="#cfc5bd" stroke="#2a2a31" stroke-width="1.9" stroke-linejoin="round" />
<polygon points="890.4,332.9 884.1,329.2 908.4,315.2 914.6,318.9" fill="#e6dfda"/>
<polygon points="899.4,339.1 873.4,324.1 899.4,309.1 925.4,324.1" fill="none" stroke="#2a2a31" stroke-width="1.9" stroke-linejoin="round" />
<line x1="886.4" y1="357.6" x2="886.4" y2="333.6" stroke="#c9404a" stroke-width="0.9" stroke-linecap="round" stroke-dasharray="0.8 3.4" opacity="0.8"/>
<polygon points="928.6,383.9 902.6,368.9 902.6,340.9 928.6,355.9" fill="#5b5b5c" stroke="#2a2a31" stroke-width="1.9" stroke-linejoin="round" />
<polygon points="928.6,383.9 954.5,368.9 954.5,340.9 928.6,355.9" fill="#a78d7a" stroke="#2a2a31" stroke-width="1.9" stroke-linejoin="round" />
<polygon points="928.6,355.9 902.6,340.9 928.6,325.9 954.5,340.9" fill="#cfc5bd" stroke="#2a2a31" stroke-width="1.9" stroke-linejoin="round" />
<polygon points="919.6,349.7 913.3,346.1 937.6,332.1 943.8,335.7" fill="#e6dfda"/>
<polygon points="928.6,355.9 902.6,340.9 928.6,325.9 954.5,340.9" fill="none" stroke="#2a2a31" stroke-width="1.9" stroke-linejoin="round" />
<line x1="915.6" y1="374.4" x2="915.6" y2="350.4" stroke="#c9404a" stroke-width="0.9" stroke-linecap="round" stroke-dasharray="0.8 3.4" opacity="0.8"/>
<polygon points="927,346.1 857.7,306.1 965.7,243.8 1035,283.8" fill="#595e9f" stroke="#2a2a31" stroke-width="2.3" stroke-linejoin="round" />
<polygon points="927,346.1 857.7,306.1 857.7,311.7 927,351.7" fill="#595e9f" stroke="#2a2a31" stroke-width="2.3" stroke-linejoin="round" />
<polygon points="927,346.1 1035,283.8 1035,289.4 927,351.7" fill="#c2cef3" stroke="#2a2a31" stroke-width="2.3" stroke-linejoin="round" />
<polygon points="965.7,282.8 939.7,267.8 939.7,239.8 965.7,254.8" fill="#5b5b5c" stroke="#2a2a31" stroke-width="1.9" stroke-linejoin="round" />
<polygon points="965.7,282.8 991.7,267.8 991.7,239.8 965.7,254.8" fill="#a78d7a" stroke="#2a2a31" stroke-width="1.9" stroke-linejoin="round" />
<polygon points="965.7,254.8 939.7,239.8 965.7,224.8 991.7,239.8" fill="#cfc5bd" stroke="#2a2a31" stroke-width="1.9" stroke-linejoin="round" />
<polygon points="956.7,248.6 950.5,244.9 974.7,230.9 981,234.6" fill="#e6dfda"/>
<polygon points="965.7,254.8 939.7,239.8 965.7,224.8 991.7,239.8" fill="none" stroke="#2a2a31" stroke-width="1.9" stroke-linejoin="round" />
<line x1="952.7" y1="273.2" x2="952.7" y2="249.2" stroke="#c9404a" stroke-width="0.9" stroke-linecap="round" stroke-dasharray="0.8 3.4" opacity="0.8"/>
<polygon points="994.9,299.6 968.9,284.6 968.9,256.6 994.9,271.6" fill="#5b5b5c" stroke="#2a2a31" stroke-width="1.9" stroke-linejoin="round" />
<polygon points="994.9,299.6 1020.9,284.6 1020.9,256.6 994.9,271.6" fill="#a78d7a" stroke="#2a2a31" stroke-width="1.9" stroke-linejoin="round" />
<polygon points="994.9,271.6 968.9,256.6 994.9,241.6 1020.9,256.6" fill="#cfc5bd" stroke="#2a2a31" stroke-width="1.9" stroke-linejoin="round" />
<polygon points="985.9,265.4 979.7,261.8 1003.9,247.8 1010.1,251.4" fill="#e6dfda"/>
<polygon points="994.9,271.6 968.9,256.6 994.9,241.6 1020.9,256.6" fill="none" stroke="#2a2a31" stroke-width="1.9" stroke-linejoin="round" />
<line x1="981.9" y1="290.1" x2="981.9" y2="266.1" stroke="#c9404a" stroke-width="0.9" stroke-linecap="round" stroke-dasharray="0.8 3.4" opacity="0.8"/>
<polygon points="933.1,301.6 907.2,286.6 907.2,258.6 933.1,273.6" fill="#5b5b5c" stroke="#2a2a31" stroke-width="1.9" stroke-linejoin="round" />
<polygon points="933.1,301.6 959.1,286.6 959.1,258.6 933.1,273.6" fill="#a78d7a" stroke="#2a2a31" stroke-width="1.9" stroke-linejoin="round" />
<polygon points="933.1,273.6 907.2,258.6 933.1,243.6 959.1,258.6" fill="#cfc5bd" stroke="#2a2a31" stroke-width="1.9" stroke-linejoin="round" />
<polygon points="924.1,267.4 917.9,263.8 942.2,249.8 948.4,253.4" fill="#e6dfda"/>
<polygon points="933.1,273.6 907.2,258.6 933.1,243.6 959.1,258.6" fill="none" stroke="#2a2a31" stroke-width="1.9" stroke-linejoin="round" />
<line x1="920.2" y1="292.1" x2="920.2" y2="268.1" stroke="#c9404a" stroke-width="0.9" stroke-linecap="round" stroke-dasharray="0.8 3.4" opacity="0.8"/>
<polygon points="962.3,318.4 936.4,303.4 936.4,275.4 962.3,290.4" fill="#5b5b5c" stroke="#2a2a31" stroke-width="1.9" stroke-linejoin="round" />
<polygon points="962.3,318.4 988.3,303.4 988.3,275.4 962.3,290.4" fill="#a78d7a" stroke="#2a2a31" stroke-width="1.9" stroke-linejoin="round" />
<polygon points="962.3,290.4 936.4,275.4 962.3,260.4 988.3,275.4" fill="#cfc5bd" stroke="#2a2a31" stroke-width="1.9" stroke-linejoin="round" />
<polygon points="953.3,284.2 947.1,280.6 971.3,266.6 977.6,270.2" fill="#e6dfda"/>
<polygon points="962.3,290.4 936.4,275.4 962.3,260.4 988.3,275.4" fill="none" stroke="#2a2a31" stroke-width="1.9" stroke-linejoin="round" />
<line x1="949.3" y1="308.9" x2="949.3" y2="284.9" stroke="#c9404a" stroke-width="0.9" stroke-linecap="round" stroke-dasharray="0.8 3.4" opacity="0.8"/>
<polygon points="899.4,321.1 873.4,306.1 873.4,278.1 899.4,293.1" fill="#5b5b5c" stroke="#2a2a31" stroke-width="1.9" stroke-linejoin="round" />
<polygon points="899.4,321.1 925.4,306.1 925.4,278.1 899.4,293.1" fill="#a78d7a" stroke="#2a2a31" stroke-width="1.9" stroke-linejoin="round" />
<polygon points="899.4,293.1 873.4,278.1 899.4,263.1 925.4,278.1" fill="#cfc5bd" stroke="#2a2a31" stroke-width="1.9" stroke-linejoin="round" />
<polygon points="890.4,286.9 884.1,283.2 908.4,269.2 914.6,272.9" fill="#e6dfda"/>
<polygon points="899.4,293.1 873.4,278.1 899.4,263.1 925.4,278.1" fill="none" stroke="#2a2a31" stroke-width="1.9" stroke-linejoin="round" />
<line x1="886.4" y1="311.6" x2="886.4" y2="287.6" stroke="#c9404a" stroke-width="0.9" stroke-linecap="round" stroke-dasharray="0.8 3.4" opacity="0.8"/>
<polygon points="928.6,337.9 902.6,322.9 902.6,294.9 928.6,309.9" fill="#5b5b5c" stroke="#2a2a31" stroke-width="1.9" stroke-linejoin="round" />
<polygon points="928.6,337.9 954.5,322.9 954.5,294.9 928.6,309.9" fill="#a78d7a" stroke="#2a2a31" stroke-width="1.9" stroke-linejoin="round" />
<polygon points="928.6,309.9 902.6,294.9 928.6,279.9 954.5,294.9" fill="#cfc5bd" stroke="#2a2a31" stroke-width="1.9" stroke-linejoin="round" />
<polygon points="919.6,303.7 913.3,300.1 937.6,286.1 943.8,289.7" fill="#e6dfda"/>
<polygon points="928.6,309.9 902.6,294.9 928.6,279.9 954.5,294.9" fill="none" stroke="#2a2a31" stroke-width="1.9" stroke-linejoin="round" />
<line x1="915.6" y1="328.4" x2="915.6" y2="304.4" stroke="#c9404a" stroke-width="0.9" stroke-linecap="round" stroke-dasharray="0.8 3.4" opacity="0.8"/>
<polygon points="927,312.3 857.7,272.3 965.7,210 1035,250" fill="#595e9f" stroke="#2a2a31" stroke-width="2.3" stroke-linejoin="round" />
<polygon points="927,312.3 857.7,272.3 857.7,277.9 927,317.9" fill="#595e9f" stroke="#2a2a31" stroke-width="2.3" stroke-linejoin="round" />
<polygon points="927,312.3 1035,250 1035,255.6 927,317.9" fill="#c2cef3" stroke="#2a2a31" stroke-width="2.3" stroke-linejoin="round" />
<polygon points="965.7,249 939.7,234 939.7,206 965.7,221" fill="#5b5b5c" stroke="#2a2a31" stroke-width="1.9" stroke-linejoin="round" />
<polygon points="965.7,249 991.7,234 991.7,206 965.7,221" fill="#a78d7a" stroke="#2a2a31" stroke-width="1.9" stroke-linejoin="round" />
<polygon points="965.7,221 939.7,206 965.7,191 991.7,206" fill="#cfc5bd" stroke="#2a2a31" stroke-width="1.9" stroke-linejoin="round" />
<polygon points="956.7,214.8 950.5,211.2 974.7,197.2 981,200.8" fill="#e6dfda"/>
<polygon points="965.7,221 939.7,206 965.7,191 991.7,206" fill="none" stroke="#2a2a31" stroke-width="1.9" stroke-linejoin="round" />
<line x1="952.7" y1="239.5" x2="952.7" y2="215.5" stroke="#c9404a" stroke-width="0.9" stroke-linecap="round" stroke-dasharray="0.8 3.4" opacity="0.8"/>
<polygon points="994.9,265.8 968.9,250.8 968.9,222.8 994.9,237.8" fill="#5b5b5c" stroke="#2a2a31" stroke-width="1.9" stroke-linejoin="round" />
<polygon points="994.9,265.8 1020.9,250.8 1020.9,222.8 994.9,237.8" fill="#a78d7a" stroke="#2a2a31" stroke-width="1.9" stroke-linejoin="round" />
<polygon points="994.9,237.8 968.9,222.8 994.9,207.8 1020.9,222.8" fill="#cfc5bd" stroke="#2a2a31" stroke-width="1.9" stroke-linejoin="round" />
<polygon points="985.9,231.6 979.7,228 1003.9,214 1010.1,217.6" fill="#e6dfda"/>
<polygon points="994.9,237.8 968.9,222.8 994.9,207.8 1020.9,222.8" fill="none" stroke="#2a2a31" stroke-width="1.9" stroke-linejoin="round" />
<line x1="981.9" y1="256.3" x2="981.9" y2="232.3" stroke="#c9404a" stroke-width="0.9" stroke-linecap="round" stroke-dasharray="0.8 3.4" opacity="0.8"/>
<polygon points="933.1,267.8 907.2,252.8 907.2,224.8 933.1,239.8" fill="#5b5b5c" stroke="#2a2a31" stroke-width="1.9" stroke-linejoin="round" />
<polygon points="933.1,267.8 959.1,252.8 959.1,224.8 933.1,239.8" fill="#a78d7a" stroke="#2a2a31" stroke-width="1.9" stroke-linejoin="round" />
<polygon points="933.1,239.8 907.2,224.8 933.1,209.8 959.1,224.8" fill="#cfc5bd" stroke="#2a2a31" stroke-width="1.9" stroke-linejoin="round" />
<polygon points="924.1,233.6 917.9,229.9 942.2,215.9 948.4,219.6" fill="#e6dfda"/>
<polygon points="933.1,239.8 907.2,224.8 933.1,209.8 959.1,224.8" fill="none" stroke="#2a2a31" stroke-width="1.9" stroke-linejoin="round" />
<line x1="920.2" y1="258.2" x2="920.2" y2="234.2" stroke="#c9404a" stroke-width="0.9" stroke-linecap="round" stroke-dasharray="0.8 3.4" opacity="0.8"/>
<polygon points="962.3,284.6 936.4,269.6 936.4,241.6 962.3,256.6" fill="#5b5b5c" stroke="#2a2a31" stroke-width="1.9" stroke-linejoin="round" />
<polygon points="962.3,284.6 988.3,269.6 988.3,241.6 962.3,256.6" fill="#a78d7a" stroke="#2a2a31" stroke-width="1.9" stroke-linejoin="round" />
<polygon points="962.3,256.6 936.4,241.6 962.3,226.6 988.3,241.6" fill="#cfc5bd" stroke="#2a2a31" stroke-width="1.9" stroke-linejoin="round" />
<polygon points="953.3,250.4 947.1,246.8 971.3,232.8 977.6,236.4" fill="#e6dfda"/>
<polygon points="962.3,256.6 936.4,241.6 962.3,226.6 988.3,241.6" fill="none" stroke="#2a2a31" stroke-width="1.9" stroke-linejoin="round" />
<line x1="949.3" y1="275.1" x2="949.3" y2="251.1" stroke="#c9404a" stroke-width="0.9" stroke-linecap="round" stroke-dasharray="0.8 3.4" opacity="0.8"/>
<polygon points="899.4,287.2 873.4,272.2 873.4,244.2 899.4,259.2" fill="#5b5b5c" stroke="#2a2a31" stroke-width="1.9" stroke-linejoin="round" />
<polygon points="899.4,287.2 925.4,272.2 925.4,244.2 899.4,259.2" fill="#a78d7a" stroke="#2a2a31" stroke-width="1.9" stroke-linejoin="round" />
<polygon points="899.4,259.2 873.4,244.2 899.4,229.2 925.4,244.2" fill="#cfc5bd" stroke="#2a2a31" stroke-width="1.9" stroke-linejoin="round" />
<polygon points="890.4,253.1 884.1,249.4 908.4,235.4 914.6,239.1" fill="#e6dfda"/>
<polygon points="899.4,259.2 873.4,244.2 899.4,229.2 925.4,244.2" fill="none" stroke="#2a2a31" stroke-width="1.9" stroke-linejoin="round" />
<line x1="886.4" y1="277.8" x2="886.4" y2="253.8" stroke="#c9404a" stroke-width="0.9" stroke-linecap="round" stroke-dasharray="0.8 3.4" opacity="0.8"/>
<polygon points="928.6,304.1 902.6,289.1 902.6,261.1 928.6,276.1" fill="#5b5b5c" stroke="#2a2a31" stroke-width="1.9" stroke-linejoin="round" />
<polygon points="928.6,304.1 954.5,289.1 954.5,261.1 928.6,276.1" fill="#a78d7a" stroke="#2a2a31" stroke-width="1.9" stroke-linejoin="round" />
<polygon points="928.6,276.1 902.6,261.1 928.6,246.1 954.5,261.1" fill="#cfc5bd" stroke="#2a2a31" stroke-width="1.9" stroke-linejoin="round" />
<polygon points="919.6,269.9 913.3,266.3 937.6,252.3 943.8,255.9" fill="#e6dfda"/>
<polygon points="928.6,276.1 902.6,261.1 928.6,246.1 954.5,261.1" fill="none" stroke="#2a2a31" stroke-width="1.9" stroke-linejoin="round" />
<line x1="915.6" y1="294.6" x2="915.6" y2="270.6" stroke="#c9404a" stroke-width="0.9" stroke-linecap="round" stroke-dasharray="0.8 3.4" opacity="0.8"/>
<polygon points="864.2,276.1 857.7,272.3 857.7,386.5 864.2,390.2" fill="#595e9f" stroke="#2a2a31" stroke-width="1.5" stroke-linejoin="round" />
<polygon points="1028.5,253.7 1035,250 1035,364.2 1028.5,367.9" fill="#c2cef3" stroke="#2a2a31" stroke-width="1.5" stroke-linejoin="round" />
<polygon points="977.7,283 984.2,279.2 984.2,393.4 977.7,397.2" fill="#c2cef3" stroke="#2a2a31" stroke-width="1.5" stroke-linejoin="round" />
<polygon points="927,312.3 920.5,308.6 920.5,422.8 927,426.5" fill="#595e9f" stroke="#2a2a31" stroke-width="1.5" stroke-linejoin="round" />
<polygon points="927,312.3 933.5,308.6 933.5,422.8 927,426.5" fill="#c2cef3" stroke="#2a2a31" stroke-width="1.5" stroke-linejoin="round" />
<line x1="927" y1="312.3" x2="857.7" y2="272.3" stroke="#2a2a31" stroke-width="2.3" stroke-linecap="round" />
<line x1="927" y1="312.3" x2="1035" y2="250" stroke="#2a2a31" stroke-width="2.3" stroke-linecap="round" />
<polygon points="706.7,464.6 699.9,460.8 699.9,452.1 706.7,456" fill="#aebcec" stroke="#2a2a31" stroke-width="1.7" stroke-linejoin="round" />
<polygon points="706.7,464.6 713.4,460.8 713.4,452.1 706.7,456" fill="#c2cef3" stroke="#2a2a31" stroke-width="1.7" stroke-linejoin="round" />
<polygon points="706.7,456 699.9,452.1 706.7,448.2 713.4,452.1" fill="#c2cef3" stroke="#2a2a31" stroke-width="1.7" stroke-linejoin="round" />
<polygon points="725.9,475.8 719.2,471.9 719.2,463.3 725.9,467.2" fill="#aebcec" stroke="#2a2a31" stroke-width="1.7" stroke-linejoin="round" />
<polygon points="725.9,475.8 732.7,471.9 732.7,463.3 725.9,467.2" fill="#c2cef3" stroke="#2a2a31" stroke-width="1.7" stroke-linejoin="round" />
<polygon points="725.9,467.2 719.2,463.3 725.9,459.4 732.7,463.3" fill="#c2cef3" stroke="#2a2a31" stroke-width="1.7" stroke-linejoin="round" />
<polygon points="783.7,464.6 777,460.8 777,452.1 783.7,456" fill="#aebcec" stroke="#2a2a31" stroke-width="1.7" stroke-linejoin="round" />
<polygon points="783.7,464.6 790.5,460.8 790.5,452.1 783.7,456" fill="#c2cef3" stroke="#2a2a31" stroke-width="1.7" stroke-linejoin="round" />
<polygon points="783.7,456 777,452.1 783.7,448.2 790.5,452.1" fill="#c2cef3" stroke="#2a2a31" stroke-width="1.7" stroke-linejoin="round" />
<polygon points="764.5,475.8 757.7,471.9 757.7,463.3 764.5,467.2" fill="#aebcec" stroke="#2a2a31" stroke-width="1.7" stroke-linejoin="round" />
<polygon points="764.5,475.8 771.2,471.9 771.2,463.3 764.5,467.2" fill="#c2cef3" stroke="#2a2a31" stroke-width="1.7" stroke-linejoin="round" />
<polygon points="764.5,467.2 757.7,463.3 764.5,459.4 771.2,463.3" fill="#c2cef3" stroke="#2a2a31" stroke-width="1.7" stroke-linejoin="round" />
<polygon points="745.2,486.9 738.4,483 738.4,474.4 745.2,478.3" fill="#aebcec" stroke="#2a2a31" stroke-width="1.7" stroke-linejoin="round" />
<polygon points="745.2,486.9 752,483 752,474.4 745.2,478.3" fill="#c2cef3" stroke="#2a2a31" stroke-width="1.7" stroke-linejoin="round" />
<polygon points="745.2,478.3 738.4,474.4 745.2,470.5 752,474.4" fill="#c2cef3" stroke="#2a2a31" stroke-width="1.7" stroke-linejoin="round" />
<polygon points="745.2,478.3 699.9,452.1 699.9,449.3 745.2,475.5" fill="#dbd6d4" stroke="#2a2a31" stroke-width="1.7" stroke-linejoin="round" />
<polygon points="745.2,478.3 790.5,452.1 790.5,449.3 745.2,475.5" fill="#dbd6d4" stroke="#2a2a31" stroke-width="1.7" stroke-linejoin="round" />
<polygon points="745.2,475.5 699.9,449.3 745.2,423.2 790.5,449.3" fill="#dbd6d4" stroke="#2a2a31" stroke-width="1.7" stroke-linejoin="round" />
<polygon points="745.2,451.7 727.2,441.3 727.2,421.1 745.2,431.5" fill="#5b5b5c" stroke="#2a2a31" stroke-width="1.9" stroke-linejoin="round" />
<polygon points="745.2,451.7 763.2,441.3 763.2,421.1 745.2,431.5" fill="#a78d7a" stroke="#2a2a31" stroke-width="1.9" stroke-linejoin="round" />
<polygon points="745.2,431.5 727.2,421.1 745.2,410.7 763.2,421.1" fill="#cfc5bd" stroke="#2a2a31" stroke-width="1.9" stroke-linejoin="round" />
<polygon points="739.2,427 734.9,424.6 751.2,415.2 755.5,417.6" fill="#e6dfda"/>
<polygon points="745.2,431.5 727.2,421.1 745.2,410.7 763.2,421.1" fill="none" stroke="#2a2a31" stroke-width="1.9" stroke-linejoin="round" />
<line x1="736.2" y1="444.5" x2="736.2" y2="428.3" stroke="#c9404a" stroke-width="0.9" stroke-linecap="round" stroke-dasharray="0.8 3.4" opacity="0.8"/>
<polygon points="727.2,462.1 709.2,451.7 709.2,431.5 727.2,441.9" fill="#5b5b5c" stroke="#2a2a31" stroke-width="1.9" stroke-linejoin="round" />
<polygon points="727.2,462.1 745.2,451.7 745.2,431.5 727.2,441.9" fill="#a78d7a" stroke="#2a2a31" stroke-width="1.9" stroke-linejoin="round" />
<polygon points="727.2,441.9 709.2,431.5 727.2,421.1 745.2,431.5" fill="#cfc5bd" stroke="#2a2a31" stroke-width="1.9" stroke-linejoin="round" />
<polygon points="721.2,437.4 716.9,435 733.2,425.6 737.5,428" fill="#e6dfda"/>
<polygon points="727.2,441.9 709.2,431.5 727.2,421.1 745.2,431.5" fill="none" stroke="#2a2a31" stroke-width="1.9" stroke-linejoin="round" />
<line x1="718.2" y1="454.9" x2="718.2" y2="438.7" stroke="#c9404a" stroke-width="0.9" stroke-linecap="round" stroke-dasharray="0.8 3.4" opacity="0.8"/>
<polygon points="763.2,462.1 745.2,451.7 745.2,431.5 763.2,441.9" fill="#5b5b5c" stroke="#2a2a31" stroke-width="1.9" stroke-linejoin="round" />
<polygon points="763.2,462.1 781.2,451.7 781.2,431.5 763.2,441.9" fill="#a78d7a" stroke="#2a2a31" stroke-width="1.9" stroke-linejoin="round" />
<polygon points="763.2,441.9 745.2,431.5 763.2,421.1 781.2,431.5" fill="#cfc5bd" stroke="#2a2a31" stroke-width="1.9" stroke-linejoin="round" />
<polygon points="757.2,437.4 752.9,435 769.2,425.6 773.5,428" fill="#e6dfda"/>
<polygon points="763.2,441.9 745.2,431.5 763.2,421.1 781.2,431.5" fill="none" stroke="#2a2a31" stroke-width="1.9" stroke-linejoin="round" />
<line x1="754.2" y1="454.9" x2="754.2" y2="438.7" stroke="#c9404a" stroke-width="0.9" stroke-linecap="round" stroke-dasharray="0.8 3.4" opacity="0.8"/>
<polygon points="745.2,472.5 727.2,462.1 727.2,441.9 745.2,452.3" fill="#5b5b5c" stroke="#2a2a31" stroke-width="1.9" stroke-linejoin="round" />
<polygon points="745.2,472.5 763.2,462.1 763.2,441.9 745.2,452.3" fill="#a78d7a" stroke="#2a2a31" stroke-width="1.9" stroke-linejoin="round" />
<polygon points="745.2,452.3 727.2,441.9 745.2,431.5 763.2,441.9" fill="#cfc5bd" stroke="#2a2a31" stroke-width="1.9" stroke-linejoin="round" />
<polygon points="739.2,447.8 734.9,445.4 751.2,436 755.5,438.4" fill="#e6dfda"/>
<polygon points="745.2,452.3 727.2,441.9 745.2,431.5 763.2,441.9" fill="none" stroke="#2a2a31" stroke-width="1.9" stroke-linejoin="round" />
<line x1="736.2" y1="465.3" x2="736.2" y2="449.1" stroke="#c9404a" stroke-width="0.9" stroke-linecap="round" stroke-dasharray="0.8 3.4" opacity="0.8"/>
<polygon points="745.2,431.5 727.2,421.1 727.2,400.9 745.2,411.3" fill="#5b5b5c" stroke="#2a2a31" stroke-width="1.9" stroke-linejoin="round" />
<polygon points="745.2,431.5 763.2,421.1 763.2,400.9 745.2,411.3" fill="#a78d7a" stroke="#2a2a31" stroke-width="1.9" stroke-linejoin="round" />
<polygon points="745.2,411.3 727.2,400.9 745.2,390.5 763.2,400.9" fill="#cfc5bd" stroke="#2a2a31" stroke-width="1.9" stroke-linejoin="round" />
<polygon points="739.2,406.8 734.9,404.4 751.2,395 755.5,397.4" fill="#e6dfda"/>
<polygon points="745.2,411.3 727.2,400.9 745.2,390.5 763.2,400.9" fill="none" stroke="#2a2a31" stroke-width="1.9" stroke-linejoin="round" />
<line x1="736.2" y1="424.3" x2="736.2" y2="408.1" stroke="#c9404a" stroke-width="0.9" stroke-linecap="round" stroke-dasharray="0.8 3.4" opacity="0.8"/>
<polygon points="727.2,441.9 709.2,431.5 709.2,411.3 727.2,421.7" fill="#5b5b5c" stroke="#2a2a31" stroke-width="1.9" stroke-linejoin="round" />
<polygon points="727.2,441.9 745.2,431.5 745.2,411.3 727.2,421.7" fill="#a78d7a" stroke="#2a2a31" stroke-width="1.9" stroke-linejoin="round" />
<polygon points="727.2,421.7 709.2,411.3 727.2,400.9 745.2,411.3" fill="#cfc5bd" stroke="#2a2a31" stroke-width="1.9" stroke-linejoin="round" />
<polygon points="721.2,417.2 716.9,414.8 733.2,405.4 737.5,407.8" fill="#e6dfda"/>
<polygon points="727.2,421.7 709.2,411.3 727.2,400.9 745.2,411.3" fill="none" stroke="#2a2a31" stroke-width="1.9" stroke-linejoin="round" />
<line x1="718.2" y1="434.7" x2="718.2" y2="418.5" stroke="#c9404a" stroke-width="0.9" stroke-linecap="round" stroke-dasharray="0.8 3.4" opacity="0.8"/>
<polygon points="763.2,441.9 745.2,431.5 745.2,411.3 763.2,421.7" fill="#5b5b5c" stroke="#2a2a31" stroke-width="1.9" stroke-linejoin="round" />
<polygon points="763.2,441.9 781.2,431.5 781.2,411.3 763.2,421.7" fill="#a78d7a" stroke="#2a2a31" stroke-width="1.9" stroke-linejoin="round" />
<polygon points="763.2,421.7 745.2,411.3 763.2,400.9 781.2,411.3" fill="#cfc5bd" stroke="#2a2a31" stroke-width="1.9" stroke-linejoin="round" />
<polygon points="757.2,417.2 752.9,414.8 769.2,405.4 773.5,407.8" fill="#e6dfda"/>
<polygon points="763.2,421.7 745.2,411.3 763.2,400.9 781.2,411.3" fill="none" stroke="#2a2a31" stroke-width="1.9" stroke-linejoin="round" />
<line x1="754.2" y1="434.7" x2="754.2" y2="418.5" stroke="#c9404a" stroke-width="0.9" stroke-linecap="round" stroke-dasharray="0.8 3.4" opacity="0.8"/>
<polygon points="745.2,452.3 727.2,441.9 727.2,421.7 745.2,432.1" fill="#5b5b5c" stroke="#2a2a31" stroke-width="1.9" stroke-linejoin="round" />
<polygon points="745.2,452.3 763.2,441.9 763.2,421.7 745.2,432.1" fill="#a78d7a" stroke="#2a2a31" stroke-width="1.9" stroke-linejoin="round" />
<polygon points="745.2,432.1 727.2,421.7 745.2,411.3 763.2,421.7" fill="#cfc5bd" stroke="#2a2a31" stroke-width="1.9" stroke-linejoin="round" />
<polygon points="739.2,427.6 734.9,425.2 751.2,415.8 755.5,418.2" fill="#e6dfda"/>
<polygon points="745.2,432.1 727.2,421.7 745.2,411.3 763.2,421.7" fill="none" stroke="#2a2a31" stroke-width="1.9" stroke-linejoin="round" />
<line x1="736.2" y1="445.1" x2="736.2" y2="428.9" stroke="#c9404a" stroke-width="0.9" stroke-linecap="round" stroke-dasharray="0.8 3.4" opacity="0.8"/>
<polygon points="706.7,412.8 699.9,408.9 699.9,400.3 706.7,404.2" fill="#aebcec" stroke="#2a2a31" stroke-width="1.7" stroke-linejoin="round" />
<polygon points="706.7,412.8 713.4,408.9 713.4,400.3 706.7,404.2" fill="#c2cef3" stroke="#2a2a31" stroke-width="1.7" stroke-linejoin="round" />
<polygon points="706.7,404.2 699.9,400.3 706.7,396.4 713.4,400.3" fill="#c2cef3" stroke="#2a2a31" stroke-width="1.7" stroke-linejoin="round" />
<polygon points="725.9,424 719.2,420.1 719.2,411.5 725.9,415.4" fill="#aebcec" stroke="#2a2a31" stroke-width="1.7" stroke-linejoin="round" />
<polygon points="725.9,424 732.7,420.1 732.7,411.5 725.9,415.4" fill="#c2cef3" stroke="#2a2a31" stroke-width="1.7" stroke-linejoin="round" />
<polygon points="725.9,415.4 719.2,411.5 725.9,407.6 732.7,411.5" fill="#c2cef3" stroke="#2a2a31" stroke-width="1.7" stroke-linejoin="round" />
<polygon points="783.7,412.8 777,408.9 777,400.3 783.7,404.2" fill="#aebcec" stroke="#2a2a31" stroke-width="1.7" stroke-linejoin="round" />
<polygon points="783.7,412.8 790.5,408.9 790.5,400.3 783.7,404.2" fill="#c2cef3" stroke="#2a2a31" stroke-width="1.7" stroke-linejoin="round" />
<polygon points="783.7,404.2 777,400.3 783.7,396.4 790.5,400.3" fill="#c2cef3" stroke="#2a2a31" stroke-width="1.7" stroke-linejoin="round" />
<polygon points="764.5,424 757.7,420.1 757.7,411.5 764.5,415.4" fill="#aebcec" stroke="#2a2a31" stroke-width="1.7" stroke-linejoin="round" />
<polygon points="764.5,424 771.2,420.1 771.2,411.5 764.5,415.4" fill="#c2cef3" stroke="#2a2a31" stroke-width="1.7" stroke-linejoin="round" />
<polygon points="764.5,415.4 757.7,411.5 764.5,407.6 771.2,411.5" fill="#c2cef3" stroke="#2a2a31" stroke-width="1.7" stroke-linejoin="round" />
<polygon points="745.2,435.1 738.4,431.2 738.4,422.6 745.2,426.5" fill="#aebcec" stroke="#2a2a31" stroke-width="1.7" stroke-linejoin="round" />
<polygon points="745.2,435.1 752,431.2 752,422.6 745.2,426.5" fill="#c2cef3" stroke="#2a2a31" stroke-width="1.7" stroke-linejoin="round" />
<polygon points="745.2,426.5 738.4,422.6 745.2,418.7 752,422.6" fill="#c2cef3" stroke="#2a2a31" stroke-width="1.7" stroke-linejoin="round" />
<polygon points="745.2,426.5 699.9,400.3 699.9,397.5 745.2,423.7" fill="#dbd6d4" stroke="#2a2a31" stroke-width="1.7" stroke-linejoin="round" />
<polygon points="745.2,426.5 790.5,400.3 790.5,397.5 745.2,423.7" fill="#dbd6d4" stroke="#2a2a31" stroke-width="1.7" stroke-linejoin="round" />
<polygon points="745.2,423.7 699.9,397.5 745.2,371.4 790.5,397.5" fill="#dbd6d4" stroke="#2a2a31" stroke-width="1.7" stroke-linejoin="round" />
<polygon points="745.2,399.9 727.2,389.5 727.2,369.3 745.2,379.7" fill="#5b5b5c" stroke="#2a2a31" stroke-width="1.9" stroke-linejoin="round" />
<polygon points="745.2,399.9 763.2,389.5 763.2,369.3 745.2,379.7" fill="#a78d7a" stroke="#2a2a31" stroke-width="1.9" stroke-linejoin="round" />
<polygon points="745.2,379.7 727.2,369.3 745.2,358.9 763.2,369.3" fill="#cfc5bd" stroke="#2a2a31" stroke-width="1.9" stroke-linejoin="round" />
<polygon points="739.2,375.2 734.9,372.8 751.2,363.4 755.5,365.8" fill="#e6dfda"/>
<polygon points="745.2,379.7 727.2,369.3 745.2,358.9 763.2,369.3" fill="none" stroke="#2a2a31" stroke-width="1.9" stroke-linejoin="round" />
<line x1="736.2" y1="392.7" x2="736.2" y2="376.5" stroke="#c9404a" stroke-width="0.9" stroke-linecap="round" stroke-dasharray="0.8 3.4" opacity="0.8"/>
<polygon points="727.2,410.3 709.2,399.9 709.2,379.7 727.2,390.1" fill="#5b5b5c" stroke="#2a2a31" stroke-width="1.9" stroke-linejoin="round" />
<polygon points="727.2,410.3 745.2,399.9 745.2,379.7 727.2,390.1" fill="#a78d7a" stroke="#2a2a31" stroke-width="1.9" stroke-linejoin="round" />
<polygon points="727.2,390.1 709.2,379.7 727.2,369.3 745.2,379.7" fill="#cfc5bd" stroke="#2a2a31" stroke-width="1.9" stroke-linejoin="round" />
<polygon points="721.2,385.6 716.9,383.2 733.2,373.8 737.5,376.2" fill="#e6dfda"/>
<polygon points="727.2,390.1 709.2,379.7 727.2,369.3 745.2,379.7" fill="none" stroke="#2a2a31" stroke-width="1.9" stroke-linejoin="round" />
<line x1="718.2" y1="403.1" x2="718.2" y2="386.9" stroke="#c9404a" stroke-width="0.9" stroke-linecap="round" stroke-dasharray="0.8 3.4" opacity="0.8"/>
<polygon points="763.2,410.3 745.2,399.9 745.2,379.7 763.2,390.1" fill="#5b5b5c" stroke="#2a2a31" stroke-width="1.9" stroke-linejoin="round" />
<polygon points="763.2,410.3 781.2,399.9 781.2,379.7 763.2,390.1" fill="#a78d7a" stroke="#2a2a31" stroke-width="1.9" stroke-linejoin="round" />
<polygon points="763.2,390.1 745.2,379.7 763.2,369.3 781.2,379.7" fill="#cfc5bd" stroke="#2a2a31" stroke-width="1.9" stroke-linejoin="round" />
<polygon points="757.2,385.6 752.9,383.2 769.2,373.8 773.5,376.2" fill="#e6dfda"/>
<polygon points="763.2,390.1 745.2,379.7 763.2,369.3 781.2,379.7" fill="none" stroke="#2a2a31" stroke-width="1.9" stroke-linejoin="round" />
<line x1="754.2" y1="403.1" x2="754.2" y2="386.9" stroke="#c9404a" stroke-width="0.9" stroke-linecap="round" stroke-dasharray="0.8 3.4" opacity="0.8"/>
<polygon points="745.2,420.7 727.2,410.3 727.2,390.1 745.2,400.5" fill="#5b5b5c" stroke="#2a2a31" stroke-width="1.9" stroke-linejoin="round" />
<polygon points="745.2,420.7 763.2,410.3 763.2,390.1 745.2,400.5" fill="#a78d7a" stroke="#2a2a31" stroke-width="1.9" stroke-linejoin="round" />
<polygon points="745.2,400.5 727.2,390.1 745.2,379.7 763.2,390.1" fill="#cfc5bd" stroke="#2a2a31" stroke-width="1.9" stroke-linejoin="round" />
<polygon points="739.2,396 734.9,393.6 751.2,384.2 755.5,386.6" fill="#e6dfda"/>
<polygon points="745.2,400.5 727.2,390.1 745.2,379.7 763.2,390.1" fill="none" stroke="#2a2a31" stroke-width="1.9" stroke-linejoin="round" />
<line x1="736.2" y1="413.5" x2="736.2" y2="397.3" stroke="#c9404a" stroke-width="0.9" stroke-linecap="round" stroke-dasharray="0.8 3.4" opacity="0.8"/>
<polygon points="745.2,379.7 727.2,369.3 727.2,349.1 745.2,359.5" fill="#5b5b5c" stroke="#2a2a31" stroke-width="1.9" stroke-linejoin="round" />
<polygon points="745.2,379.7 763.2,369.3 763.2,349.1 745.2,359.5" fill="#a78d7a" stroke="#2a2a31" stroke-width="1.9" stroke-linejoin="round" />
<polygon points="745.2,359.5 727.2,349.1 745.2,338.7 763.2,349.1" fill="#cfc5bd" stroke="#2a2a31" stroke-width="1.9" stroke-linejoin="round" />
<polygon points="739.2,355 734.9,352.6 751.2,343.2 755.5,345.6" fill="#e6dfda"/>
<polygon points="745.2,359.5 727.2,349.1 745.2,338.7 763.2,349.1" fill="none" stroke="#2a2a31" stroke-width="1.9" stroke-linejoin="round" />
<line x1="736.2" y1="372.5" x2="736.2" y2="356.3" stroke="#c9404a" stroke-width="0.9" stroke-linecap="round" stroke-dasharray="0.8 3.4" opacity="0.8"/>
<polygon points="727.2,390.1 709.2,379.7 709.2,359.5 727.2,369.9" fill="#5b5b5c" stroke="#2a2a31" stroke-width="1.9" stroke-linejoin="round" />
<polygon points="727.2,390.1 745.2,379.7 745.2,359.5 727.2,369.9" fill="#a78d7a" stroke="#2a2a31" stroke-width="1.9" stroke-linejoin="round" />
<polygon points="727.2,369.9 709.2,359.5 727.2,349.1 745.2,359.5" fill="#cfc5bd" stroke="#2a2a31" stroke-width="1.9" stroke-linejoin="round" />
<polygon points="721.2,365.4 716.9,363 733.2,353.6 737.5,356" fill="#e6dfda"/>
<polygon points="727.2,369.9 709.2,359.5 727.2,349.1 745.2,359.5" fill="none" stroke="#2a2a31" stroke-width="1.9" stroke-linejoin="round" />
<line x1="718.2" y1="382.9" x2="718.2" y2="366.7" stroke="#c9404a" stroke-width="0.9" stroke-linecap="round" stroke-dasharray="0.8 3.4" opacity="0.8"/>
<polygon points="763.2,390.1 745.2,379.7 745.2,359.5 763.2,369.9" fill="#5b5b5c" stroke="#2a2a31" stroke-width="1.9" stroke-linejoin="round" />
<polygon points="763.2,390.1 781.2,379.7 781.2,359.5 763.2,369.9" fill="#a78d7a" stroke="#2a2a31" stroke-width="1.9" stroke-linejoin="round" />
<polygon points="763.2,369.9 745.2,359.5 763.2,349.1 781.2,359.5" fill="#cfc5bd" stroke="#2a2a31" stroke-width="1.9" stroke-linejoin="round" />
<polygon points="757.2,365.4 752.9,363 769.2,353.6 773.5,356" fill="#e6dfda"/>
<polygon points="763.2,369.9 745.2,359.5 763.2,349.1 781.2,359.5" fill="none" stroke="#2a2a31" stroke-width="1.9" stroke-linejoin="round" />
<line x1="754.2" y1="382.9" x2="754.2" y2="366.7" stroke="#c9404a" stroke-width="0.9" stroke-linecap="round" stroke-dasharray="0.8 3.4" opacity="0.8"/>
<polygon points="745.2,400.5 727.2,390.1 727.2,369.9 745.2,380.3" fill="#5b5b5c" stroke="#2a2a31" stroke-width="1.9" stroke-linejoin="round" />
<polygon points="745.2,400.5 763.2,390.1 763.2,369.9 745.2,380.3" fill="#a78d7a" stroke="#2a2a31" stroke-width="1.9" stroke-linejoin="round" />
<polygon points="745.2,380.3 727.2,369.9 745.2,359.5 763.2,369.9" fill="#cfc5bd" stroke="#2a2a31" stroke-width="1.9" stroke-linejoin="round" />
<polygon points="739.2,375.8 734.9,373.4 751.2,364 755.5,366.4" fill="#e6dfda"/>
<polygon points="745.2,380.3 727.2,369.9 745.2,359.5 763.2,369.9" fill="none" stroke="#2a2a31" stroke-width="1.9" stroke-linejoin="round" />
<line x1="736.2" y1="393.3" x2="736.2" y2="377.1" stroke="#c9404a" stroke-width="0.9" stroke-linecap="round" stroke-dasharray="0.8 3.4" opacity="0.8"/>
<polygon points="645.8,497.6 639,493.8 639,485.1 645.8,489" fill="#aebcec" stroke="#2a2a31" stroke-width="1.7" stroke-linejoin="round" />
<polygon points="645.8,497.6 652.5,493.8 652.5,485.1 645.8,489" fill="#c2cef3" stroke="#2a2a31" stroke-width="1.7" stroke-linejoin="round" />
<polygon points="645.8,489 639,485.1 645.8,481.2 652.5,485.1" fill="#c2cef3" stroke="#2a2a31" stroke-width="1.7" stroke-linejoin="round" />
<polygon points="665,508.8 658.3,504.9 658.3,496.3 665,500.2" fill="#aebcec" stroke="#2a2a31" stroke-width="1.7" stroke-linejoin="round" />
<polygon points="665,508.8 671.8,504.9 671.8,496.3 665,500.2" fill="#c2cef3" stroke="#2a2a31" stroke-width="1.7" stroke-linejoin="round" />
<polygon points="665,500.2 658.3,496.3 665,492.4 671.8,496.3" fill="#c2cef3" stroke="#2a2a31" stroke-width="1.7" stroke-linejoin="round" />
<polygon points="722.8,497.6 716.1,493.8 716.1,485.1 722.8,489" fill="#aebcec" stroke="#2a2a31" stroke-width="1.7" stroke-linejoin="round" />
<polygon points="722.8,497.6 729.6,493.8 729.6,485.1 722.8,489" fill="#c2cef3" stroke="#2a2a31" stroke-width="1.7" stroke-linejoin="round" />
<polygon points="722.8,489 716.1,485.1 722.8,481.2 729.6,485.1" fill="#c2cef3" stroke="#2a2a31" stroke-width="1.7" stroke-linejoin="round" />
<polygon points="703.6,508.8 696.8,504.9 696.8,496.3 703.6,500.2" fill="#aebcec" stroke="#2a2a31" stroke-width="1.7" stroke-linejoin="round" />
<polygon points="703.6,508.8 710.3,504.9 710.3,496.3 703.6,500.2" fill="#c2cef3" stroke="#2a2a31" stroke-width="1.7" stroke-linejoin="round" />
<polygon points="703.6,500.2 696.8,496.3 703.6,492.4 710.3,496.3" fill="#c2cef3" stroke="#2a2a31" stroke-width="1.7" stroke-linejoin="round" />
<polygon points="684.3,519.9 677.5,516 677.5,507.4 684.3,511.3" fill="#aebcec" stroke="#2a2a31" stroke-width="1.7" stroke-linejoin="round" />
<polygon points="684.3,519.9 691.1,516 691.1,507.4 684.3,511.3" fill="#c2cef3" stroke="#2a2a31" stroke-width="1.7" stroke-linejoin="round" />
<polygon points="684.3,511.3 677.5,507.4 684.3,503.5 691.1,507.4" fill="#c2cef3" stroke="#2a2a31" stroke-width="1.7" stroke-linejoin="round" />
<polygon points="684.3,511.3 639,485.1 639,482.3 684.3,508.5" fill="#dbd6d4" stroke="#2a2a31" stroke-width="1.7" stroke-linejoin="round" />
<polygon points="684.3,511.3 729.6,485.1 729.6,482.3 684.3,508.5" fill="#dbd6d4" stroke="#2a2a31" stroke-width="1.7" stroke-linejoin="round" />
<polygon points="684.3,508.5 639,482.3 684.3,456.2 729.6,482.3" fill="#dbd6d4" stroke="#2a2a31" stroke-width="1.7" stroke-linejoin="round" />
<polygon points="684.3,484.7 666.3,474.3 666.3,454.1 684.3,464.5" fill="#5b5b5c" stroke="#2a2a31" stroke-width="1.9" stroke-linejoin="round" />
<polygon points="684.3,484.7 702.3,474.3 702.3,454.1 684.3,464.5" fill="#a78d7a" stroke="#2a2a31" stroke-width="1.9" stroke-linejoin="round" />
<polygon points="684.3,464.5 666.3,454.1 684.3,443.7 702.3,454.1" fill="#cfc5bd" stroke="#2a2a31" stroke-width="1.9" stroke-linejoin="round" />
<polygon points="678.3,460 674,457.6 690.3,448.2 694.6,450.6" fill="#e6dfda"/>
<polygon points="684.3,464.5 666.3,454.1 684.3,443.7 702.3,454.1" fill="none" stroke="#2a2a31" stroke-width="1.9" stroke-linejoin="round" />
<line x1="675.3" y1="477.5" x2="675.3" y2="461.3" stroke="#c9404a" stroke-width="0.9" stroke-linecap="round" stroke-dasharray="0.8 3.4" opacity="0.8"/>
<polygon points="666.3,495.1 648.3,484.7 648.3,464.5 666.3,474.9" fill="#5b5b5c" stroke="#2a2a31" stroke-width="1.9" stroke-linejoin="round" />
<polygon points="666.3,495.1 684.3,484.7 684.3,464.5 666.3,474.9" fill="#a78d7a" stroke="#2a2a31" stroke-width="1.9" stroke-linejoin="round" />
<polygon points="666.3,474.9 648.3,464.5 666.3,454.1 684.3,464.5" fill="#cfc5bd" stroke="#2a2a31" stroke-width="1.9" stroke-linejoin="round" />
<polygon points="660.3,470.4 656,468 672.3,458.6 676.6,461" fill="#e6dfda"/>
<polygon points="666.3,474.9 648.3,464.5 666.3,454.1 684.3,464.5" fill="none" stroke="#2a2a31" stroke-width="1.9" stroke-linejoin="round" />
<line x1="657.3" y1="487.9" x2="657.3" y2="471.7" stroke="#c9404a" stroke-width="0.9" stroke-linecap="round" stroke-dasharray="0.8 3.4" opacity="0.8"/>
<polygon points="702.3,495.1 684.3,484.7 684.3,464.5 702.3,474.9" fill="#5b5b5c" stroke="#2a2a31" stroke-width="1.9" stroke-linejoin="round" />
<polygon points="702.3,495.1 720.3,484.7 720.3,464.5 702.3,474.9" fill="#a78d7a" stroke="#2a2a31" stroke-width="1.9" stroke-linejoin="round" />
<polygon points="702.3,474.9 684.3,464.5 702.3,454.1 720.3,464.5" fill="#cfc5bd" stroke="#2a2a31" stroke-width="1.9" stroke-linejoin="round" />
<polygon points="696.3,470.4 692,468 708.3,458.6 712.6,461" fill="#e6dfda"/>
<polygon points="702.3,474.9 684.3,464.5 702.3,454.1 720.3,464.5" fill="none" stroke="#2a2a31" stroke-width="1.9" stroke-linejoin="round" />
<line x1="693.3" y1="487.9" x2="693.3" y2="471.7" stroke="#c9404a" stroke-width="0.9" stroke-linecap="round" stroke-dasharray="0.8 3.4" opacity="0.8"/>
<polygon points="684.3,505.5 666.3,495.1 666.3,474.9 684.3,485.3" fill="#5b5b5c" stroke="#2a2a31" stroke-width="1.9" stroke-linejoin="round" />
<polygon points="684.3,505.5 702.3,495.1 702.3,474.9 684.3,485.3" fill="#a78d7a" stroke="#2a2a31" stroke-width="1.9" stroke-linejoin="round" />
<polygon points="684.3,485.3 666.3,474.9 684.3,464.5 702.3,474.9" fill="#cfc5bd" stroke="#2a2a31" stroke-width="1.9" stroke-linejoin="round" />
<polygon points="678.3,480.8 674,478.4 690.3,469 694.6,471.4" fill="#e6dfda"/>
<polygon points="684.3,485.3 666.3,474.9 684.3,464.5 702.3,474.9" fill="none" stroke="#2a2a31" stroke-width="1.9" stroke-linejoin="round" />
<line x1="675.3" y1="498.3" x2="675.3" y2="482.1" stroke="#c9404a" stroke-width="0.9" stroke-linecap="round" stroke-dasharray="0.8 3.4" opacity="0.8"/>
<polygon points="684.3,464.5 666.3,454.1 666.3,433.9 684.3,444.3" fill="#5b5b5c" stroke="#2a2a31" stroke-width="1.9" stroke-linejoin="round" />
<polygon points="684.3,464.5 702.3,454.1 702.3,433.9 684.3,444.3" fill="#a78d7a" stroke="#2a2a31" stroke-width="1.9" stroke-linejoin="round" />
<polygon points="684.3,444.3 666.3,433.9 684.3,423.5 702.3,433.9" fill="#cfc5bd" stroke="#2a2a31" stroke-width="1.9" stroke-linejoin="round" />
<polygon points="678.3,439.8 674,437.4 690.3,428 694.6,430.4" fill="#e6dfda"/>
<polygon points="684.3,444.3 666.3,433.9 684.3,423.5 702.3,433.9" fill="none" stroke="#2a2a31" stroke-width="1.9" stroke-linejoin="round" />
<line x1="675.3" y1="457.3" x2="675.3" y2="441.1" stroke="#c9404a" stroke-width="0.9" stroke-linecap="round" stroke-dasharray="0.8 3.4" opacity="0.8"/>
<polygon points="666.3,474.9 648.3,464.5 648.3,444.3 666.3,454.7" fill="#5b5b5c" stroke="#2a2a31" stroke-width="1.9" stroke-linejoin="round" />
<polygon points="666.3,474.9 684.3,464.5 684.3,444.3 666.3,454.7" fill="#a78d7a" stroke="#2a2a31" stroke-width="1.9" stroke-linejoin="round" />
<polygon points="666.3,454.7 648.3,444.3 666.3,433.9 684.3,444.3" fill="#cfc5bd" stroke="#2a2a31" stroke-width="1.9" stroke-linejoin="round" />
<polygon points="660.3,450.2 656,447.8 672.3,438.4 676.6,440.8" fill="#e6dfda"/>
<polygon points="666.3,454.7 648.3,444.3 666.3,433.9 684.3,444.3" fill="none" stroke="#2a2a31" stroke-width="1.9" stroke-linejoin="round" />
<line x1="657.3" y1="467.7" x2="657.3" y2="451.5" stroke="#c9404a" stroke-width="0.9" stroke-linecap="round" stroke-dasharray="0.8 3.4" opacity="0.8"/>
<polygon points="702.3,474.9 684.3,464.5 684.3,444.3 702.3,454.7" fill="#5b5b5c" stroke="#2a2a31" stroke-width="1.9" stroke-linejoin="round" />
<polygon points="702.3,474.9 720.3,464.5 720.3,444.3 702.3,454.7" fill="#a78d7a" stroke="#2a2a31" stroke-width="1.9" stroke-linejoin="round" />
<polygon points="702.3,454.7 684.3,444.3 702.3,433.9 720.3,444.3" fill="#cfc5bd" stroke="#2a2a31" stroke-width="1.9" stroke-linejoin="round" />
<polygon points="696.3,450.2 692,447.8 708.3,438.4 712.6,440.8" fill="#e6dfda"/>
<polygon points="702.3,454.7 684.3,444.3 702.3,433.9 720.3,444.3" fill="none" stroke="#2a2a31" stroke-width="1.9" stroke-linejoin="round" />
<line x1="693.3" y1="467.7" x2="693.3" y2="451.5" stroke="#c9404a" stroke-width="0.9" stroke-linecap="round" stroke-dasharray="0.8 3.4" opacity="0.8"/>
<polygon points="684.3,485.3 666.3,474.9 666.3,454.7 684.3,465.1" fill="#5b5b5c" stroke="#2a2a31" stroke-width="1.9" stroke-linejoin="round" />
<polygon points="684.3,485.3 702.3,474.9 702.3,454.7 684.3,465.1" fill="#a78d7a" stroke="#2a2a31" stroke-width="1.9" stroke-linejoin="round" />
<polygon points="684.3,465.1 666.3,454.7 684.3,444.3 702.3,454.7" fill="#cfc5bd" stroke="#2a2a31" stroke-width="1.9" stroke-linejoin="round" />
<polygon points="678.3,460.6 674,458.2 690.3,448.8 694.6,451.2" fill="#e6dfda"/>
<polygon points="684.3,465.1 666.3,454.7 684.3,444.3 702.3,454.7" fill="none" stroke="#2a2a31" stroke-width="1.9" stroke-linejoin="round" />
<line x1="675.3" y1="478.1" x2="675.3" y2="461.9" stroke="#c9404a" stroke-width="0.9" stroke-linecap="round" stroke-dasharray="0.8 3.4" opacity="0.8"/>
<polygon points="645.8,445.8 639,441.9 639,433.3 645.8,437.2" fill="#aebcec" stroke="#2a2a31" stroke-width="1.7" stroke-linejoin="round" />
<polygon points="645.8,445.8 652.5,441.9 652.5,433.3 645.8,437.2" fill="#c2cef3" stroke="#2a2a31" stroke-width="1.7" stroke-linejoin="round" />
<polygon points="645.8,437.2 639,433.3 645.8,429.4 652.5,433.3" fill="#c2cef3" stroke="#2a2a31" stroke-width="1.7" stroke-linejoin="round" />
<polygon points="665,457 658.3,453.1 658.3,444.5 665,448.4" fill="#aebcec" stroke="#2a2a31" stroke-width="1.7" stroke-linejoin="round" />
<polygon points="665,457 671.8,453.1 671.8,444.5 665,448.4" fill="#c2cef3" stroke="#2a2a31" stroke-width="1.7" stroke-linejoin="round" />
<polygon points="665,448.4 658.3,444.5 665,440.6 671.8,444.5" fill="#c2cef3" stroke="#2a2a31" stroke-width="1.7" stroke-linejoin="round" />
<polygon points="722.8,445.8 716.1,441.9 716.1,433.3 722.8,437.2" fill="#aebcec" stroke="#2a2a31" stroke-width="1.7" stroke-linejoin="round" />
<polygon points="722.8,445.8 729.6,441.9 729.6,433.3 722.8,437.2" fill="#c2cef3" stroke="#2a2a31" stroke-width="1.7" stroke-linejoin="round" />
<polygon points="722.8,437.2 716.1,433.3 722.8,429.4 729.6,433.3" fill="#c2cef3" stroke="#2a2a31" stroke-width="1.7" stroke-linejoin="round" />
<polygon points="703.6,457 696.8,453.1 696.8,444.5 703.6,448.4" fill="#aebcec" stroke="#2a2a31" stroke-width="1.7" stroke-linejoin="round" />
<polygon points="703.6,457 710.3,453.1 710.3,444.5 703.6,448.4" fill="#c2cef3" stroke="#2a2a31" stroke-width="1.7" stroke-linejoin="round" />
<polygon points="703.6,448.4 696.8,444.5 703.6,440.6 710.3,444.5" fill="#c2cef3" stroke="#2a2a31" stroke-width="1.7" stroke-linejoin="round" />
<polygon points="684.3,468.1 677.5,464.2 677.5,455.6 684.3,459.5" fill="#aebcec" stroke="#2a2a31" stroke-width="1.7" stroke-linejoin="round" />
<polygon points="684.3,468.1 691.1,464.2 691.1,455.6 684.3,459.5" fill="#c2cef3" stroke="#2a2a31" stroke-width="1.7" stroke-linejoin="round" />
<polygon points="684.3,459.5 677.5,455.6 684.3,451.7 691.1,455.6" fill="#c2cef3" stroke="#2a2a31" stroke-width="1.7" stroke-linejoin="round" />
<polygon points="684.3,459.5 639,433.3 639,430.5 684.3,456.7" fill="#dbd6d4" stroke="#2a2a31" stroke-width="1.7" stroke-linejoin="round" />
<polygon points="684.3,459.5 729.6,433.3 729.6,430.5 684.3,456.7" fill="#dbd6d4" stroke="#2a2a31" stroke-width="1.7" stroke-linejoin="round" />
<polygon points="684.3,456.7 639,430.5 684.3,404.4 729.6,430.5" fill="#dbd6d4" stroke="#2a2a31" stroke-width="1.7" stroke-linejoin="round" />
<polygon points="684.3,432.9 666.3,422.5 666.3,402.3 684.3,412.7" fill="#5b5b5c" stroke="#2a2a31" stroke-width="1.9" stroke-linejoin="round" />
<polygon points="684.3,432.9 702.3,422.5 702.3,402.3 684.3,412.7" fill="#a78d7a" stroke="#2a2a31" stroke-width="1.9" stroke-linejoin="round" />
<polygon points="684.3,412.7 666.3,402.3 684.3,391.9 702.3,402.3" fill="#cfc5bd" stroke="#2a2a31" stroke-width="1.9" stroke-linejoin="round" />
<polygon points="678.3,408.2 674,405.8 690.3,396.4 694.6,398.8" fill="#e6dfda"/>
<polygon points="684.3,412.7 666.3,402.3 684.3,391.9 702.3,402.3" fill="none" stroke="#2a2a31" stroke-width="1.9" stroke-linejoin="round" />
<line x1="675.3" y1="425.7" x2="675.3" y2="409.5" stroke="#c9404a" stroke-width="0.9" stroke-linecap="round" stroke-dasharray="0.8 3.4" opacity="0.8"/>
<polygon points="666.3,443.3 648.3,432.9 648.3,412.7 666.3,423.1" fill="#5b5b5c" stroke="#2a2a31" stroke-width="1.9" stroke-linejoin="round" />
<polygon points="666.3,443.3 684.3,432.9 684.3,412.7 666.3,423.1" fill="#a78d7a" stroke="#2a2a31" stroke-width="1.9" stroke-linejoin="round" />
<polygon points="666.3,423.1 648.3,412.7 666.3,402.3 684.3,412.7" fill="#cfc5bd" stroke="#2a2a31" stroke-width="1.9" stroke-linejoin="round" />
<polygon points="660.3,418.6 656,416.2 672.3,406.8 676.6,409.2" fill="#e6dfda"/>
<polygon points="666.3,423.1 648.3,412.7 666.3,402.3 684.3,412.7" fill="none" stroke="#2a2a31" stroke-width="1.9" stroke-linejoin="round" />
<line x1="657.3" y1="436.1" x2="657.3" y2="419.9" stroke="#c9404a" stroke-width="0.9" stroke-linecap="round" stroke-dasharray="0.8 3.4" opacity="0.8"/>
<polygon points="702.3,443.3 684.3,432.9 684.3,412.7 702.3,423.1" fill="#5b5b5c" stroke="#2a2a31" stroke-width="1.9" stroke-linejoin="round" />
<polygon points="702.3,443.3 720.3,432.9 720.3,412.7 702.3,423.1" fill="#a78d7a" stroke="#2a2a31" stroke-width="1.9" stroke-linejoin="round" />
<polygon points="702.3,423.1 684.3,412.7 702.3,402.3 720.3,412.7" fill="#cfc5bd" stroke="#2a2a31" stroke-width="1.9" stroke-linejoin="round" />
<polygon points="696.3,418.6 692,416.2 708.3,406.8 712.6,409.2" fill="#e6dfda"/>
<polygon points="702.3,423.1 684.3,412.7 702.3,402.3 720.3,412.7" fill="none" stroke="#2a2a31" stroke-width="1.9" stroke-linejoin="round" />
<line x1="693.3" y1="436.1" x2="693.3" y2="419.9" stroke="#c9404a" stroke-width="0.9" stroke-linecap="round" stroke-dasharray="0.8 3.4" opacity="0.8"/>
<polygon points="684.3,453.7 666.3,443.3 666.3,423.1 684.3,433.5" fill="#5b5b5c" stroke="#2a2a31" stroke-width="1.9" stroke-linejoin="round" />
<polygon points="684.3,453.7 702.3,443.3 702.3,423.1 684.3,433.5" fill="#a78d7a" stroke="#2a2a31" stroke-width="1.9" stroke-linejoin="round" />
<polygon points="684.3,433.5 666.3,423.1 684.3,412.7 702.3,423.1" fill="#cfc5bd" stroke="#2a2a31" stroke-width="1.9" stroke-linejoin="round" />
<polygon points="678.3,429 674,426.6 690.3,417.2 694.6,419.6" fill="#e6dfda"/>
<polygon points="684.3,433.5 666.3,423.1 684.3,412.7 702.3,423.1" fill="none" stroke="#2a2a31" stroke-width="1.9" stroke-linejoin="round" />
<line x1="675.3" y1="446.5" x2="675.3" y2="430.3" stroke="#c9404a" stroke-width="0.9" stroke-linecap="round" stroke-dasharray="0.8 3.4" opacity="0.8"/>
<polygon points="684.3,412.7 666.3,402.3 666.3,382.1 684.3,392.5" fill="#5b5b5c" stroke="#2a2a31" stroke-width="1.9" stroke-linejoin="round" />
<polygon points="684.3,412.7 702.3,402.3 702.3,382.1 684.3,392.5" fill="#a78d7a" stroke="#2a2a31" stroke-width="1.9" stroke-linejoin="round" />
<polygon points="684.3,392.5 666.3,382.1 684.3,371.7 702.3,382.1" fill="#cfc5bd" stroke="#2a2a31" stroke-width="1.9" stroke-linejoin="round" />
<polygon points="678.3,388 674,385.6 690.3,376.2 694.6,378.6" fill="#e6dfda"/>
<polygon points="684.3,392.5 666.3,382.1 684.3,371.7 702.3,382.1" fill="none" stroke="#2a2a31" stroke-width="1.9" stroke-linejoin="round" />
<line x1="675.3" y1="405.5" x2="675.3" y2="389.3" stroke="#c9404a" stroke-width="0.9" stroke-linecap="round" stroke-dasharray="0.8 3.4" opacity="0.8"/>
<polygon points="666.3,423.1 648.3,412.7 648.3,392.5 666.3,402.9" fill="#5b5b5c" stroke="#2a2a31" stroke-width="1.9" stroke-linejoin="round" />
<polygon points="666.3,423.1 684.3,412.7 684.3,392.5 666.3,402.9" fill="#a78d7a" stroke="#2a2a31" stroke-width="1.9" stroke-linejoin="round" />
<polygon points="666.3,402.9 648.3,392.5 666.3,382.1 684.3,392.5" fill="#cfc5bd" stroke="#2a2a31" stroke-width="1.9" stroke-linejoin="round" />
<polygon points="660.3,398.4 656,396 672.3,386.6 676.6,389" fill="#e6dfda"/>
<polygon points="666.3,402.9 648.3,392.5 666.3,382.1 684.3,392.5" fill="none" stroke="#2a2a31" stroke-width="1.9" stroke-linejoin="round" />
<line x1="657.3" y1="415.9" x2="657.3" y2="399.7" stroke="#c9404a" stroke-width="0.9" stroke-linecap="round" stroke-dasharray="0.8 3.4" opacity="0.8"/>
<polygon points="702.3,423.1 684.3,412.7 684.3,392.5 702.3,402.9" fill="#5b5b5c" stroke="#2a2a31" stroke-width="1.9" stroke-linejoin="round" />
<polygon points="702.3,423.1 720.3,412.7 720.3,392.5 702.3,402.9" fill="#a78d7a" stroke="#2a2a31" stroke-width="1.9" stroke-linejoin="round" />
<polygon points="702.3,402.9 684.3,392.5 702.3,382.1 720.3,392.5" fill="#cfc5bd" stroke="#2a2a31" stroke-width="1.9" stroke-linejoin="round" />
<polygon points="696.3,398.4 692,396 708.3,386.6 712.6,389" fill="#e6dfda"/>
<polygon points="702.3,402.9 684.3,392.5 702.3,382.1 720.3,392.5" fill="none" stroke="#2a2a31" stroke-width="1.9" stroke-linejoin="round" />
<line x1="693.3" y1="415.9" x2="693.3" y2="399.7" stroke="#c9404a" stroke-width="0.9" stroke-linecap="round" stroke-dasharray="0.8 3.4" opacity="0.8"/>
<polygon points="684.3,433.5 666.3,423.1 666.3,402.9 684.3,413.3" fill="#5b5b5c" stroke="#2a2a31" stroke-width="1.9" stroke-linejoin="round" />
<polygon points="684.3,433.5 702.3,423.1 702.3,402.9 684.3,413.3" fill="#a78d7a" stroke="#2a2a31" stroke-width="1.9" stroke-linejoin="round" />
<polygon points="684.3,413.3 666.3,402.9 684.3,392.5 702.3,402.9" fill="#cfc5bd" stroke="#2a2a31" stroke-width="1.9" stroke-linejoin="round" />
<polygon points="678.3,408.8 674,406.4 690.3,397 694.6,399.4" fill="#e6dfda"/>
<polygon points="684.3,413.3 666.3,402.9 684.3,392.5 702.3,402.9" fill="none" stroke="#2a2a31" stroke-width="1.9" stroke-linejoin="round" />
<line x1="675.3" y1="426.3" x2="675.3" y2="410.1" stroke="#c9404a" stroke-width="0.9" stroke-linecap="round" stroke-dasharray="0.8 3.4" opacity="0.8"/>
<polygon points="760.4,497.6 753.6,493.8 753.6,485.1 760.4,489" fill="#aebcec" stroke="#2a2a31" stroke-width="1.7" stroke-linejoin="round" />
<polygon points="760.4,497.6 767.1,493.8 767.1,485.1 760.4,489" fill="#c2cef3" stroke="#2a2a31" stroke-width="1.7" stroke-linejoin="round" />
<polygon points="760.4,489 753.6,485.1 760.4,481.2 767.1,485.1" fill="#c2cef3" stroke="#2a2a31" stroke-width="1.7" stroke-linejoin="round" />
<polygon points="779.6,508.8 772.9,504.9 772.9,496.3 779.6,500.2" fill="#aebcec" stroke="#2a2a31" stroke-width="1.7" stroke-linejoin="round" />
<polygon points="779.6,508.8 786.4,504.9 786.4,496.3 779.6,500.2" fill="#c2cef3" stroke="#2a2a31" stroke-width="1.7" stroke-linejoin="round" />
<polygon points="779.6,500.2 772.9,496.3 779.6,492.4 786.4,496.3" fill="#c2cef3" stroke="#2a2a31" stroke-width="1.7" stroke-linejoin="round" />
<polygon points="837.4,497.6 830.7,493.8 830.7,485.1 837.4,489" fill="#aebcec" stroke="#2a2a31" stroke-width="1.7" stroke-linejoin="round" />
<polygon points="837.4,497.6 844.2,493.8 844.2,485.1 837.4,489" fill="#c2cef3" stroke="#2a2a31" stroke-width="1.7" stroke-linejoin="round" />
<polygon points="837.4,489 830.7,485.1 837.4,481.2 844.2,485.1" fill="#c2cef3" stroke="#2a2a31" stroke-width="1.7" stroke-linejoin="round" />
<polygon points="818.2,508.8 811.4,504.9 811.4,496.3 818.2,500.2" fill="#aebcec" stroke="#2a2a31" stroke-width="1.7" stroke-linejoin="round" />
<polygon points="818.2,508.8 824.9,504.9 824.9,496.3 818.2,500.2" fill="#c2cef3" stroke="#2a2a31" stroke-width="1.7" stroke-linejoin="round" />
<polygon points="818.2,500.2 811.4,496.3 818.2,492.4 824.9,496.3" fill="#c2cef3" stroke="#2a2a31" stroke-width="1.7" stroke-linejoin="round" />
<polygon points="798.9,519.9 792.1,516 792.1,507.4 798.9,511.3" fill="#aebcec" stroke="#2a2a31" stroke-width="1.7" stroke-linejoin="round" />
<polygon points="798.9,519.9 805.7,516 805.7,507.4 798.9,511.3" fill="#c2cef3" stroke="#2a2a31" stroke-width="1.7" stroke-linejoin="round" />
<polygon points="798.9,511.3 792.1,507.4 798.9,503.5 805.7,507.4" fill="#c2cef3" stroke="#2a2a31" stroke-width="1.7" stroke-linejoin="round" />
<polygon points="798.9,511.3 753.6,485.1 753.6,482.3 798.9,508.5" fill="#dbd6d4" stroke="#2a2a31" stroke-width="1.7" stroke-linejoin="round" />
<polygon points="798.9,511.3 844.2,485.1 844.2,482.3 798.9,508.5" fill="#dbd6d4" stroke="#2a2a31" stroke-width="1.7" stroke-linejoin="round" />
<polygon points="798.9,508.5 753.6,482.3 798.9,456.2 844.2,482.3" fill="#dbd6d4" stroke="#2a2a31" stroke-width="1.7" stroke-linejoin="round" />
<polygon points="798.9,484.7 780.9,474.3 780.9,454.1 798.9,464.5" fill="#5b5b5c" stroke="#2a2a31" stroke-width="1.9" stroke-linejoin="round" />
<polygon points="798.9,484.7 816.9,474.3 816.9,454.1 798.9,464.5" fill="#a78d7a" stroke="#2a2a31" stroke-width="1.9" stroke-linejoin="round" />
<polygon points="798.9,464.5 780.9,454.1 798.9,443.7 816.9,454.1" fill="#cfc5bd" stroke="#2a2a31" stroke-width="1.9" stroke-linejoin="round" />
<polygon points="792.9,460 788.6,457.6 804.9,448.2 809.2,450.6" fill="#e6dfda"/>
<polygon points="798.9,464.5 780.9,454.1 798.9,443.7 816.9,454.1" fill="none" stroke="#2a2a31" stroke-width="1.9" stroke-linejoin="round" />
<line x1="789.9" y1="477.5" x2="789.9" y2="461.3" stroke="#c9404a" stroke-width="0.9" stroke-linecap="round" stroke-dasharray="0.8 3.4" opacity="0.8"/>
<polygon points="780.9,495.1 762.9,484.7 762.9,464.5 780.9,474.9" fill="#5b5b5c" stroke="#2a2a31" stroke-width="1.9" stroke-linejoin="round" />
<polygon points="780.9,495.1 798.9,484.7 798.9,464.5 780.9,474.9" fill="#a78d7a" stroke="#2a2a31" stroke-width="1.9" stroke-linejoin="round" />
<polygon points="780.9,474.9 762.9,464.5 780.9,454.1 798.9,464.5" fill="#cfc5bd" stroke="#2a2a31" stroke-width="1.9" stroke-linejoin="round" />
<polygon points="774.9,470.4 770.6,468 786.9,458.6 791.2,461" fill="#e6dfda"/>
<polygon points="780.9,474.9 762.9,464.5 780.9,454.1 798.9,464.5" fill="none" stroke="#2a2a31" stroke-width="1.9" stroke-linejoin="round" />
<line x1="771.9" y1="487.9" x2="771.9" y2="471.7" stroke="#c9404a" stroke-width="0.9" stroke-linecap="round" stroke-dasharray="0.8 3.4" opacity="0.8"/>
<polygon points="816.9,495.1 798.9,484.7 798.9,464.5 816.9,474.9" fill="#5b5b5c" stroke="#2a2a31" stroke-width="1.9" stroke-linejoin="round" />
<polygon points="816.9,495.1 834.9,484.7 834.9,464.5 816.9,474.9" fill="#a78d7a" stroke="#2a2a31" stroke-width="1.9" stroke-linejoin="round" />
<polygon points="816.9,474.9 798.9,464.5 816.9,454.1 834.9,464.5" fill="#cfc5bd" stroke="#2a2a31" stroke-width="1.9" stroke-linejoin="round" />
<polygon points="810.9,470.4 806.6,468 822.9,458.6 827.2,461" fill="#e6dfda"/>
<polygon points="816.9,474.9 798.9,464.5 816.9,454.1 834.9,464.5" fill="none" stroke="#2a2a31" stroke-width="1.9" stroke-linejoin="round" />
<line x1="807.9" y1="487.9" x2="807.9" y2="471.7" stroke="#c9404a" stroke-width="0.9" stroke-linecap="round" stroke-dasharray="0.8 3.4" opacity="0.8"/>
<polygon points="798.9,505.5 780.9,495.1 780.9,474.9 798.9,485.3" fill="#5b5b5c" stroke="#2a2a31" stroke-width="1.9" stroke-linejoin="round" />
<polygon points="798.9,505.5 816.9,495.1 816.9,474.9 798.9,485.3" fill="#a78d7a" stroke="#2a2a31" stroke-width="1.9" stroke-linejoin="round" />
<polygon points="798.9,485.3 780.9,474.9 798.9,464.5 816.9,474.9" fill="#cfc5bd" stroke="#2a2a31" stroke-width="1.9" stroke-linejoin="round" />
<polygon points="792.9,480.8 788.6,478.4 804.9,469 809.2,471.4" fill="#e6dfda"/>
<polygon points="798.9,485.3 780.9,474.9 798.9,464.5 816.9,474.9" fill="none" stroke="#2a2a31" stroke-width="1.9" stroke-linejoin="round" />
<line x1="789.9" y1="498.3" x2="789.9" y2="482.1" stroke="#c9404a" stroke-width="0.9" stroke-linecap="round" stroke-dasharray="0.8 3.4" opacity="0.8"/>
<polygon points="798.9,464.5 780.9,454.1 780.9,433.9 798.9,444.3" fill="#5b5b5c" stroke="#2a2a31" stroke-width="1.9" stroke-linejoin="round" />
<polygon points="798.9,464.5 816.9,454.1 816.9,433.9 798.9,444.3" fill="#a78d7a" stroke="#2a2a31" stroke-width="1.9" stroke-linejoin="round" />
<polygon points="798.9,444.3 780.9,433.9 798.9,423.5 816.9,433.9" fill="#cfc5bd" stroke="#2a2a31" stroke-width="1.9" stroke-linejoin="round" />
<polygon points="792.9,439.8 788.6,437.4 804.9,428 809.2,430.4" fill="#e6dfda"/>
<polygon points="798.9,444.3 780.9,433.9 798.9,423.5 816.9,433.9" fill="none" stroke="#2a2a31" stroke-width="1.9" stroke-linejoin="round" />
<line x1="789.9" y1="457.3" x2="789.9" y2="441.1" stroke="#c9404a" stroke-width="0.9" stroke-linecap="round" stroke-dasharray="0.8 3.4" opacity="0.8"/>
<polygon points="780.9,474.9 762.9,464.5 762.9,444.3 780.9,454.7" fill="#5b5b5c" stroke="#2a2a31" stroke-width="1.9" stroke-linejoin="round" />
<polygon points="780.9,474.9 798.9,464.5 798.9,444.3 780.9,454.7" fill="#a78d7a" stroke="#2a2a31" stroke-width="1.9" stroke-linejoin="round" />
<polygon points="780.9,454.7 762.9,444.3 780.9,433.9 798.9,444.3" fill="#cfc5bd" stroke="#2a2a31" stroke-width="1.9" stroke-linejoin="round" />
<polygon points="774.9,450.2 770.6,447.8 786.9,438.4 791.2,440.8" fill="#e6dfda"/>
<polygon points="780.9,454.7 762.9,444.3 780.9,433.9 798.9,444.3" fill="none" stroke="#2a2a31" stroke-width="1.9" stroke-linejoin="round" />
<line x1="771.9" y1="467.7" x2="771.9" y2="451.5" stroke="#c9404a" stroke-width="0.9" stroke-linecap="round" stroke-dasharray="0.8 3.4" opacity="0.8"/>
<polygon points="816.9,474.9 798.9,464.5 798.9,444.3 816.9,454.7" fill="#5b5b5c" stroke="#2a2a31" stroke-width="1.9" stroke-linejoin="round" />
<polygon points="816.9,474.9 834.9,464.5 834.9,444.3 816.9,454.7" fill="#a78d7a" stroke="#2a2a31" stroke-width="1.9" stroke-linejoin="round" />
<polygon points="816.9,454.7 798.9,444.3 816.9,433.9 834.9,444.3" fill="#cfc5bd" stroke="#2a2a31" stroke-width="1.9" stroke-linejoin="round" />
<polygon points="810.9,450.2 806.6,447.8 822.9,438.4 827.2,440.8" fill="#e6dfda"/>
<polygon points="816.9,454.7 798.9,444.3 816.9,433.9 834.9,444.3" fill="none" stroke="#2a2a31" stroke-width="1.9" stroke-linejoin="round" />
<line x1="807.9" y1="467.7" x2="807.9" y2="451.5" stroke="#c9404a" stroke-width="0.9" stroke-linecap="round" stroke-dasharray="0.8 3.4" opacity="0.8"/>
<polygon points="798.9,485.3 780.9,474.9 780.9,454.7 798.9,465.1" fill="#5b5b5c" stroke="#2a2a31" stroke-width="1.9" stroke-linejoin="round" />
<polygon points="798.9,485.3 816.9,474.9 816.9,454.7 798.9,465.1" fill="#a78d7a" stroke="#2a2a31" stroke-width="1.9" stroke-linejoin="round" />
<polygon points="798.9,465.1 780.9,454.7 798.9,444.3 816.9,454.7" fill="#cfc5bd" stroke="#2a2a31" stroke-width="1.9" stroke-linejoin="round" />
<polygon points="792.9,460.6 788.6,458.2 804.9,448.8 809.2,451.2" fill="#e6dfda"/>
<polygon points="798.9,465.1 780.9,454.7 798.9,444.3 816.9,454.7" fill="none" stroke="#2a2a31" stroke-width="1.9" stroke-linejoin="round" />
<line x1="789.9" y1="478.1" x2="789.9" y2="461.9" stroke="#c9404a" stroke-width="0.9" stroke-linecap="round" stroke-dasharray="0.8 3.4" opacity="0.8"/>
<polygon points="760.4,445.8 753.6,441.9 753.6,433.3 760.4,437.2" fill="#aebcec" stroke="#2a2a31" stroke-width="1.7" stroke-linejoin="round" />
<polygon points="760.4,445.8 767.1,441.9 767.1,433.3 760.4,437.2" fill="#c2cef3" stroke="#2a2a31" stroke-width="1.7" stroke-linejoin="round" />
<polygon points="760.4,437.2 753.6,433.3 760.4,429.4 767.1,433.3" fill="#c2cef3" stroke="#2a2a31" stroke-width="1.7" stroke-linejoin="round" />
<polygon points="779.6,457 772.9,453.1 772.9,444.5 779.6,448.4" fill="#aebcec" stroke="#2a2a31" stroke-width="1.7" stroke-linejoin="round" />
<polygon points="779.6,457 786.4,453.1 786.4,444.5 779.6,448.4" fill="#c2cef3" stroke="#2a2a31" stroke-width="1.7" stroke-linejoin="round" />
<polygon points="779.6,448.4 772.9,444.5 779.6,440.6 786.4,444.5" fill="#c2cef3" stroke="#2a2a31" stroke-width="1.7" stroke-linejoin="round" />
<polygon points="837.4,445.8 830.7,441.9 830.7,433.3 837.4,437.2" fill="#aebcec" stroke="#2a2a31" stroke-width="1.7" stroke-linejoin="round" />
<polygon points="837.4,445.8 844.2,441.9 844.2,433.3 837.4,437.2" fill="#c2cef3" stroke="#2a2a31" stroke-width="1.7" stroke-linejoin="round" />
<polygon points="837.4,437.2 830.7,433.3 837.4,429.4 844.2,433.3" fill="#c2cef3" stroke="#2a2a31" stroke-width="1.7" stroke-linejoin="round" />
<polygon points="818.2,457 811.4,453.1 811.4,444.5 818.2,448.4" fill="#aebcec" stroke="#2a2a31" stroke-width="1.7" stroke-linejoin="round" />
<polygon points="818.2,457 824.9,453.1 824.9,444.5 818.2,448.4" fill="#c2cef3" stroke="#2a2a31" stroke-width="1.7" stroke-linejoin="round" />
<polygon points="818.2,448.4 811.4,444.5 818.2,440.6 824.9,444.5" fill="#c2cef3" stroke="#2a2a31" stroke-width="1.7" stroke-linejoin="round" />
<polygon points="798.9,468.1 792.1,464.2 792.1,455.6 798.9,459.5" fill="#aebcec" stroke="#2a2a31" stroke-width="1.7" stroke-linejoin="round" />
<polygon points="798.9,468.1 805.7,464.2 805.7,455.6 798.9,459.5" fill="#c2cef3" stroke="#2a2a31" stroke-width="1.7" stroke-linejoin="round" />
<polygon points="798.9,459.5 792.1,455.6 798.9,451.7 805.7,455.6" fill="#c2cef3" stroke="#2a2a31" stroke-width="1.7" stroke-linejoin="round" />
<polygon points="798.9,459.5 753.6,433.3 753.6,430.5 798.9,456.7" fill="#dbd6d4" stroke="#2a2a31" stroke-width="1.7" stroke-linejoin="round" />
<polygon points="798.9,459.5 844.2,433.3 844.2,430.5 798.9,456.7" fill="#dbd6d4" stroke="#2a2a31" stroke-width="1.7" stroke-linejoin="round" />
<polygon points="798.9,456.7 753.6,430.5 798.9,404.4 844.2,430.5" fill="#dbd6d4" stroke="#2a2a31" stroke-width="1.7" stroke-linejoin="round" />
<polygon points="798.9,432.9 780.9,422.5 780.9,402.3 798.9,412.7" fill="#5b5b5c" stroke="#2a2a31" stroke-width="1.9" stroke-linejoin="round" />
<polygon points="798.9,432.9 816.9,422.5 816.9,402.3 798.9,412.7" fill="#a78d7a" stroke="#2a2a31" stroke-width="1.9" stroke-linejoin="round" />
<polygon points="798.9,412.7 780.9,402.3 798.9,391.9 816.9,402.3" fill="#cfc5bd" stroke="#2a2a31" stroke-width="1.9" stroke-linejoin="round" />
<polygon points="792.9,408.2 788.6,405.8 804.9,396.4 809.2,398.8" fill="#e6dfda"/>
<polygon points="798.9,412.7 780.9,402.3 798.9,391.9 816.9,402.3" fill="none" stroke="#2a2a31" stroke-width="1.9" stroke-linejoin="round" />
<line x1="789.9" y1="425.7" x2="789.9" y2="409.5" stroke="#c9404a" stroke-width="0.9" stroke-linecap="round" stroke-dasharray="0.8 3.4" opacity="0.8"/>
<polygon points="780.9,443.3 762.9,432.9 762.9,412.7 780.9,423.1" fill="#5b5b5c" stroke="#2a2a31" stroke-width="1.9" stroke-linejoin="round" />
<polygon points="780.9,443.3 798.9,432.9 798.9,412.7 780.9,423.1" fill="#a78d7a" stroke="#2a2a31" stroke-width="1.9" stroke-linejoin="round" />
<polygon points="780.9,423.1 762.9,412.7 780.9,402.3 798.9,412.7" fill="#cfc5bd" stroke="#2a2a31" stroke-width="1.9" stroke-linejoin="round" />
<polygon points="774.9,418.6 770.6,416.2 786.9,406.8 791.2,409.2" fill="#e6dfda"/>
<polygon points="780.9,423.1 762.9,412.7 780.9,402.3 798.9,412.7" fill="none" stroke="#2a2a31" stroke-width="1.9" stroke-linejoin="round" />
<line x1="771.9" y1="436.1" x2="771.9" y2="419.9" stroke="#c9404a" stroke-width="0.9" stroke-linecap="round" stroke-dasharray="0.8 3.4" opacity="0.8"/>
<polygon points="816.9,443.3 798.9,432.9 798.9,412.7 816.9,423.1" fill="#5b5b5c" stroke="#2a2a31" stroke-width="1.9" stroke-linejoin="round" />
<polygon points="816.9,443.3 834.9,432.9 834.9,412.7 816.9,423.1" fill="#a78d7a" stroke="#2a2a31" stroke-width="1.9" stroke-linejoin="round" />
<polygon points="816.9,423.1 798.9,412.7 816.9,402.3 834.9,412.7" fill="#cfc5bd" stroke="#2a2a31" stroke-width="1.9" stroke-linejoin="round" />
<polygon points="810.9,418.6 806.6,416.2 822.9,406.8 827.2,409.2" fill="#e6dfda"/>
<polygon points="816.9,423.1 798.9,412.7 816.9,402.3 834.9,412.7" fill="none" stroke="#2a2a31" stroke-width="1.9" stroke-linejoin="round" />
<line x1="807.9" y1="436.1" x2="807.9" y2="419.9" stroke="#c9404a" stroke-width="0.9" stroke-linecap="round" stroke-dasharray="0.8 3.4" opacity="0.8"/>
<polygon points="798.9,453.7 780.9,443.3 780.9,423.1 798.9,433.5" fill="#5b5b5c" stroke="#2a2a31" stroke-width="1.9" stroke-linejoin="round" />
<polygon points="798.9,453.7 816.9,443.3 816.9,423.1 798.9,433.5" fill="#a78d7a" stroke="#2a2a31" stroke-width="1.9" stroke-linejoin="round" />
<polygon points="798.9,433.5 780.9,423.1 798.9,412.7 816.9,423.1" fill="#cfc5bd" stroke="#2a2a31" stroke-width="1.9" stroke-linejoin="round" />
<polygon points="792.9,429 788.6,426.6 804.9,417.2 809.2,419.6" fill="#e6dfda"/>
<polygon points="798.9,433.5 780.9,423.1 798.9,412.7 816.9,423.1" fill="none" stroke="#2a2a31" stroke-width="1.9" stroke-linejoin="round" />
<line x1="789.9" y1="446.5" x2="789.9" y2="430.3" stroke="#c9404a" stroke-width="0.9" stroke-linecap="round" stroke-dasharray="0.8 3.4" opacity="0.8"/>
<polygon points="798.9,412.7 780.9,402.3 780.9,382.1 798.9,392.5" fill="#5b5b5c" stroke="#2a2a31" stroke-width="1.9" stroke-linejoin="round" />
<polygon points="798.9,412.7 816.9,402.3 816.9,382.1 798.9,392.5" fill="#a78d7a" stroke="#2a2a31" stroke-width="1.9" stroke-linejoin="round" />
<polygon points="798.9,392.5 780.9,382.1 798.9,371.7 816.9,382.1" fill="#cfc5bd" stroke="#2a2a31" stroke-width="1.9" stroke-linejoin="round" />
<polygon points="792.9,388 788.6,385.6 804.9,376.2 809.2,378.6" fill="#e6dfda"/>
<polygon points="798.9,392.5 780.9,382.1 798.9,371.7 816.9,382.1" fill="none" stroke="#2a2a31" stroke-width="1.9" stroke-linejoin="round" />
<line x1="789.9" y1="405.5" x2="789.9" y2="389.3" stroke="#c9404a" stroke-width="0.9" stroke-linecap="round" stroke-dasharray="0.8 3.4" opacity="0.8"/>
<polygon points="780.9,423.1 762.9,412.7 762.9,392.5 780.9,402.9" fill="#5b5b5c" stroke="#2a2a31" stroke-width="1.9" stroke-linejoin="round" />
<polygon points="780.9,423.1 798.9,412.7 798.9,392.5 780.9,402.9" fill="#a78d7a" stroke="#2a2a31" stroke-width="1.9" stroke-linejoin="round" />
<polygon points="780.9,402.9 762.9,392.5 780.9,382.1 798.9,392.5" fill="#cfc5bd" stroke="#2a2a31" stroke-width="1.9" stroke-linejoin="round" />
<polygon points="774.9,398.4 770.6,396 786.9,386.6 791.2,389" fill="#e6dfda"/>
<polygon points="780.9,402.9 762.9,392.5 780.9,382.1 798.9,392.5" fill="none" stroke="#2a2a31" stroke-width="1.9" stroke-linejoin="round" />
<line x1="771.9" y1="415.9" x2="771.9" y2="399.7" stroke="#c9404a" stroke-width="0.9" stroke-linecap="round" stroke-dasharray="0.8 3.4" opacity="0.8"/>
<polygon points="816.9,423.1 798.9,412.7 798.9,392.5 816.9,402.9" fill="#5b5b5c" stroke="#2a2a31" stroke-width="1.9" stroke-linejoin="round" />
<polygon points="816.9,423.1 834.9,412.7 834.9,392.5 816.9,402.9" fill="#a78d7a" stroke="#2a2a31" stroke-width="1.9" stroke-linejoin="round" />
<polygon points="816.9,402.9 798.9,392.5 816.9,382.1 834.9,392.5" fill="#cfc5bd" stroke="#2a2a31" stroke-width="1.9" stroke-linejoin="round" />
<polygon points="810.9,398.4 806.6,396 822.9,386.6 827.2,389" fill="#e6dfda"/>
<polygon points="816.9,402.9 798.9,392.5 816.9,382.1 834.9,392.5" fill="none" stroke="#2a2a31" stroke-width="1.9" stroke-linejoin="round" />
<line x1="807.9" y1="415.9" x2="807.9" y2="399.7" stroke="#c9404a" stroke-width="0.9" stroke-linecap="round" stroke-dasharray="0.8 3.4" opacity="0.8"/>
<polygon points="798.9,433.5 780.9,423.1 780.9,402.9 798.9,413.3" fill="#5b5b5c" stroke="#2a2a31" stroke-width="1.9" stroke-linejoin="round" />
<polygon points="798.9,433.5 816.9,423.1 816.9,402.9 798.9,413.3" fill="#a78d7a" stroke="#2a2a31" stroke-width="1.9" stroke-linejoin="round" />
<polygon points="798.9,413.3 780.9,402.9 798.9,392.5 816.9,402.9" fill="#cfc5bd" stroke="#2a2a31" stroke-width="1.9" stroke-linejoin="round" />
<polygon points="792.9,408.8 788.6,406.4 804.9,397 809.2,399.4" fill="#e6dfda"/>
<polygon points="798.9,413.3 780.9,402.9 798.9,392.5 816.9,402.9" fill="none" stroke="#2a2a31" stroke-width="1.9" stroke-linejoin="round" />
<line x1="789.9" y1="426.3" x2="789.9" y2="410.1" stroke="#c9404a" stroke-width="0.9" stroke-linecap="round" stroke-dasharray="0.8 3.4" opacity="0.8"/>
<polygon points="699.1,531.6 692.3,527.8 692.3,519.1 699.1,523" fill="#aebcec" stroke="#2a2a31" stroke-width="1.7" stroke-linejoin="round" />
<polygon points="699.1,531.6 705.8,527.8 705.8,519.1 699.1,523" fill="#c2cef3" stroke="#2a2a31" stroke-width="1.7" stroke-linejoin="round" />
<polygon points="699.1,523 692.3,519.1 699.1,515.2 705.8,519.1" fill="#c2cef3" stroke="#2a2a31" stroke-width="1.7" stroke-linejoin="round" />
<polygon points="718.3,542.8 711.6,538.9 711.6,530.3 718.3,534.2" fill="#aebcec" stroke="#2a2a31" stroke-width="1.7" stroke-linejoin="round" />
<polygon points="718.3,542.8 725.1,538.9 725.1,530.3 718.3,534.2" fill="#c2cef3" stroke="#2a2a31" stroke-width="1.7" stroke-linejoin="round" />
<polygon points="718.3,534.2 711.6,530.3 718.3,526.4 725.1,530.3" fill="#c2cef3" stroke="#2a2a31" stroke-width="1.7" stroke-linejoin="round" />
<polygon points="776.1,531.6 769.4,527.8 769.4,519.1 776.1,523" fill="#aebcec" stroke="#2a2a31" stroke-width="1.7" stroke-linejoin="round" />
<polygon points="776.1,531.6 782.9,527.8 782.9,519.1 776.1,523" fill="#c2cef3" stroke="#2a2a31" stroke-width="1.7" stroke-linejoin="round" />
<polygon points="776.1,523 769.4,519.1 776.1,515.2 782.9,519.1" fill="#c2cef3" stroke="#2a2a31" stroke-width="1.7" stroke-linejoin="round" />
<polygon points="756.9,542.8 750.1,538.9 750.1,530.3 756.9,534.2" fill="#aebcec" stroke="#2a2a31" stroke-width="1.7" stroke-linejoin="round" />
<polygon points="756.9,542.8 763.6,538.9 763.6,530.3 756.9,534.2" fill="#c2cef3" stroke="#2a2a31" stroke-width="1.7" stroke-linejoin="round" />
<polygon points="756.9,534.2 750.1,530.3 756.9,526.4 763.6,530.3" fill="#c2cef3" stroke="#2a2a31" stroke-width="1.7" stroke-linejoin="round" />
<polygon points="737.6,553.9 730.8,550 730.8,541.4 737.6,545.3" fill="#aebcec" stroke="#2a2a31" stroke-width="1.7" stroke-linejoin="round" />
<polygon points="737.6,553.9 744.4,550 744.4,541.4 737.6,545.3" fill="#c2cef3" stroke="#2a2a31" stroke-width="1.7" stroke-linejoin="round" />
<polygon points="737.6,545.3 730.8,541.4 737.6,537.5 744.4,541.4" fill="#c2cef3" stroke="#2a2a31" stroke-width="1.7" stroke-linejoin="round" />
<polygon points="737.6,545.3 692.3,519.1 692.3,516.4 737.6,542.5" fill="#dbd6d4" stroke="#2a2a31" stroke-width="1.7" stroke-linejoin="round" />
<polygon points="737.6,545.3 782.9,519.1 782.9,516.4 737.6,542.5" fill="#dbd6d4" stroke="#2a2a31" stroke-width="1.7" stroke-linejoin="round" />
<polygon points="737.6,542.5 692.3,516.4 737.6,490.2 782.9,516.4" fill="#dbd6d4" stroke="#2a2a31" stroke-width="1.7" stroke-linejoin="round" />
<polygon points="737.6,518.7 719.6,508.3 719.6,488.1 737.6,498.5" fill="#5b5b5c" stroke="#2a2a31" stroke-width="1.9" stroke-linejoin="round" />
<polygon points="737.6,518.7 755.6,508.3 755.6,488.1 737.6,498.5" fill="#a78d7a" stroke="#2a2a31" stroke-width="1.9" stroke-linejoin="round" />
<polygon points="737.6,498.5 719.6,488.1 737.6,477.7 755.6,488.1" fill="#cfc5bd" stroke="#2a2a31" stroke-width="1.9" stroke-linejoin="round" />
<polygon points="731.6,494 727.3,491.6 743.6,482.2 747.9,484.6" fill="#e6dfda"/>
<polygon points="737.6,498.5 719.6,488.1 737.6,477.7 755.6,488.1" fill="none" stroke="#2a2a31" stroke-width="1.9" stroke-linejoin="round" />
<line x1="728.6" y1="511.5" x2="728.6" y2="495.3" stroke="#c9404a" stroke-width="0.9" stroke-linecap="round" stroke-dasharray="0.8 3.4" opacity="0.8"/>
<polygon points="719.6,529.1 701.6,518.7 701.6,498.5 719.6,508.9" fill="#5b5b5c" stroke="#2a2a31" stroke-width="1.9" stroke-linejoin="round" />
<polygon points="719.6,529.1 737.6,518.7 737.6,498.5 719.6,508.9" fill="#a78d7a" stroke="#2a2a31" stroke-width="1.9" stroke-linejoin="round" />
<polygon points="719.6,508.9 701.6,498.5 719.6,488.1 737.6,498.5" fill="#cfc5bd" stroke="#2a2a31" stroke-width="1.9" stroke-linejoin="round" />
<polygon points="713.6,504.4 709.3,502 725.6,492.6 729.9,495" fill="#e6dfda"/>
<polygon points="719.6,508.9 701.6,498.5 719.6,488.1 737.6,498.5" fill="none" stroke="#2a2a31" stroke-width="1.9" stroke-linejoin="round" />
<line x1="710.6" y1="521.9" x2="710.6" y2="505.7" stroke="#c9404a" stroke-width="0.9" stroke-linecap="round" stroke-dasharray="0.8 3.4" opacity="0.8"/>
<polygon points="755.6,529.1 737.6,518.7 737.6,498.5 755.6,508.9" fill="#5b5b5c" stroke="#2a2a31" stroke-width="1.9" stroke-linejoin="round" />
<polygon points="755.6,529.1 773.6,518.7 773.6,498.5 755.6,508.9" fill="#a78d7a" stroke="#2a2a31" stroke-width="1.9" stroke-linejoin="round" />
<polygon points="755.6,508.9 737.6,498.5 755.6,488.1 773.6,498.5" fill="#cfc5bd" stroke="#2a2a31" stroke-width="1.9" stroke-linejoin="round" />
<polygon points="749.6,504.4 745.3,502 761.6,492.6 765.9,495" fill="#e6dfda"/>
<polygon points="755.6,508.9 737.6,498.5 755.6,488.1 773.6,498.5" fill="none" stroke="#2a2a31" stroke-width="1.9" stroke-linejoin="round" />
<line x1="746.6" y1="521.9" x2="746.6" y2="505.7" stroke="#c9404a" stroke-width="0.9" stroke-linecap="round" stroke-dasharray="0.8 3.4" opacity="0.8"/>
<polygon points="737.6,539.5 719.6,529.1 719.6,508.9 737.6,519.3" fill="#5b5b5c" stroke="#2a2a31" stroke-width="1.9" stroke-linejoin="round" />
<polygon points="737.6,539.5 755.6,529.1 755.6,508.9 737.6,519.3" fill="#a78d7a" stroke="#2a2a31" stroke-width="1.9" stroke-linejoin="round" />
<polygon points="737.6,519.3 719.6,508.9 737.6,498.5 755.6,508.9" fill="#cfc5bd" stroke="#2a2a31" stroke-width="1.9" stroke-linejoin="round" />
<polygon points="731.6,514.8 727.3,512.4 743.6,503 747.9,505.4" fill="#e6dfda"/>
<polygon points="737.6,519.3 719.6,508.9 737.6,498.5 755.6,508.9" fill="none" stroke="#2a2a31" stroke-width="1.9" stroke-linejoin="round" />
<line x1="728.6" y1="532.3" x2="728.6" y2="516.1" stroke="#c9404a" stroke-width="0.9" stroke-linecap="round" stroke-dasharray="0.8 3.4" opacity="0.8"/>
<polygon points="737.6,498.5 719.6,488.1 719.6,467.9 737.6,478.3" fill="#5b5b5c" stroke="#2a2a31" stroke-width="1.9" stroke-linejoin="round" />
<polygon points="737.6,498.5 755.6,488.1 755.6,467.9 737.6,478.3" fill="#a78d7a" stroke="#2a2a31" stroke-width="1.9" stroke-linejoin="round" />
<polygon points="737.6,478.3 719.6,467.9 737.6,457.5 755.6,467.9" fill="#cfc5bd" stroke="#2a2a31" stroke-width="1.9" stroke-linejoin="round" />
<polygon points="731.6,473.8 727.3,471.4 743.6,462 747.9,464.4" fill="#e6dfda"/>
<polygon points="737.6,478.3 719.6,467.9 737.6,457.5 755.6,467.9" fill="none" stroke="#2a2a31" stroke-width="1.9" stroke-linejoin="round" />
<line x1="728.6" y1="491.3" x2="728.6" y2="475.1" stroke="#c9404a" stroke-width="0.9" stroke-linecap="round" stroke-dasharray="0.8 3.4" opacity="0.8"/>
<polygon points="719.6,508.9 701.6,498.5 701.6,478.3 719.6,488.7" fill="#5b5b5c" stroke="#2a2a31" stroke-width="1.9" stroke-linejoin="round" />
<polygon points="719.6,508.9 737.6,498.5 737.6,478.3 719.6,488.7" fill="#a78d7a" stroke="#2a2a31" stroke-width="1.9" stroke-linejoin="round" />
<polygon points="719.6,488.7 701.6,478.3 719.6,467.9 737.6,478.3" fill="#cfc5bd" stroke="#2a2a31" stroke-width="1.9" stroke-linejoin="round" />
<polygon points="713.6,484.2 709.3,481.8 725.6,472.4 729.9,474.8" fill="#e6dfda"/>
<polygon points="719.6,488.7 701.6,478.3 719.6,467.9 737.6,478.3" fill="none" stroke="#2a2a31" stroke-width="1.9" stroke-linejoin="round" />
<line x1="710.6" y1="501.7" x2="710.6" y2="485.5" stroke="#c9404a" stroke-width="0.9" stroke-linecap="round" stroke-dasharray="0.8 3.4" opacity="0.8"/>
<polygon points="755.6,508.9 737.6,498.5 737.6,478.3 755.6,488.7" fill="#5b5b5c" stroke="#2a2a31" stroke-width="1.9" stroke-linejoin="round" />
<polygon points="755.6,508.9 773.6,498.5 773.6,478.3 755.6,488.7" fill="#a78d7a" stroke="#2a2a31" stroke-width="1.9" stroke-linejoin="round" />
<polygon points="755.6,488.7 737.6,478.3 755.6,467.9 773.6,478.3" fill="#cfc5bd" stroke="#2a2a31" stroke-width="1.9" stroke-linejoin="round" />
<polygon points="749.6,484.2 745.3,481.8 761.6,472.4 765.9,474.8" fill="#e6dfda"/>
<polygon points="755.6,488.7 737.6,478.3 755.6,467.9 773.6,478.3" fill="none" stroke="#2a2a31" stroke-width="1.9" stroke-linejoin="round" />
<line x1="746.6" y1="501.7" x2="746.6" y2="485.5" stroke="#c9404a" stroke-width="0.9" stroke-linecap="round" stroke-dasharray="0.8 3.4" opacity="0.8"/>
<polygon points="737.6,519.3 719.6,508.9 719.6,488.7 737.6,499.1" fill="#5b5b5c" stroke="#2a2a31" stroke-width="1.9" stroke-linejoin="round" />
<polygon points="737.6,519.3 755.6,508.9 755.6,488.7 737.6,499.1" fill="#a78d7a" stroke="#2a2a31" stroke-width="1.9" stroke-linejoin="round" />
<polygon points="737.6,499.1 719.6,488.7 737.6,478.3 755.6,488.7" fill="#cfc5bd" stroke="#2a2a31" stroke-width="1.9" stroke-linejoin="round" />
<polygon points="731.6,494.6 727.3,492.2 743.6,482.8 747.9,485.2" fill="#e6dfda"/>
<polygon points="737.6,499.1 719.6,488.7 737.6,478.3 755.6,488.7" fill="none" stroke="#2a2a31" stroke-width="1.9" stroke-linejoin="round" />
<line x1="728.6" y1="512.1" x2="728.6" y2="495.9" stroke="#c9404a" stroke-width="0.9" stroke-linecap="round" stroke-dasharray="0.8 3.4" opacity="0.8"/>
<polygon points="699.1,479.8 692.3,475.9 692.3,467.3 699.1,471.2" fill="#aebcec" stroke="#2a2a31" stroke-width="1.7" stroke-linejoin="round" />
<polygon points="699.1,479.8 705.8,475.9 705.8,467.3 699.1,471.2" fill="#c2cef3" stroke="#2a2a31" stroke-width="1.7" stroke-linejoin="round" />
<polygon points="699.1,471.2 692.3,467.3 699.1,463.4 705.8,467.3" fill="#c2cef3" stroke="#2a2a31" stroke-width="1.7" stroke-linejoin="round" />
<polygon points="718.3,491 711.6,487.1 711.6,478.5 718.3,482.4" fill="#aebcec" stroke="#2a2a31" stroke-width="1.7" stroke-linejoin="round" />
<polygon points="718.3,491 725.1,487.1 725.1,478.5 718.3,482.4" fill="#c2cef3" stroke="#2a2a31" stroke-width="1.7" stroke-linejoin="round" />
<polygon points="718.3,482.4 711.6,478.5 718.3,474.6 725.1,478.5" fill="#c2cef3" stroke="#2a2a31" stroke-width="1.7" stroke-linejoin="round" />
<polygon points="776.1,479.8 769.4,475.9 769.4,467.3 776.1,471.2" fill="#aebcec" stroke="#2a2a31" stroke-width="1.7" stroke-linejoin="round" />
<polygon points="776.1,479.8 782.9,475.9 782.9,467.3 776.1,471.2" fill="#c2cef3" stroke="#2a2a31" stroke-width="1.7" stroke-linejoin="round" />
<polygon points="776.1,471.2 769.4,467.3 776.1,463.4 782.9,467.3" fill="#c2cef3" stroke="#2a2a31" stroke-width="1.7" stroke-linejoin="round" />
<polygon points="756.9,491 750.1,487.1 750.1,478.5 756.9,482.4" fill="#aebcec" stroke="#2a2a31" stroke-width="1.7" stroke-linejoin="round" />
<polygon points="756.9,491 763.6,487.1 763.6,478.5 756.9,482.4" fill="#c2cef3" stroke="#2a2a31" stroke-width="1.7" stroke-linejoin="round" />
<polygon points="756.9,482.4 750.1,478.5 756.9,474.6 763.6,478.5" fill="#c2cef3" stroke="#2a2a31" stroke-width="1.7" stroke-linejoin="round" />
<polygon points="737.6,502.1 730.8,498.2 730.8,489.6 737.6,493.5" fill="#aebcec" stroke="#2a2a31" stroke-width="1.7" stroke-linejoin="round" />
<polygon points="737.6,502.1 744.4,498.2 744.4,489.6 737.6,493.5" fill="#c2cef3" stroke="#2a2a31" stroke-width="1.7" stroke-linejoin="round" />
<polygon points="737.6,493.5 730.8,489.6 737.6,485.7 744.4,489.6" fill="#c2cef3" stroke="#2a2a31" stroke-width="1.7" stroke-linejoin="round" />
<polygon points="737.6,493.5 692.3,467.3 692.3,464.5 737.6,490.7" fill="#dbd6d4" stroke="#2a2a31" stroke-width="1.7" stroke-linejoin="round" />
<polygon points="737.6,493.5 782.9,467.3 782.9,464.5 737.6,490.7" fill="#dbd6d4" stroke="#2a2a31" stroke-width="1.7" stroke-linejoin="round" />
<polygon points="737.6,490.7 692.3,464.5 737.6,438.4 782.9,464.5" fill="#dbd6d4" stroke="#2a2a31" stroke-width="1.7" stroke-linejoin="round" />
<polygon points="737.6,466.9 719.6,456.5 719.6,436.3 737.6,446.7" fill="#5b5b5c" stroke="#2a2a31" stroke-width="1.9" stroke-linejoin="round" />
<polygon points="737.6,466.9 755.6,456.5 755.6,436.3 737.6,446.7" fill="#a78d7a" stroke="#2a2a31" stroke-width="1.9" stroke-linejoin="round" />
<polygon points="737.6,446.7 719.6,436.3 737.6,425.9 755.6,436.3" fill="#cfc5bd" stroke="#2a2a31" stroke-width="1.9" stroke-linejoin="round" />
<polygon points="731.6,442.2 727.3,439.8 743.6,430.4 747.9,432.8" fill="#e6dfda"/>
<polygon points="737.6,446.7 719.6,436.3 737.6,425.9 755.6,436.3" fill="none" stroke="#2a2a31" stroke-width="1.9" stroke-linejoin="round" />
<line x1="728.6" y1="459.7" x2="728.6" y2="443.5" stroke="#c9404a" stroke-width="0.9" stroke-linecap="round" stroke-dasharray="0.8 3.4" opacity="0.8"/>
<polygon points="719.6,477.3 701.6,466.9 701.6,446.7 719.6,457.1" fill="#5b5b5c" stroke="#2a2a31" stroke-width="1.9" stroke-linejoin="round" />
<polygon points="719.6,477.3 737.6,466.9 737.6,446.7 719.6,457.1" fill="#a78d7a" stroke="#2a2a31" stroke-width="1.9" stroke-linejoin="round" />
<polygon points="719.6,457.1 701.6,446.7 719.6,436.3 737.6,446.7" fill="#cfc5bd" stroke="#2a2a31" stroke-width="1.9" stroke-linejoin="round" />
<polygon points="713.6,452.6 709.3,450.2 725.6,440.8 729.9,443.2" fill="#e6dfda"/>
<polygon points="719.6,457.1 701.6,446.7 719.6,436.3 737.6,446.7" fill="none" stroke="#2a2a31" stroke-width="1.9" stroke-linejoin="round" />
<line x1="710.6" y1="470.1" x2="710.6" y2="453.9" stroke="#c9404a" stroke-width="0.9" stroke-linecap="round" stroke-dasharray="0.8 3.4" opacity="0.8"/>
<polygon points="755.6,477.3 737.6,466.9 737.6,446.7 755.6,457.1" fill="#5b5b5c" stroke="#2a2a31" stroke-width="1.9" stroke-linejoin="round" />
<polygon points="755.6,477.3 773.6,466.9 773.6,446.7 755.6,457.1" fill="#a78d7a" stroke="#2a2a31" stroke-width="1.9" stroke-linejoin="round" />
<polygon points="755.6,457.1 737.6,446.7 755.6,436.3 773.6,446.7" fill="#cfc5bd" stroke="#2a2a31" stroke-width="1.9" stroke-linejoin="round" />
<polygon points="749.6,452.6 745.3,450.2 761.6,440.8 765.9,443.2" fill="#e6dfda"/>
<polygon points="755.6,457.1 737.6,446.7 755.6,436.3 773.6,446.7" fill="none" stroke="#2a2a31" stroke-width="1.9" stroke-linejoin="round" />
<line x1="746.6" y1="470.1" x2="746.6" y2="453.9" stroke="#c9404a" stroke-width="0.9" stroke-linecap="round" stroke-dasharray="0.8 3.4" opacity="0.8"/>
<polygon points="737.6,487.7 719.6,477.3 719.6,457.1 737.6,467.5" fill="#5b5b5c" stroke="#2a2a31" stroke-width="1.9" stroke-linejoin="round" />
<polygon points="737.6,487.7 755.6,477.3 755.6,457.1 737.6,467.5" fill="#a78d7a" stroke="#2a2a31" stroke-width="1.9" stroke-linejoin="round" />
<polygon points="737.6,467.5 719.6,457.1 737.6,446.7 755.6,457.1" fill="#cfc5bd" stroke="#2a2a31" stroke-width="1.9" stroke-linejoin="round" />
<polygon points="731.6,463 727.3,460.6 743.6,451.2 747.9,453.6" fill="#e6dfda"/>
<polygon points="737.6,467.5 719.6,457.1 737.6,446.7 755.6,457.1" fill="none" stroke="#2a2a31" stroke-width="1.9" stroke-linejoin="round" />
<line x1="728.6" y1="480.5" x2="728.6" y2="464.3" stroke="#c9404a" stroke-width="0.9" stroke-linecap="round" stroke-dasharray="0.8 3.4" opacity="0.8"/>
<polygon points="737.6,446.7 719.6,436.3 719.6,416.1 737.6,426.5" fill="#5b5b5c" stroke="#2a2a31" stroke-width="1.9" stroke-linejoin="round" />
<polygon points="737.6,446.7 755.6,436.3 755.6,416.1 737.6,426.5" fill="#a78d7a" stroke="#2a2a31" stroke-width="1.9" stroke-linejoin="round" />
<polygon points="737.6,426.5 719.6,416.1 737.6,405.7 755.6,416.1" fill="#cfc5bd" stroke="#2a2a31" stroke-width="1.9" stroke-linejoin="round" />
<polygon points="731.6,422 727.3,419.6 743.6,410.2 747.9,412.6" fill="#e6dfda"/>
<polygon points="737.6,426.5 719.6,416.1 737.6,405.7 755.6,416.1" fill="none" stroke="#2a2a31" stroke-width="1.9" stroke-linejoin="round" />
<line x1="728.6" y1="439.5" x2="728.6" y2="423.3" stroke="#c9404a" stroke-width="0.9" stroke-linecap="round" stroke-dasharray="0.8 3.4" opacity="0.8"/>
<polygon points="719.6,457.1 701.6,446.7 701.6,426.5 719.6,436.9" fill="#5b5b5c" stroke="#2a2a31" stroke-width="1.9" stroke-linejoin="round" />
<polygon points="719.6,457.1 737.6,446.7 737.6,426.5 719.6,436.9" fill="#a78d7a" stroke="#2a2a31" stroke-width="1.9" stroke-linejoin="round" />
<polygon points="719.6,436.9 701.6,426.5 719.6,416.1 737.6,426.5" fill="#cfc5bd" stroke="#2a2a31" stroke-width="1.9" stroke-linejoin="round" />
<polygon points="713.6,432.4 709.3,430 725.6,420.6 729.9,423" fill="#e6dfda"/>
<polygon points="719.6,436.9 701.6,426.5 719.6,416.1 737.6,426.5" fill="none" stroke="#2a2a31" stroke-width="1.9" stroke-linejoin="round" />
<line x1="710.6" y1="449.9" x2="710.6" y2="433.7" stroke="#c9404a" stroke-width="0.9" stroke-linecap="round" stroke-dasharray="0.8 3.4" opacity="0.8"/>
<polygon points="755.6,457.1 737.6,446.7 737.6,426.5 755.6,436.9" fill="#5b5b5c" stroke="#2a2a31" stroke-width="1.9" stroke-linejoin="round" />
<polygon points="755.6,457.1 773.6,446.7 773.6,426.5 755.6,436.9" fill="#a78d7a" stroke="#2a2a31" stroke-width="1.9" stroke-linejoin="round" />
<polygon points="755.6,436.9 737.6,426.5 755.6,416.1 773.6,426.5" fill="#cfc5bd" stroke="#2a2a31" stroke-width="1.9" stroke-linejoin="round" />
<polygon points="749.6,432.4 745.3,430 761.6,420.6 765.9,423" fill="#e6dfda"/>
<polygon points="755.6,436.9 737.6,426.5 755.6,416.1 773.6,426.5" fill="none" stroke="#2a2a31" stroke-width="1.9" stroke-linejoin="round" />
<line x1="746.6" y1="449.9" x2="746.6" y2="433.7" stroke="#c9404a" stroke-width="0.9" stroke-linecap="round" stroke-dasharray="0.8 3.4" opacity="0.8"/>
<polygon points="737.6,467.5 719.6,457.1 719.6,436.9 737.6,447.3" fill="#5b5b5c" stroke="#2a2a31" stroke-width="1.9" stroke-linejoin="round" />
<polygon points="737.6,467.5 755.6,457.1 755.6,436.9 737.6,447.3" fill="#a78d7a" stroke="#2a2a31" stroke-width="1.9" stroke-linejoin="round" />
<polygon points="737.6,447.3 719.6,436.9 737.6,426.5 755.6,436.9" fill="#cfc5bd" stroke="#2a2a31" stroke-width="1.9" stroke-linejoin="round" />
<polygon points="731.6,442.8 727.3,440.4 743.6,431 747.9,433.4" fill="#e6dfda"/>
<polygon points="737.6,447.3 719.6,436.9 737.6,426.5 755.6,436.9" fill="none" stroke="#2a2a31" stroke-width="1.9" stroke-linejoin="round" />
<line x1="728.6" y1="460.3" x2="728.6" y2="444.1" stroke="#c9404a" stroke-width="0.9" stroke-linecap="round" stroke-dasharray="0.8 3.4" opacity="0.8"/>
<line x1="290" y1="108" x2="323.8" y2="203" stroke="#c3c9e6" stroke-width="1" stroke-linecap="round" />
<rect x="97" y="72" width="211" height="37" rx="18.5" fill="#e4e8f5" filter="url(#sh)"/>
<text x="115.3" y="96.5" textLength="178" lengthAdjust="spacingAndGlyphs" font-family="Liberation Sans, sans-serif" font-size="18" fill="#3e4071">Big Data Technologies</text>
<line x1="632" y1="69" x2="653" y2="56" stroke="#c3c9e6" stroke-width="1" stroke-linecap="round" />
<rect x="653" y="38" width="317.5" height="37" rx="18.5" fill="#e4e8f5" filter="url(#sh)"/>
<text x="664.7" y="62.8" textLength="295.5" lengthAdjust="spacingAndGlyphs" font-family="Liberation Sans, sans-serif" font-size="18" fill="#3e4071">Wireless Communication Techniques</text>
<line x1="110.6" y1="339" x2="96.5" y2="359" stroke="#c3c9e6" stroke-width="1" stroke-linecap="round" />
<rect x="1.5" y="359.2" width="240.5" height="37" rx="18.5" fill="#e4e8f5" filter="url(#sh)"/>
<text x="16" y="384" textLength="215" lengthAdjust="spacingAndGlyphs" font-family="Liberation Sans, sans-serif" font-size="18" fill="#3e4071">Cloud Computing Services</text>
<line x1="241.8" y1="471.5" x2="241.8" y2="492" stroke="#c3c9e6" stroke-width="1" stroke-linecap="round" />
<rect x="193.5" y="492" width="93" height="36.6" rx="18.3" fill="#e4e8f5" filter="url(#sh)"/>
<text x="205.5" y="516.6" textLength="72" lengthAdjust="spacingAndGlyphs" font-family="Liberation Sans, sans-serif" font-size="18" fill="#3e4071">Robotics</text>
<line x1="507.3" y1="489.4" x2="488.7" y2="522" stroke="#c3c9e6" stroke-width="1" stroke-linecap="round" />
<rect x="355" y="522.3" width="232.6" height="68.5" rx="31" fill="#e4e8f5" filter="url(#sh)"/>
<text x="377.3" y="552.8" textLength="184" lengthAdjust="spacingAndGlyphs" font-family="Liberation Sans, sans-serif" font-size="18" fill="#3e4071">Embedded Systems for</text>
<text x="374.7" y="574" textLength="188" lengthAdjust="spacingAndGlyphs" font-family="Liberation Sans, sans-serif" font-size="18" fill="#3e4071">Control and Monitoring</text>
<line x1="716" y1="578.3" x2="727.4" y2="586.8" stroke="#c3c9e6" stroke-width="1" stroke-linecap="round" />
<rect x="720" y="584.2" width="142" height="37.8" rx="18.9" fill="#e4e8f5" filter="url(#sh)"/>
<text x="732.8" y="608.8" textLength="115" lengthAdjust="spacingAndGlyphs" font-family="Liberation Sans, sans-serif" font-size="18" fill="#3e4071">Smart Storage</text>
<line x1="888.5" y1="460.3" x2="899" y2="467.4" stroke="#c3c9e6" stroke-width="1" stroke-linecap="round" />
<rect x="894.8" y="453.9" width="204" height="59" rx="29.5" fill="#e4e8f5" filter="url(#sh)"/>
<text x="916" y="478.6" textLength="159" lengthAdjust="spacingAndGlyphs" font-family="Liberation Sans, sans-serif" font-size="18" fill="#3e4071">Flexible &amp; Intelligent</text>
<text x="930.3" y="499.6" textLength="131" lengthAdjust="spacingAndGlyphs" font-family="Liberation Sans, sans-serif" font-size="18" fill="#3e4071">Logistic Systems</text>
</svg></body></html>
